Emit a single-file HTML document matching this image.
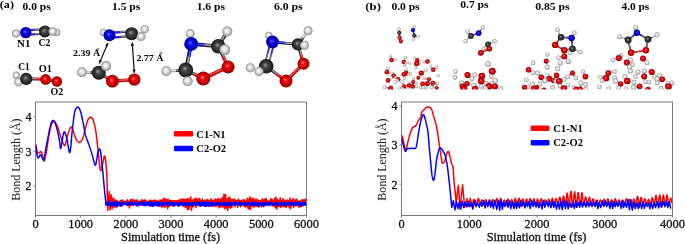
<!DOCTYPE html><html><head><meta charset="utf-8"><style>html,body{margin:0;padding:0;background:#fff;width:685px;height:244px;overflow:hidden}svg{display:block}text{font-family:"Liberation Serif",serif}.gt{filter:grayscale(1)}</style></head><body>
<svg width="685" height="244" viewBox="0 0 685 244">
<defs>
<radialGradient id="gC" cx="50%" cy="50%" r="50%" fx="42%" fy="40%"><stop offset="0" stop-color="#9a9a9a"/><stop offset="0.35" stop-color="#454545"/><stop offset="0.85" stop-color="#222"/><stop offset="1" stop-color="#111"/></radialGradient>
<radialGradient id="gH" cx="50%" cy="50%" r="50%" fx="42%" fy="40%"><stop offset="0" stop-color="#ffffff"/><stop offset="0.45" stop-color="#e2e2e2"/><stop offset="0.85" stop-color="#a8a8a8"/><stop offset="1" stop-color="#808080"/></radialGradient>
<radialGradient id="gN" cx="50%" cy="50%" r="50%" fx="42%" fy="40%"><stop offset="0" stop-color="#6a6aff"/><stop offset="0.35" stop-color="#0a0aee"/><stop offset="0.85" stop-color="#0000b0"/><stop offset="1" stop-color="#000070"/></radialGradient>
<radialGradient id="gO" cx="50%" cy="50%" r="50%" fx="42%" fy="40%"><stop offset="0" stop-color="#ff8080"/><stop offset="0.35" stop-color="#ee0a0a"/><stop offset="0.85" stop-color="#b00000"/><stop offset="1" stop-color="#700000"/></radialGradient>
</defs>
<rect width="685" height="244" fill="#fff"/>
<g><circle cx="16.0" cy="33.6" r="4.0" fill="url(#gH)"/><line x1="25.68" y1="30.14" x2="35.23" y2="29.64" stroke="#0000b0" stroke-width="1.98"/><line x1="25.67" y1="29.90" x2="35.22" y2="29.40" stroke="#5050ff" stroke-width="0.79"/><line x1="35.23" y1="29.64" x2="44.78" y2="29.14" stroke="#2a2a2a" stroke-width="1.98"/><line x1="35.22" y1="29.40" x2="44.77" y2="28.90" stroke="#b0b0b0" stroke-width="0.79"/><line x1="25.92" y1="34.66" x2="35.47" y2="34.16" stroke="#0000b0" stroke-width="1.98"/><line x1="25.91" y1="34.43" x2="35.46" y2="33.93" stroke="#5050ff" stroke-width="0.79"/><line x1="35.47" y1="34.16" x2="45.02" y2="33.66" stroke="#2a2a2a" stroke-width="1.98"/><line x1="35.46" y1="33.93" x2="45.01" y2="33.43" stroke="#b0b0b0" stroke-width="0.79"/><circle cx="25.8" cy="32.6" r="5.7" fill="url(#gN)"/><circle cx="56.5" cy="32.5" r="3.8" fill="url(#gH)"/><circle cx="44.9" cy="31.5" r="5.9" fill="url(#gC)"/><circle cx="52.6" cy="31.5" r="4.2" fill="url(#gH)"/><circle cx="16.3" cy="75.2" r="3.7" fill="url(#gH)"/><circle cx="18.6" cy="82.0" r="4.4" fill="url(#gH)"/><line x1="26.20" y1="78.80" x2="35.90" y2="79.05" stroke="#2a2a2a" stroke-width="3.00"/><line x1="26.21" y1="78.44" x2="35.91" y2="78.69" stroke="#b0b0b0" stroke-width="1.20"/><line x1="35.90" y1="79.05" x2="45.60" y2="79.30" stroke="#b00000" stroke-width="3.00"/><line x1="35.91" y1="78.69" x2="45.61" y2="78.94" stroke="#ff5050" stroke-width="1.20"/><circle cx="26.2" cy="78.9" r="6.1" fill="url(#gC)"/><line x1="45.60" y1="79.30" x2="51.25" y2="80.40" stroke="#b00000" stroke-width="3.40"/><line x1="45.68" y1="78.90" x2="51.33" y2="80.00" stroke="#ff5050" stroke-width="1.36"/><line x1="51.25" y1="80.40" x2="56.90" y2="81.50" stroke="#b00000" stroke-width="3.40"/><line x1="51.33" y1="80.00" x2="56.98" y2="81.10" stroke="#ff5050" stroke-width="1.36"/><circle cx="45.6" cy="79.4" r="5.3" fill="url(#gO)"/><circle cx="56.9" cy="81.5" r="5.2" fill="url(#gO)"/><circle cx="103.6" cy="32.5" r="3.8" fill="url(#gH)"/><line x1="109.33" y1="32.91" x2="120.43" y2="32.11" stroke="#0000b0" stroke-width="2.09"/><line x1="109.31" y1="32.66" x2="120.41" y2="31.86" stroke="#5050ff" stroke-width="0.84"/><line x1="120.43" y1="32.11" x2="131.53" y2="31.31" stroke="#2a2a2a" stroke-width="2.09"/><line x1="120.41" y1="31.86" x2="131.51" y2="31.06" stroke="#b0b0b0" stroke-width="0.84"/><line x1="109.67" y1="37.69" x2="120.77" y2="36.89" stroke="#0000b0" stroke-width="2.09"/><line x1="109.65" y1="37.44" x2="120.75" y2="36.64" stroke="#5050ff" stroke-width="0.84"/><line x1="120.77" y1="36.89" x2="131.87" y2="36.09" stroke="#2a2a2a" stroke-width="2.09"/><line x1="120.75" y1="36.64" x2="131.85" y2="35.84" stroke="#b0b0b0" stroke-width="0.84"/><circle cx="109.5" cy="35.3" r="6.0" fill="url(#gN)"/><circle cx="144.8" cy="29.1" r="4.2" fill="url(#gH)"/><circle cx="131.7" cy="33.7" r="6.5" fill="url(#gC)"/><circle cx="141.1" cy="36.6" r="4.5" fill="url(#gH)"/><line x1="81.90" y1="72.20" x2="90.35" y2="72.45" stroke="#a0a0a0" stroke-width="3.00"/><line x1="81.91" y1="71.84" x2="90.36" y2="72.09" stroke="#f0f0f0" stroke-width="1.20"/><line x1="90.35" y1="72.45" x2="98.80" y2="72.70" stroke="#2a2a2a" stroke-width="3.00"/><line x1="90.36" y1="72.09" x2="98.81" y2="72.34" stroke="#b0b0b0" stroke-width="1.20"/><circle cx="81.9" cy="72.2" r="4.9" fill="url(#gH)"/><line x1="98.80" y1="72.70" x2="105.60" y2="76.95" stroke="#2a2a2a" stroke-width="3.00"/><line x1="98.99" y1="72.39" x2="105.79" y2="76.64" stroke="#b0b0b0" stroke-width="1.20"/><line x1="105.60" y1="76.95" x2="112.40" y2="81.20" stroke="#b00000" stroke-width="3.00"/><line x1="105.79" y1="76.64" x2="112.59" y2="80.89" stroke="#ff5050" stroke-width="1.20"/><circle cx="98.8" cy="72.7" r="7.0" fill="url(#gC)"/><circle cx="106.1" cy="66.1" r="5.0" fill="url(#gH)"/><line x1="112.40" y1="81.20" x2="123.35" y2="80.40" stroke="#b00000" stroke-width="3.40"/><line x1="112.37" y1="80.79" x2="123.32" y2="79.99" stroke="#ff5050" stroke-width="1.36"/><line x1="123.35" y1="80.40" x2="134.30" y2="79.60" stroke="#b00000" stroke-width="3.40"/><line x1="123.32" y1="79.99" x2="134.27" y2="79.19" stroke="#ff5050" stroke-width="1.36"/><circle cx="112.4" cy="81.2" r="6.4" fill="url(#gO)"/><circle cx="134.3" cy="79.6" r="6.2" fill="url(#gO)"/><circle cx="190.2" cy="33.6" r="4.5" fill="url(#gH)"/><line x1="218.30" y1="46.30" x2="222.80" y2="38.90" stroke="#2a2a2a" stroke-width="3.60"/><line x1="217.93" y1="46.08" x2="222.43" y2="38.68" stroke="#b0b0b0" stroke-width="1.44"/><line x1="222.80" y1="38.90" x2="227.30" y2="31.50" stroke="#2a2a2a" stroke-width="3.60"/><line x1="222.43" y1="38.68" x2="226.93" y2="31.28" stroke="#b0b0b0" stroke-width="1.44"/><circle cx="227.3" cy="31.5" r="5.0" fill="url(#gH)"/><line x1="191.20" y1="43.90" x2="204.75" y2="45.10" stroke="#0000b0" stroke-width="3.60"/><line x1="191.24" y1="43.47" x2="204.79" y2="44.67" stroke="#5050ff" stroke-width="1.44"/><line x1="204.75" y1="45.10" x2="218.30" y2="46.30" stroke="#2a2a2a" stroke-width="3.60"/><line x1="204.79" y1="44.67" x2="218.34" y2="45.87" stroke="#b0b0b0" stroke-width="1.44"/><line x1="191.20" y1="43.90" x2="188.50" y2="56.90" stroke="#0000b0" stroke-width="3.80"/><line x1="191.65" y1="43.99" x2="188.95" y2="56.99" stroke="#5050ff" stroke-width="1.52"/><line x1="188.50" y1="56.90" x2="185.80" y2="69.90" stroke="#2a2a2a" stroke-width="3.80"/><line x1="188.95" y1="56.99" x2="186.25" y2="69.99" stroke="#b0b0b0" stroke-width="1.52"/><line x1="218.30" y1="46.30" x2="223.20" y2="56.65" stroke="#2a2a2a" stroke-width="3.30"/><line x1="218.66" y1="46.13" x2="223.56" y2="56.48" stroke="#b0b0b0" stroke-width="1.32"/><line x1="223.20" y1="56.65" x2="228.10" y2="67.00" stroke="#b00000" stroke-width="3.30"/><line x1="223.56" y1="56.48" x2="228.46" y2="66.83" stroke="#ff5050" stroke-width="1.32"/><circle cx="191.2" cy="43.9" r="7.0" fill="url(#gN)"/><circle cx="218.3" cy="46.3" r="7.2" fill="url(#gC)"/><circle cx="224.8" cy="49.6" r="5.4" fill="url(#gH)"/><line x1="166.40" y1="71.20" x2="176.10" y2="70.55" stroke="#a0a0a0" stroke-width="3.00"/><line x1="166.38" y1="70.84" x2="176.08" y2="70.19" stroke="#f0f0f0" stroke-width="1.20"/><line x1="176.10" y1="70.55" x2="185.80" y2="69.90" stroke="#2a2a2a" stroke-width="3.00"/><line x1="176.08" y1="70.19" x2="185.78" y2="69.54" stroke="#b0b0b0" stroke-width="1.20"/><circle cx="166.4" cy="71.2" r="5.0" fill="url(#gH)"/><line x1="185.80" y1="69.90" x2="194.55" y2="74.20" stroke="#2a2a2a" stroke-width="3.30"/><line x1="185.97" y1="69.54" x2="194.72" y2="73.84" stroke="#b0b0b0" stroke-width="1.32"/><line x1="194.55" y1="74.20" x2="203.30" y2="78.50" stroke="#b00000" stroke-width="3.30"/><line x1="194.72" y1="73.84" x2="203.47" y2="78.14" stroke="#ff5050" stroke-width="1.32"/><line x1="203.30" y1="78.50" x2="215.70" y2="72.75" stroke="#b00000" stroke-width="3.60"/><line x1="203.12" y1="78.11" x2="215.52" y2="72.36" stroke="#ff5050" stroke-width="1.44"/><line x1="215.70" y1="72.75" x2="228.10" y2="67.00" stroke="#b00000" stroke-width="3.60"/><line x1="215.52" y1="72.36" x2="227.92" y2="66.61" stroke="#ff5050" stroke-width="1.44"/><circle cx="228.1" cy="67.0" r="6.5" fill="url(#gO)"/><circle cx="185.8" cy="69.9" r="7.4" fill="url(#gC)"/><circle cx="187.6" cy="81.3" r="5.0" fill="url(#gH)"/><circle cx="203.3" cy="78.5" r="7.0" fill="url(#gO)"/><circle cx="268.8" cy="35.4" r="3.6" fill="url(#gH)"/><line x1="298.00" y1="44.40" x2="303.05" y2="37.55" stroke="#2a2a2a" stroke-width="2.80"/><line x1="297.73" y1="44.20" x2="302.78" y2="37.35" stroke="#b0b0b0" stroke-width="1.12"/><line x1="303.05" y1="37.55" x2="308.10" y2="30.70" stroke="#a0a0a0" stroke-width="2.80"/><line x1="302.78" y1="37.35" x2="307.83" y2="30.50" stroke="#f0f0f0" stroke-width="1.12"/><circle cx="308.1" cy="30.7" r="4.5" fill="url(#gH)"/><line x1="272.50" y1="42.00" x2="285.25" y2="43.20" stroke="#0000b0" stroke-width="2.80"/><line x1="272.53" y1="41.67" x2="285.28" y2="42.87" stroke="#5050ff" stroke-width="1.12"/><line x1="285.25" y1="43.20" x2="298.00" y2="44.40" stroke="#2a2a2a" stroke-width="2.80"/><line x1="285.28" y1="42.87" x2="298.03" y2="44.07" stroke="#b0b0b0" stroke-width="1.12"/><line x1="274.33" y1="42.47" x2="271.18" y2="54.62" stroke="#0000b0" stroke-width="1.65"/><line x1="274.52" y1="42.52" x2="271.37" y2="54.67" stroke="#5050ff" stroke-width="0.66"/><line x1="271.18" y1="54.62" x2="268.03" y2="66.77" stroke="#2a2a2a" stroke-width="1.65"/><line x1="271.37" y1="54.67" x2="268.22" y2="66.82" stroke="#b0b0b0" stroke-width="0.66"/><line x1="270.67" y1="41.53" x2="267.52" y2="53.68" stroke="#0000b0" stroke-width="1.65"/><line x1="270.86" y1="41.58" x2="267.71" y2="53.73" stroke="#5050ff" stroke-width="0.66"/><line x1="267.52" y1="53.68" x2="264.37" y2="65.83" stroke="#2a2a2a" stroke-width="1.65"/><line x1="267.71" y1="53.73" x2="264.56" y2="65.88" stroke="#b0b0b0" stroke-width="0.66"/><line x1="298.00" y1="44.40" x2="300.75" y2="54.10" stroke="#2a2a2a" stroke-width="3.00"/><line x1="298.35" y1="44.30" x2="301.10" y2="54.00" stroke="#b0b0b0" stroke-width="1.20"/><line x1="300.75" y1="54.10" x2="303.50" y2="63.80" stroke="#b00000" stroke-width="3.00"/><line x1="301.10" y1="54.00" x2="303.85" y2="63.70" stroke="#ff5050" stroke-width="1.20"/><circle cx="272.5" cy="42.0" r="6.4" fill="url(#gN)"/><circle cx="298.0" cy="44.4" r="6.2" fill="url(#gC)"/><circle cx="304.5" cy="45.3" r="4.5" fill="url(#gH)"/><circle cx="250.3" cy="67.8" r="4.6" fill="url(#gH)"/><line x1="266.20" y1="66.30" x2="276.10" y2="73.65" stroke="#2a2a2a" stroke-width="3.00"/><line x1="266.41" y1="66.01" x2="276.31" y2="73.36" stroke="#b0b0b0" stroke-width="1.20"/><line x1="276.10" y1="73.65" x2="286.00" y2="81.00" stroke="#b00000" stroke-width="3.00"/><line x1="276.31" y1="73.36" x2="286.21" y2="80.71" stroke="#ff5050" stroke-width="1.20"/><line x1="286.00" y1="81.00" x2="294.75" y2="72.40" stroke="#b00000" stroke-width="3.40"/><line x1="285.71" y1="80.71" x2="294.46" y2="72.11" stroke="#ff5050" stroke-width="1.36"/><line x1="294.75" y1="72.40" x2="303.50" y2="63.80" stroke="#b00000" stroke-width="3.40"/><line x1="294.46" y1="72.11" x2="303.21" y2="63.51" stroke="#ff5050" stroke-width="1.36"/><circle cx="303.5" cy="63.8" r="6.0" fill="url(#gO)"/><circle cx="266.2" cy="66.3" r="7.3" fill="url(#gC)"/><circle cx="259.0" cy="71.4" r="4.6" fill="url(#gH)"/><circle cx="286.0" cy="81.0" r="6.5" fill="url(#gO)"/><line x1="107.9" y1="43.0" x2="99.3" y2="63.4" stroke="#111" stroke-width="1.2"/><polygon points="107.90,43.00 105.09,45.29 108.22,46.61" fill="#111"/><polygon points="99.30,63.40 102.11,61.11 98.98,59.79" fill="#111"/><line x1="132.2" y1="42.6" x2="134.3" y2="72.9" stroke="#111" stroke-width="1.2"/><polygon points="132.20,42.60 130.73,45.91 134.12,45.67" fill="#111"/><polygon points="134.30,72.90 135.77,69.59 132.38,69.83" fill="#111"/></g>
<g><line x1="391.50" y1="60.00" x2="391.15" y2="57.85" stroke="#b00000" stroke-width="1.10"/><line x1="391.37" y1="60.02" x2="391.02" y2="57.87" stroke="#ff5050" stroke-width="0.44"/><line x1="391.15" y1="57.85" x2="390.80" y2="55.70" stroke="#a0a0a0" stroke-width="1.10"/><line x1="391.02" y1="57.87" x2="390.67" y2="55.72" stroke="#f0f0f0" stroke-width="0.44"/><line x1="391.50" y1="60.00" x2="393.55" y2="59.75" stroke="#b00000" stroke-width="1.10"/><line x1="391.48" y1="59.87" x2="393.53" y2="59.62" stroke="#ff5050" stroke-width="0.44"/><line x1="393.55" y1="59.75" x2="395.60" y2="59.50" stroke="#a0a0a0" stroke-width="1.10"/><line x1="393.53" y1="59.62" x2="395.58" y2="59.37" stroke="#f0f0f0" stroke-width="0.44"/><line x1="403.80" y1="62.00" x2="404.60" y2="59.75" stroke="#b00000" stroke-width="1.10"/><line x1="403.68" y1="61.96" x2="404.48" y2="59.71" stroke="#ff5050" stroke-width="0.44"/><line x1="404.60" y1="59.75" x2="405.40" y2="57.50" stroke="#a0a0a0" stroke-width="1.10"/><line x1="404.48" y1="59.71" x2="405.28" y2="57.46" stroke="#f0f0f0" stroke-width="0.44"/><line x1="403.80" y1="62.00" x2="404.95" y2="62.55" stroke="#b00000" stroke-width="1.10"/><line x1="403.86" y1="61.88" x2="405.01" y2="62.43" stroke="#ff5050" stroke-width="0.44"/><line x1="404.95" y1="62.55" x2="406.10" y2="63.10" stroke="#a0a0a0" stroke-width="1.10"/><line x1="405.01" y1="62.43" x2="406.16" y2="62.98" stroke="#f0f0f0" stroke-width="0.44"/><line x1="403.80" y1="62.00" x2="406.70" y2="62.65" stroke="#b00000" stroke-width="1.10"/><line x1="403.83" y1="61.87" x2="406.73" y2="62.52" stroke="#ff5050" stroke-width="0.44"/><line x1="406.70" y1="62.65" x2="409.60" y2="63.30" stroke="#a0a0a0" stroke-width="1.10"/><line x1="406.73" y1="62.52" x2="409.63" y2="63.17" stroke="#f0f0f0" stroke-width="0.44"/><line x1="403.80" y1="62.00" x2="404.20" y2="63.70" stroke="#b00000" stroke-width="1.10"/><line x1="403.93" y1="61.97" x2="404.33" y2="63.67" stroke="#ff5050" stroke-width="0.44"/><line x1="404.20" y1="63.70" x2="404.60" y2="65.40" stroke="#a0a0a0" stroke-width="1.10"/><line x1="404.33" y1="63.67" x2="404.73" y2="65.37" stroke="#f0f0f0" stroke-width="0.44"/><line x1="417.30" y1="60.20" x2="416.05" y2="59.10" stroke="#b00000" stroke-width="1.10"/><line x1="417.21" y1="60.30" x2="415.96" y2="59.20" stroke="#ff5050" stroke-width="0.44"/><line x1="416.05" y1="59.10" x2="414.80" y2="58.00" stroke="#a0a0a0" stroke-width="1.10"/><line x1="415.96" y1="59.20" x2="414.71" y2="58.10" stroke="#f0f0f0" stroke-width="0.44"/><line x1="416.70" y1="63.60" x2="416.20" y2="65.65" stroke="#b00000" stroke-width="1.10"/><line x1="416.83" y1="63.63" x2="416.33" y2="65.68" stroke="#ff5050" stroke-width="0.44"/><line x1="416.20" y1="65.65" x2="415.70" y2="67.70" stroke="#a0a0a0" stroke-width="1.10"/><line x1="416.33" y1="65.68" x2="415.83" y2="67.73" stroke="#f0f0f0" stroke-width="0.44"/><line x1="416.70" y1="63.60" x2="418.15" y2="63.35" stroke="#b00000" stroke-width="1.10"/><line x1="416.68" y1="63.47" x2="418.13" y2="63.22" stroke="#ff5050" stroke-width="0.44"/><line x1="418.15" y1="63.35" x2="419.60" y2="63.10" stroke="#a0a0a0" stroke-width="1.10"/><line x1="418.13" y1="63.22" x2="419.58" y2="62.97" stroke="#f0f0f0" stroke-width="0.44"/><line x1="427.50" y1="61.50" x2="425.70" y2="61.65" stroke="#b00000" stroke-width="1.10"/><line x1="427.51" y1="61.63" x2="425.71" y2="61.78" stroke="#ff5050" stroke-width="0.44"/><line x1="425.70" y1="61.65" x2="423.90" y2="61.80" stroke="#a0a0a0" stroke-width="1.10"/><line x1="425.71" y1="61.78" x2="423.91" y2="61.93" stroke="#f0f0f0" stroke-width="0.44"/><line x1="433.20" y1="69.70" x2="431.95" y2="67.85" stroke="#b00000" stroke-width="1.10"/><line x1="433.09" y1="69.77" x2="431.84" y2="67.92" stroke="#ff5050" stroke-width="0.44"/><line x1="431.95" y1="67.85" x2="430.70" y2="66.00" stroke="#a0a0a0" stroke-width="1.10"/><line x1="431.84" y1="67.92" x2="430.59" y2="66.07" stroke="#f0f0f0" stroke-width="0.44"/><line x1="433.20" y1="69.70" x2="434.85" y2="68.45" stroke="#b00000" stroke-width="1.10"/><line x1="433.12" y1="69.59" x2="434.77" y2="68.34" stroke="#ff5050" stroke-width="0.44"/><line x1="434.85" y1="68.45" x2="436.50" y2="67.20" stroke="#a0a0a0" stroke-width="1.10"/><line x1="434.77" y1="68.34" x2="436.42" y2="67.09" stroke="#f0f0f0" stroke-width="0.44"/><line x1="386.90" y1="72.20" x2="387.40" y2="70.20" stroke="#b00000" stroke-width="1.10"/><line x1="386.77" y1="72.17" x2="387.27" y2="70.17" stroke="#ff5050" stroke-width="0.44"/><line x1="387.40" y1="70.20" x2="387.90" y2="68.20" stroke="#a0a0a0" stroke-width="1.10"/><line x1="387.27" y1="70.17" x2="387.77" y2="68.17" stroke="#f0f0f0" stroke-width="0.44"/><line x1="393.80" y1="75.80" x2="392.40" y2="74.70" stroke="#b00000" stroke-width="1.10"/><line x1="393.72" y1="75.90" x2="392.32" y2="74.80" stroke="#ff5050" stroke-width="0.44"/><line x1="392.40" y1="74.70" x2="391.00" y2="73.60" stroke="#a0a0a0" stroke-width="1.10"/><line x1="392.32" y1="74.80" x2="390.92" y2="73.70" stroke="#f0f0f0" stroke-width="0.44"/><line x1="393.80" y1="75.80" x2="393.50" y2="74.90" stroke="#b00000" stroke-width="1.10"/><line x1="393.67" y1="75.84" x2="393.37" y2="74.94" stroke="#ff5050" stroke-width="0.44"/><line x1="393.50" y1="74.90" x2="393.20" y2="74.00" stroke="#a0a0a0" stroke-width="1.10"/><line x1="393.37" y1="74.94" x2="393.07" y2="74.04" stroke="#f0f0f0" stroke-width="0.44"/><line x1="393.80" y1="75.80" x2="392.55" y2="76.90" stroke="#b00000" stroke-width="1.10"/><line x1="393.89" y1="75.90" x2="392.64" y2="77.00" stroke="#ff5050" stroke-width="0.44"/><line x1="392.55" y1="76.90" x2="391.30" y2="78.00" stroke="#a0a0a0" stroke-width="1.10"/><line x1="392.64" y1="77.00" x2="391.39" y2="78.10" stroke="#f0f0f0" stroke-width="0.44"/><line x1="393.80" y1="75.80" x2="394.65" y2="76.65" stroke="#b00000" stroke-width="1.10"/><line x1="393.89" y1="75.71" x2="394.74" y2="76.56" stroke="#ff5050" stroke-width="0.44"/><line x1="394.65" y1="76.65" x2="395.50" y2="77.50" stroke="#a0a0a0" stroke-width="1.10"/><line x1="394.74" y1="76.56" x2="395.59" y2="77.41" stroke="#f0f0f0" stroke-width="0.44"/><line x1="398.20" y1="79.20" x2="397.70" y2="79.85" stroke="#b00000" stroke-width="1.10"/><line x1="398.30" y1="79.28" x2="397.80" y2="79.93" stroke="#ff5050" stroke-width="0.44"/><line x1="397.70" y1="79.85" x2="397.20" y2="80.50" stroke="#a0a0a0" stroke-width="1.10"/><line x1="397.80" y1="79.93" x2="397.30" y2="80.58" stroke="#f0f0f0" stroke-width="0.44"/><line x1="398.20" y1="79.20" x2="396.85" y2="80.60" stroke="#b00000" stroke-width="1.10"/><line x1="398.30" y1="79.29" x2="396.95" y2="80.69" stroke="#ff5050" stroke-width="0.44"/><line x1="396.85" y1="80.60" x2="395.50" y2="82.00" stroke="#a0a0a0" stroke-width="1.10"/><line x1="396.95" y1="80.69" x2="395.60" y2="82.09" stroke="#f0f0f0" stroke-width="0.44"/><line x1="406.00" y1="73.20" x2="406.10" y2="71.70" stroke="#b00000" stroke-width="1.10"/><line x1="405.87" y1="73.19" x2="405.97" y2="71.69" stroke="#ff5050" stroke-width="0.44"/><line x1="406.10" y1="71.70" x2="406.20" y2="70.20" stroke="#a0a0a0" stroke-width="1.10"/><line x1="405.97" y1="71.69" x2="406.07" y2="70.19" stroke="#f0f0f0" stroke-width="0.44"/><line x1="406.00" y1="73.20" x2="407.30" y2="73.85" stroke="#b00000" stroke-width="1.10"/><line x1="406.06" y1="73.08" x2="407.36" y2="73.73" stroke="#ff5050" stroke-width="0.44"/><line x1="407.30" y1="73.85" x2="408.60" y2="74.50" stroke="#a0a0a0" stroke-width="1.10"/><line x1="407.36" y1="73.73" x2="408.66" y2="74.38" stroke="#f0f0f0" stroke-width="0.44"/><line x1="406.00" y1="73.20" x2="408.15" y2="73.40" stroke="#b00000" stroke-width="1.10"/><line x1="406.01" y1="73.07" x2="408.16" y2="73.27" stroke="#ff5050" stroke-width="0.44"/><line x1="408.15" y1="73.40" x2="410.30" y2="73.60" stroke="#a0a0a0" stroke-width="1.10"/><line x1="408.16" y1="73.27" x2="410.31" y2="73.47" stroke="#f0f0f0" stroke-width="0.44"/><line x1="403.80" y1="74.30" x2="404.15" y2="76.20" stroke="#b00000" stroke-width="1.10"/><line x1="403.93" y1="74.28" x2="404.28" y2="76.18" stroke="#ff5050" stroke-width="0.44"/><line x1="404.15" y1="76.20" x2="404.50" y2="78.10" stroke="#a0a0a0" stroke-width="1.10"/><line x1="404.28" y1="76.18" x2="404.63" y2="78.08" stroke="#f0f0f0" stroke-width="0.44"/><line x1="429.00" y1="79.30" x2="426.60" y2="78.90" stroke="#b00000" stroke-width="1.10"/><line x1="428.98" y1="79.43" x2="426.58" y2="79.03" stroke="#ff5050" stroke-width="0.44"/><line x1="426.60" y1="78.90" x2="424.20" y2="78.50" stroke="#a0a0a0" stroke-width="1.10"/><line x1="426.58" y1="79.03" x2="424.18" y2="78.63" stroke="#f0f0f0" stroke-width="0.44"/><line x1="413.20" y1="82.00" x2="413.35" y2="80.25" stroke="#b00000" stroke-width="1.10"/><line x1="413.07" y1="81.99" x2="413.22" y2="80.24" stroke="#ff5050" stroke-width="0.44"/><line x1="413.35" y1="80.25" x2="413.50" y2="78.50" stroke="#a0a0a0" stroke-width="1.10"/><line x1="413.22" y1="80.24" x2="413.37" y2="78.49" stroke="#f0f0f0" stroke-width="0.44"/><line x1="404.20" y1="86.40" x2="403.15" y2="84.25" stroke="#b00000" stroke-width="1.10"/><line x1="404.08" y1="86.46" x2="403.03" y2="84.31" stroke="#ff5050" stroke-width="0.44"/><line x1="403.15" y1="84.25" x2="402.10" y2="82.10" stroke="#a0a0a0" stroke-width="1.10"/><line x1="403.03" y1="84.31" x2="401.98" y2="82.16" stroke="#f0f0f0" stroke-width="0.44"/><line x1="409.00" y1="85.50" x2="409.35" y2="84.55" stroke="#b00000" stroke-width="1.10"/><line x1="408.88" y1="85.45" x2="409.23" y2="84.50" stroke="#ff5050" stroke-width="0.44"/><line x1="409.35" y1="84.55" x2="409.70" y2="83.60" stroke="#a0a0a0" stroke-width="1.10"/><line x1="409.23" y1="84.50" x2="409.58" y2="83.55" stroke="#f0f0f0" stroke-width="0.44"/><line x1="413.20" y1="82.00" x2="414.60" y2="82.40" stroke="#b00000" stroke-width="1.10"/><line x1="413.24" y1="81.87" x2="414.64" y2="82.27" stroke="#ff5050" stroke-width="0.44"/><line x1="414.60" y1="82.40" x2="416.00" y2="82.80" stroke="#a0a0a0" stroke-width="1.10"/><line x1="414.64" y1="82.27" x2="416.04" y2="82.67" stroke="#f0f0f0" stroke-width="0.44"/><line x1="412.70" y1="86.40" x2="414.60" y2="86.45" stroke="#b00000" stroke-width="1.10"/><line x1="412.70" y1="86.27" x2="414.60" y2="86.32" stroke="#ff5050" stroke-width="0.44"/><line x1="414.60" y1="86.45" x2="416.50" y2="86.50" stroke="#a0a0a0" stroke-width="1.10"/><line x1="414.60" y1="86.32" x2="416.50" y2="86.37" stroke="#f0f0f0" stroke-width="0.44"/><line x1="422.60" y1="84.00" x2="421.55" y2="85.75" stroke="#b00000" stroke-width="1.10"/><line x1="422.71" y1="84.07" x2="421.66" y2="85.82" stroke="#ff5050" stroke-width="0.44"/><line x1="421.55" y1="85.75" x2="420.50" y2="87.50" stroke="#a0a0a0" stroke-width="1.10"/><line x1="421.66" y1="85.82" x2="420.61" y2="87.57" stroke="#f0f0f0" stroke-width="0.44"/><line x1="422.60" y1="84.00" x2="423.05" y2="85.75" stroke="#b00000" stroke-width="1.10"/><line x1="422.73" y1="83.97" x2="423.18" y2="85.72" stroke="#ff5050" stroke-width="0.44"/><line x1="423.05" y1="85.75" x2="423.50" y2="87.50" stroke="#a0a0a0" stroke-width="1.10"/><line x1="423.18" y1="85.72" x2="423.63" y2="87.47" stroke="#f0f0f0" stroke-width="0.44"/><line x1="436.70" y1="88.00" x2="435.85" y2="87.00" stroke="#b00000" stroke-width="1.10"/><line x1="436.60" y1="88.09" x2="435.75" y2="87.09" stroke="#ff5050" stroke-width="0.44"/><line x1="435.85" y1="87.00" x2="435.00" y2="86.00" stroke="#a0a0a0" stroke-width="1.10"/><line x1="435.75" y1="87.09" x2="434.90" y2="86.09" stroke="#f0f0f0" stroke-width="0.44"/><line x1="433.00" y1="83.20" x2="432.30" y2="85.30" stroke="#b00000" stroke-width="1.10"/><line x1="433.13" y1="83.24" x2="432.43" y2="85.34" stroke="#ff5050" stroke-width="0.44"/><line x1="432.30" y1="85.30" x2="431.60" y2="87.40" stroke="#a0a0a0" stroke-width="1.10"/><line x1="432.43" y1="85.34" x2="431.73" y2="87.44" stroke="#f0f0f0" stroke-width="0.44"/><line x1="390.50" y1="88.50" x2="390.95" y2="87.70" stroke="#b00000" stroke-width="1.10"/><line x1="390.38" y1="88.44" x2="390.83" y2="87.64" stroke="#ff5050" stroke-width="0.44"/><line x1="390.95" y1="87.70" x2="391.40" y2="86.90" stroke="#a0a0a0" stroke-width="1.10"/><line x1="390.83" y1="87.64" x2="391.28" y2="86.84" stroke="#f0f0f0" stroke-width="0.44"/><line x1="390.50" y1="88.50" x2="387.50" y2="87.70" stroke="#b00000" stroke-width="1.10"/><line x1="390.47" y1="88.63" x2="387.47" y2="87.83" stroke="#ff5050" stroke-width="0.44"/><line x1="387.50" y1="87.70" x2="384.50" y2="86.90" stroke="#a0a0a0" stroke-width="1.10"/><line x1="387.47" y1="87.83" x2="384.47" y2="87.03" stroke="#f0f0f0" stroke-width="0.44"/><line x1="421.20" y1="73.00" x2="423.60" y2="71.50" stroke="#b00000" stroke-width="1.10"/><line x1="421.13" y1="72.89" x2="423.53" y2="71.39" stroke="#ff5050" stroke-width="0.44"/><line x1="423.60" y1="71.50" x2="426.00" y2="70.00" stroke="#a0a0a0" stroke-width="1.10"/><line x1="423.53" y1="71.39" x2="425.93" y2="69.89" stroke="#f0f0f0" stroke-width="0.44"/><line x1="433.00" y1="83.20" x2="435.25" y2="83.35" stroke="#b00000" stroke-width="1.10"/><line x1="433.01" y1="83.07" x2="435.26" y2="83.22" stroke="#ff5050" stroke-width="0.44"/><line x1="435.25" y1="83.35" x2="437.50" y2="83.50" stroke="#a0a0a0" stroke-width="1.10"/><line x1="435.26" y1="83.22" x2="437.51" y2="83.37" stroke="#f0f0f0" stroke-width="0.44"/><line x1="404.20" y1="86.40" x2="401.60" y2="87.20" stroke="#b00000" stroke-width="1.10"/><line x1="404.24" y1="86.53" x2="401.64" y2="87.33" stroke="#ff5050" stroke-width="0.44"/><line x1="401.60" y1="87.20" x2="399.00" y2="88.00" stroke="#a0a0a0" stroke-width="1.10"/><line x1="401.64" y1="87.33" x2="399.04" y2="88.13" stroke="#f0f0f0" stroke-width="0.44"/><line x1="404.20" y1="86.40" x2="403.35" y2="87.50" stroke="#b00000" stroke-width="1.10"/><line x1="404.30" y1="86.48" x2="403.45" y2="87.58" stroke="#ff5050" stroke-width="0.44"/><line x1="403.35" y1="87.50" x2="402.50" y2="88.60" stroke="#a0a0a0" stroke-width="1.10"/><line x1="403.45" y1="87.58" x2="402.60" y2="88.68" stroke="#f0f0f0" stroke-width="0.44"/><line x1="409.00" y1="85.50" x2="408.50" y2="87.05" stroke="#b00000" stroke-width="1.10"/><line x1="409.13" y1="85.54" x2="408.63" y2="87.09" stroke="#ff5050" stroke-width="0.44"/><line x1="408.50" y1="87.05" x2="408.00" y2="88.60" stroke="#a0a0a0" stroke-width="1.10"/><line x1="408.63" y1="87.09" x2="408.13" y2="88.64" stroke="#f0f0f0" stroke-width="0.44"/><line x1="427.30" y1="83.60" x2="426.90" y2="86.00" stroke="#b00000" stroke-width="1.10"/><line x1="427.43" y1="83.62" x2="427.03" y2="86.02" stroke="#ff5050" stroke-width="0.44"/><line x1="426.90" y1="86.00" x2="426.50" y2="88.40" stroke="#a0a0a0" stroke-width="1.10"/><line x1="427.03" y1="86.02" x2="426.63" y2="88.42" stroke="#f0f0f0" stroke-width="0.44"/><line x1="492.30" y1="71.30" x2="491.80" y2="73.95" stroke="#b00000" stroke-width="1.55"/><line x1="492.48" y1="71.33" x2="491.98" y2="73.98" stroke="#ff5050" stroke-width="0.62"/><line x1="491.80" y1="73.95" x2="491.30" y2="76.60" stroke="#a0a0a0" stroke-width="1.55"/><line x1="491.98" y1="73.98" x2="491.48" y2="76.63" stroke="#f0f0f0" stroke-width="0.62"/><line x1="495.00" y1="86.50" x2="495.15" y2="83.55" stroke="#b00000" stroke-width="1.55"/><line x1="494.81" y1="86.49" x2="494.96" y2="83.54" stroke="#ff5050" stroke-width="0.62"/><line x1="495.15" y1="83.55" x2="495.30" y2="80.60" stroke="#a0a0a0" stroke-width="1.55"/><line x1="494.96" y1="83.54" x2="495.11" y2="80.59" stroke="#f0f0f0" stroke-width="0.62"/><line x1="467.50" y1="75.00" x2="469.75" y2="76.90" stroke="#b00000" stroke-width="1.55"/><line x1="467.62" y1="74.86" x2="469.87" y2="76.76" stroke="#ff5050" stroke-width="0.62"/><line x1="469.75" y1="76.90" x2="472.00" y2="78.80" stroke="#a0a0a0" stroke-width="1.55"/><line x1="469.87" y1="76.76" x2="472.12" y2="78.66" stroke="#f0f0f0" stroke-width="0.62"/><line x1="481.20" y1="81.00" x2="481.20" y2="83.75" stroke="#b00000" stroke-width="1.55"/><line x1="481.39" y1="81.00" x2="481.39" y2="83.75" stroke="#ff5050" stroke-width="0.62"/><line x1="481.20" y1="83.75" x2="481.20" y2="86.50" stroke="#a0a0a0" stroke-width="1.55"/><line x1="481.39" y1="83.75" x2="481.39" y2="86.50" stroke="#f0f0f0" stroke-width="0.62"/><line x1="489.00" y1="86.50" x2="487.65" y2="85.05" stroke="#b00000" stroke-width="1.55"/><line x1="488.86" y1="86.63" x2="487.51" y2="85.18" stroke="#ff5050" stroke-width="0.62"/><line x1="487.65" y1="85.05" x2="486.30" y2="83.60" stroke="#a0a0a0" stroke-width="1.55"/><line x1="487.51" y1="85.18" x2="486.16" y2="83.73" stroke="#f0f0f0" stroke-width="0.62"/><line x1="462.60" y1="86.50" x2="462.05" y2="84.85" stroke="#b00000" stroke-width="1.55"/><line x1="462.42" y1="86.56" x2="461.87" y2="84.91" stroke="#ff5050" stroke-width="0.62"/><line x1="462.05" y1="84.85" x2="461.50" y2="83.20" stroke="#a0a0a0" stroke-width="1.55"/><line x1="461.87" y1="84.91" x2="461.32" y2="83.26" stroke="#f0f0f0" stroke-width="0.62"/><line x1="475.20" y1="89.00" x2="474.60" y2="87.25" stroke="#b00000" stroke-width="1.55"/><line x1="475.02" y1="89.06" x2="474.42" y2="87.31" stroke="#ff5050" stroke-width="0.62"/><line x1="474.60" y1="87.25" x2="474.00" y2="85.50" stroke="#a0a0a0" stroke-width="1.55"/><line x1="474.42" y1="87.31" x2="473.82" y2="85.56" stroke="#f0f0f0" stroke-width="0.62"/><line x1="489.00" y1="86.50" x2="490.25" y2="85.00" stroke="#b00000" stroke-width="1.55"/><line x1="488.86" y1="86.38" x2="490.11" y2="84.88" stroke="#ff5050" stroke-width="0.62"/><line x1="490.25" y1="85.00" x2="491.50" y2="83.50" stroke="#a0a0a0" stroke-width="1.55"/><line x1="490.11" y1="84.88" x2="491.36" y2="83.38" stroke="#f0f0f0" stroke-width="0.62"/><line x1="495.00" y1="86.50" x2="497.75" y2="87.50" stroke="#b00000" stroke-width="1.55"/><line x1="495.06" y1="86.33" x2="497.81" y2="87.33" stroke="#ff5050" stroke-width="0.62"/><line x1="497.75" y1="87.50" x2="500.50" y2="88.50" stroke="#a0a0a0" stroke-width="1.55"/><line x1="497.81" y1="87.33" x2="500.56" y2="88.33" stroke="#f0f0f0" stroke-width="0.62"/><line x1="489.00" y1="86.50" x2="487.25" y2="87.50" stroke="#b00000" stroke-width="1.55"/><line x1="489.09" y1="86.66" x2="487.34" y2="87.66" stroke="#ff5050" stroke-width="0.62"/><line x1="487.25" y1="87.50" x2="485.50" y2="88.50" stroke="#a0a0a0" stroke-width="1.55"/><line x1="487.34" y1="87.66" x2="485.59" y2="88.66" stroke="#f0f0f0" stroke-width="0.62"/><line x1="546.20" y1="61.00" x2="546.70" y2="64.10" stroke="#b00000" stroke-width="1.40"/><line x1="546.37" y1="60.97" x2="546.87" y2="64.07" stroke="#ff5050" stroke-width="0.56"/><line x1="546.70" y1="64.10" x2="547.20" y2="67.20" stroke="#a0a0a0" stroke-width="1.40"/><line x1="546.87" y1="64.07" x2="547.37" y2="67.17" stroke="#f0f0f0" stroke-width="0.56"/><line x1="564.30" y1="56.40" x2="561.40" y2="57.05" stroke="#b00000" stroke-width="1.40"/><line x1="564.34" y1="56.56" x2="561.44" y2="57.21" stroke="#ff5050" stroke-width="0.56"/><line x1="561.40" y1="57.05" x2="558.50" y2="57.70" stroke="#a0a0a0" stroke-width="1.40"/><line x1="561.44" y1="57.21" x2="558.54" y2="57.86" stroke="#f0f0f0" stroke-width="0.56"/><line x1="564.30" y1="56.40" x2="566.30" y2="58.90" stroke="#b00000" stroke-width="1.40"/><line x1="564.43" y1="56.30" x2="566.43" y2="58.80" stroke="#ff5050" stroke-width="0.56"/><line x1="566.30" y1="58.90" x2="568.30" y2="61.40" stroke="#a0a0a0" stroke-width="1.40"/><line x1="566.43" y1="58.80" x2="568.43" y2="61.30" stroke="#f0f0f0" stroke-width="0.56"/><line x1="528.60" y1="69.80" x2="530.80" y2="71.25" stroke="#b00000" stroke-width="1.40"/><line x1="528.69" y1="69.66" x2="530.89" y2="71.11" stroke="#ff5050" stroke-width="0.56"/><line x1="530.80" y1="71.25" x2="533.00" y2="72.70" stroke="#a0a0a0" stroke-width="1.40"/><line x1="530.89" y1="71.11" x2="533.09" y2="72.56" stroke="#f0f0f0" stroke-width="0.56"/><line x1="541.30" y1="77.30" x2="539.40" y2="75.15" stroke="#b00000" stroke-width="1.40"/><line x1="541.17" y1="77.41" x2="539.27" y2="75.26" stroke="#ff5050" stroke-width="0.56"/><line x1="539.40" y1="75.15" x2="537.50" y2="73.00" stroke="#a0a0a0" stroke-width="1.40"/><line x1="539.27" y1="75.26" x2="537.37" y2="73.11" stroke="#f0f0f0" stroke-width="0.56"/><line x1="549.30" y1="78.70" x2="548.50" y2="77.25" stroke="#b00000" stroke-width="1.40"/><line x1="549.15" y1="78.78" x2="548.35" y2="77.33" stroke="#ff5050" stroke-width="0.56"/><line x1="548.50" y1="77.25" x2="547.70" y2="75.80" stroke="#a0a0a0" stroke-width="1.40"/><line x1="548.35" y1="77.33" x2="547.55" y2="75.88" stroke="#f0f0f0" stroke-width="0.56"/><line x1="549.30" y1="78.70" x2="547.15" y2="79.65" stroke="#b00000" stroke-width="1.40"/><line x1="549.37" y1="78.85" x2="547.22" y2="79.80" stroke="#ff5050" stroke-width="0.56"/><line x1="547.15" y1="79.65" x2="545.00" y2="80.60" stroke="#a0a0a0" stroke-width="1.40"/><line x1="547.22" y1="79.80" x2="545.07" y2="80.75" stroke="#f0f0f0" stroke-width="0.56"/><line x1="536.50" y1="87.50" x2="538.25" y2="85.75" stroke="#b00000" stroke-width="1.40"/><line x1="536.38" y1="87.38" x2="538.13" y2="85.63" stroke="#ff5050" stroke-width="0.56"/><line x1="538.25" y1="85.75" x2="540.00" y2="84.00" stroke="#a0a0a0" stroke-width="1.40"/><line x1="538.13" y1="85.63" x2="539.88" y2="83.88" stroke="#f0f0f0" stroke-width="0.56"/><line x1="553.50" y1="80.60" x2="554.60" y2="80.95" stroke="#b00000" stroke-width="1.40"/><line x1="553.55" y1="80.44" x2="554.65" y2="80.79" stroke="#ff5050" stroke-width="0.56"/><line x1="554.60" y1="80.95" x2="555.70" y2="81.30" stroke="#a0a0a0" stroke-width="1.40"/><line x1="554.65" y1="80.79" x2="555.75" y2="81.14" stroke="#f0f0f0" stroke-width="0.56"/><line x1="559.30" y1="81.30" x2="561.60" y2="80.45" stroke="#b00000" stroke-width="1.40"/><line x1="559.24" y1="81.14" x2="561.54" y2="80.29" stroke="#ff5050" stroke-width="0.56"/><line x1="561.60" y1="80.45" x2="563.90" y2="79.60" stroke="#a0a0a0" stroke-width="1.40"/><line x1="561.54" y1="80.29" x2="563.84" y2="79.44" stroke="#f0f0f0" stroke-width="0.56"/><line x1="572.50" y1="73.00" x2="570.15" y2="74.90" stroke="#b00000" stroke-width="1.40"/><line x1="572.61" y1="73.13" x2="570.26" y2="75.03" stroke="#ff5050" stroke-width="0.56"/><line x1="570.15" y1="74.90" x2="567.80" y2="76.80" stroke="#a0a0a0" stroke-width="1.40"/><line x1="570.26" y1="75.03" x2="567.91" y2="76.93" stroke="#f0f0f0" stroke-width="0.56"/><line x1="572.50" y1="73.00" x2="574.15" y2="75.50" stroke="#b00000" stroke-width="1.40"/><line x1="572.64" y1="72.91" x2="574.29" y2="75.41" stroke="#ff5050" stroke-width="0.56"/><line x1="574.15" y1="75.50" x2="575.80" y2="78.00" stroke="#a0a0a0" stroke-width="1.40"/><line x1="574.29" y1="75.41" x2="575.94" y2="77.91" stroke="#f0f0f0" stroke-width="0.56"/><line x1="585.40" y1="76.60" x2="584.20" y2="74.10" stroke="#b00000" stroke-width="1.40"/><line x1="585.25" y1="76.67" x2="584.05" y2="74.17" stroke="#ff5050" stroke-width="0.56"/><line x1="584.20" y1="74.10" x2="583.00" y2="71.60" stroke="#a0a0a0" stroke-width="1.40"/><line x1="584.05" y1="74.17" x2="582.85" y2="71.67" stroke="#f0f0f0" stroke-width="0.56"/><line x1="580.30" y1="89.00" x2="580.65" y2="86.00" stroke="#b00000" stroke-width="1.40"/><line x1="580.13" y1="88.98" x2="580.48" y2="85.98" stroke="#ff5050" stroke-width="0.56"/><line x1="580.65" y1="86.00" x2="581.00" y2="83.00" stroke="#a0a0a0" stroke-width="1.40"/><line x1="580.48" y1="85.98" x2="580.83" y2="82.98" stroke="#f0f0f0" stroke-width="0.56"/><line x1="524.50" y1="87.50" x2="526.15" y2="87.15" stroke="#b00000" stroke-width="1.40"/><line x1="524.47" y1="87.34" x2="526.12" y2="86.99" stroke="#ff5050" stroke-width="0.56"/><line x1="526.15" y1="87.15" x2="527.80" y2="86.80" stroke="#a0a0a0" stroke-width="1.40"/><line x1="526.12" y1="86.99" x2="527.77" y2="86.64" stroke="#f0f0f0" stroke-width="0.56"/><line x1="533.70" y1="88.70" x2="533.10" y2="86.50" stroke="#b00000" stroke-width="1.40"/><line x1="533.54" y1="88.74" x2="532.94" y2="86.54" stroke="#ff5050" stroke-width="0.56"/><line x1="533.10" y1="86.50" x2="532.50" y2="84.30" stroke="#a0a0a0" stroke-width="1.40"/><line x1="532.94" y1="86.54" x2="532.34" y2="84.34" stroke="#f0f0f0" stroke-width="0.56"/><line x1="576.30" y1="89.50" x2="575.15" y2="88.50" stroke="#b00000" stroke-width="1.40"/><line x1="576.19" y1="89.63" x2="575.04" y2="88.63" stroke="#ff5050" stroke-width="0.56"/><line x1="575.15" y1="88.50" x2="574.00" y2="87.50" stroke="#a0a0a0" stroke-width="1.40"/><line x1="575.04" y1="88.63" x2="573.89" y2="87.63" stroke="#f0f0f0" stroke-width="0.56"/><line x1="580.30" y1="89.00" x2="583.15" y2="89.00" stroke="#b00000" stroke-width="1.40"/><line x1="580.30" y1="88.83" x2="583.15" y2="88.83" stroke="#ff5050" stroke-width="0.56"/><line x1="583.15" y1="89.00" x2="586.00" y2="89.00" stroke="#a0a0a0" stroke-width="1.40"/><line x1="583.15" y1="88.83" x2="586.00" y2="88.83" stroke="#f0f0f0" stroke-width="0.56"/><line x1="563.90" y1="88.50" x2="561.95" y2="87.25" stroke="#b00000" stroke-width="1.40"/><line x1="563.81" y1="88.64" x2="561.86" y2="87.39" stroke="#ff5050" stroke-width="0.56"/><line x1="561.95" y1="87.25" x2="560.00" y2="86.00" stroke="#a0a0a0" stroke-width="1.40"/><line x1="561.86" y1="87.39" x2="559.91" y2="86.14" stroke="#f0f0f0" stroke-width="0.56"/><line x1="563.90" y1="88.50" x2="565.95" y2="86.75" stroke="#b00000" stroke-width="1.40"/><line x1="563.79" y1="88.37" x2="565.84" y2="86.62" stroke="#ff5050" stroke-width="0.56"/><line x1="565.95" y1="86.75" x2="568.00" y2="85.00" stroke="#a0a0a0" stroke-width="1.40"/><line x1="565.84" y1="86.62" x2="567.89" y2="84.87" stroke="#f0f0f0" stroke-width="0.56"/><line x1="643.00" y1="58.50" x2="645.00" y2="60.70" stroke="#b00000" stroke-width="1.50"/><line x1="643.13" y1="58.38" x2="645.13" y2="60.58" stroke="#ff5050" stroke-width="0.60"/><line x1="645.00" y1="60.70" x2="647.00" y2="62.90" stroke="#a0a0a0" stroke-width="1.50"/><line x1="645.13" y1="60.58" x2="647.13" y2="62.78" stroke="#f0f0f0" stroke-width="0.60"/><line x1="618.90" y1="58.00" x2="619.95" y2="56.85" stroke="#b00000" stroke-width="1.50"/><line x1="618.77" y1="57.88" x2="619.82" y2="56.73" stroke="#ff5050" stroke-width="0.60"/><line x1="619.95" y1="56.85" x2="621.00" y2="55.70" stroke="#a0a0a0" stroke-width="1.50"/><line x1="619.82" y1="56.73" x2="620.87" y2="55.58" stroke="#f0f0f0" stroke-width="0.60"/><line x1="618.90" y1="58.00" x2="615.90" y2="59.05" stroke="#b00000" stroke-width="1.50"/><line x1="618.96" y1="58.17" x2="615.96" y2="59.22" stroke="#ff5050" stroke-width="0.60"/><line x1="615.90" y1="59.05" x2="612.90" y2="60.10" stroke="#a0a0a0" stroke-width="1.50"/><line x1="615.96" y1="59.22" x2="612.96" y2="60.27" stroke="#f0f0f0" stroke-width="0.60"/><line x1="626.70" y1="62.50" x2="628.55" y2="61.30" stroke="#b00000" stroke-width="1.50"/><line x1="626.60" y1="62.35" x2="628.45" y2="61.15" stroke="#ff5050" stroke-width="0.60"/><line x1="628.55" y1="61.30" x2="630.40" y2="60.10" stroke="#a0a0a0" stroke-width="1.50"/><line x1="628.45" y1="61.15" x2="630.30" y2="59.95" stroke="#f0f0f0" stroke-width="0.60"/><line x1="626.70" y1="62.50" x2="629.75" y2="63.60" stroke="#b00000" stroke-width="1.50"/><line x1="626.76" y1="62.33" x2="629.81" y2="63.43" stroke="#ff5050" stroke-width="0.60"/><line x1="629.75" y1="63.60" x2="632.80" y2="64.70" stroke="#a0a0a0" stroke-width="1.50"/><line x1="629.81" y1="63.43" x2="632.86" y2="64.53" stroke="#f0f0f0" stroke-width="0.60"/><line x1="626.70" y1="62.50" x2="628.10" y2="64.75" stroke="#b00000" stroke-width="1.50"/><line x1="626.85" y1="62.40" x2="628.25" y2="64.65" stroke="#ff5050" stroke-width="0.60"/><line x1="628.10" y1="64.75" x2="629.50" y2="67.00" stroke="#a0a0a0" stroke-width="1.50"/><line x1="628.25" y1="64.65" x2="629.65" y2="66.90" stroke="#f0f0f0" stroke-width="0.60"/><line x1="608.30" y1="73.10" x2="611.40" y2="72.30" stroke="#b00000" stroke-width="1.50"/><line x1="608.26" y1="72.93" x2="611.36" y2="72.13" stroke="#ff5050" stroke-width="0.60"/><line x1="611.40" y1="72.30" x2="614.50" y2="71.50" stroke="#a0a0a0" stroke-width="1.50"/><line x1="611.36" y1="72.13" x2="614.46" y2="71.33" stroke="#f0f0f0" stroke-width="0.60"/><line x1="606.00" y1="78.30" x2="603.25" y2="77.65" stroke="#b00000" stroke-width="1.50"/><line x1="605.96" y1="78.48" x2="603.21" y2="77.83" stroke="#ff5050" stroke-width="0.60"/><line x1="603.25" y1="77.65" x2="600.50" y2="77.00" stroke="#a0a0a0" stroke-width="1.50"/><line x1="603.21" y1="77.83" x2="600.46" y2="77.18" stroke="#f0f0f0" stroke-width="0.60"/><line x1="606.00" y1="78.30" x2="604.00" y2="79.50" stroke="#b00000" stroke-width="1.50"/><line x1="606.09" y1="78.45" x2="604.09" y2="79.65" stroke="#ff5050" stroke-width="0.60"/><line x1="604.00" y1="79.50" x2="602.00" y2="80.70" stroke="#a0a0a0" stroke-width="1.50"/><line x1="604.09" y1="79.65" x2="602.09" y2="80.85" stroke="#f0f0f0" stroke-width="0.60"/><line x1="620.60" y1="84.00" x2="618.15" y2="82.50" stroke="#b00000" stroke-width="1.50"/><line x1="620.51" y1="84.15" x2="618.06" y2="82.65" stroke="#ff5050" stroke-width="0.60"/><line x1="618.15" y1="82.50" x2="615.70" y2="81.00" stroke="#a0a0a0" stroke-width="1.50"/><line x1="618.06" y1="82.65" x2="615.61" y2="81.15" stroke="#f0f0f0" stroke-width="0.60"/><line x1="620.60" y1="84.00" x2="619.65" y2="86.00" stroke="#b00000" stroke-width="1.50"/><line x1="620.76" y1="84.08" x2="619.81" y2="86.08" stroke="#ff5050" stroke-width="0.60"/><line x1="619.65" y1="86.00" x2="618.70" y2="88.00" stroke="#a0a0a0" stroke-width="1.50"/><line x1="619.81" y1="86.08" x2="618.86" y2="88.08" stroke="#f0f0f0" stroke-width="0.60"/><line x1="627.30" y1="81.00" x2="626.05" y2="78.75" stroke="#b00000" stroke-width="1.50"/><line x1="627.14" y1="81.09" x2="625.89" y2="78.84" stroke="#ff5050" stroke-width="0.60"/><line x1="626.05" y1="78.75" x2="624.80" y2="76.50" stroke="#a0a0a0" stroke-width="1.50"/><line x1="625.89" y1="78.84" x2="624.64" y2="76.59" stroke="#f0f0f0" stroke-width="0.60"/><line x1="639.60" y1="86.30" x2="636.60" y2="86.75" stroke="#b00000" stroke-width="1.50"/><line x1="639.63" y1="86.48" x2="636.63" y2="86.93" stroke="#ff5050" stroke-width="0.60"/><line x1="636.60" y1="86.75" x2="633.60" y2="87.20" stroke="#a0a0a0" stroke-width="1.50"/><line x1="636.63" y1="86.93" x2="633.63" y2="87.38" stroke="#f0f0f0" stroke-width="0.60"/><line x1="644.20" y1="76.50" x2="644.30" y2="73.75" stroke="#b00000" stroke-width="1.50"/><line x1="644.02" y1="76.49" x2="644.12" y2="73.74" stroke="#ff5050" stroke-width="0.60"/><line x1="644.30" y1="73.75" x2="644.40" y2="71.00" stroke="#a0a0a0" stroke-width="1.50"/><line x1="644.12" y1="73.74" x2="644.22" y2="70.99" stroke="#f0f0f0" stroke-width="0.60"/><line x1="644.20" y1="76.50" x2="644.90" y2="79.10" stroke="#b00000" stroke-width="1.50"/><line x1="644.37" y1="76.45" x2="645.07" y2="79.05" stroke="#ff5050" stroke-width="0.60"/><line x1="644.90" y1="79.10" x2="645.60" y2="81.70" stroke="#a0a0a0" stroke-width="1.50"/><line x1="645.07" y1="79.05" x2="645.77" y2="81.65" stroke="#f0f0f0" stroke-width="0.60"/><line x1="651.70" y1="72.00" x2="653.10" y2="74.35" stroke="#b00000" stroke-width="1.50"/><line x1="651.85" y1="71.91" x2="653.25" y2="74.26" stroke="#ff5050" stroke-width="0.60"/><line x1="653.10" y1="74.35" x2="654.50" y2="76.70" stroke="#a0a0a0" stroke-width="1.50"/><line x1="653.25" y1="74.26" x2="654.65" y2="76.61" stroke="#f0f0f0" stroke-width="0.60"/><line x1="662.30" y1="79.30" x2="660.90" y2="77.40" stroke="#b00000" stroke-width="1.50"/><line x1="662.16" y1="79.41" x2="660.76" y2="77.51" stroke="#ff5050" stroke-width="0.60"/><line x1="660.90" y1="77.40" x2="659.50" y2="75.50" stroke="#a0a0a0" stroke-width="1.50"/><line x1="660.76" y1="77.51" x2="659.36" y2="75.61" stroke="#f0f0f0" stroke-width="0.60"/><line x1="662.30" y1="79.30" x2="659.75" y2="79.10" stroke="#b00000" stroke-width="1.50"/><line x1="662.29" y1="79.48" x2="659.74" y2="79.28" stroke="#ff5050" stroke-width="0.60"/><line x1="659.75" y1="79.10" x2="657.20" y2="78.90" stroke="#a0a0a0" stroke-width="1.50"/><line x1="659.74" y1="79.28" x2="657.19" y2="79.08" stroke="#f0f0f0" stroke-width="0.60"/><line x1="662.30" y1="79.30" x2="659.75" y2="81.15" stroke="#b00000" stroke-width="1.50"/><line x1="662.41" y1="79.45" x2="659.86" y2="81.30" stroke="#ff5050" stroke-width="0.60"/><line x1="659.75" y1="81.15" x2="657.20" y2="83.00" stroke="#a0a0a0" stroke-width="1.50"/><line x1="659.86" y1="81.30" x2="657.31" y2="83.15" stroke="#f0f0f0" stroke-width="0.60"/><line x1="668.50" y1="86.50" x2="668.15" y2="84.95" stroke="#b00000" stroke-width="1.50"/><line x1="668.32" y1="86.54" x2="667.97" y2="84.99" stroke="#ff5050" stroke-width="0.60"/><line x1="668.15" y1="84.95" x2="667.80" y2="83.40" stroke="#a0a0a0" stroke-width="1.50"/><line x1="667.97" y1="84.99" x2="667.62" y2="83.44" stroke="#f0f0f0" stroke-width="0.60"/><line x1="668.50" y1="86.50" x2="670.00" y2="84.75" stroke="#b00000" stroke-width="1.50"/><line x1="668.36" y1="86.38" x2="669.86" y2="84.63" stroke="#ff5050" stroke-width="0.60"/><line x1="670.00" y1="84.75" x2="671.50" y2="83.00" stroke="#a0a0a0" stroke-width="1.50"/><line x1="669.86" y1="84.63" x2="671.36" y2="82.88" stroke="#f0f0f0" stroke-width="0.60"/><circle cx="547.4" cy="54.6" r="2.2" fill="url(#gH)"/><circle cx="390.8" cy="55.7" r="1.5" fill="url(#gH)"/><circle cx="621.0" cy="55.7" r="2.4" fill="url(#gH)"/><circle cx="564.3" cy="56.4" r="2.9" fill="url(#gO)"/><circle cx="405.4" cy="57.5" r="1.7" fill="url(#gH)"/><circle cx="558.5" cy="57.7" r="2.3" fill="url(#gH)"/><circle cx="414.8" cy="58.0" r="1.5" fill="url(#gH)"/><circle cx="618.9" cy="58.0" r="3.1" fill="url(#gO)"/><circle cx="643.0" cy="58.5" r="3.0" fill="url(#gO)"/><circle cx="395.6" cy="59.5" r="1.6" fill="url(#gH)"/><circle cx="391.5" cy="60.0" r="2.3" fill="url(#gO)"/><circle cx="612.9" cy="60.1" r="2.4" fill="url(#gH)"/><circle cx="630.4" cy="60.1" r="2.6" fill="url(#gH)"/><circle cx="417.3" cy="60.2" r="2.1" fill="url(#gO)"/><circle cx="546.2" cy="61.0" r="2.5" fill="url(#gO)"/><circle cx="568.3" cy="61.4" r="2.6" fill="url(#gH)"/><circle cx="427.5" cy="61.5" r="2.3" fill="url(#gO)"/><circle cx="423.9" cy="61.8" r="1.6" fill="url(#gH)"/><circle cx="403.8" cy="62.0" r="2.3" fill="url(#gO)"/><circle cx="626.7" cy="62.5" r="3.0" fill="url(#gO)"/><circle cx="560.1" cy="62.9" r="2.5" fill="url(#gH)"/><circle cx="533.0" cy="62.9" r="2.3" fill="url(#gH)"/><circle cx="647.0" cy="62.9" r="2.4" fill="url(#gH)"/><circle cx="406.1" cy="63.1" r="1.4" fill="url(#gH)"/><circle cx="419.6" cy="63.1" r="1.8" fill="url(#gH)"/><circle cx="409.6" cy="63.3" r="1.4" fill="url(#gH)"/><circle cx="416.7" cy="63.6" r="2.6" fill="url(#gO)"/><circle cx="488.0" cy="64.0" r="2.7" fill="url(#gH)"/><circle cx="632.8" cy="64.7" r="2.2" fill="url(#gH)"/><circle cx="404.6" cy="65.4" r="1.8" fill="url(#gH)"/><circle cx="430.7" cy="66.0" r="1.5" fill="url(#gH)"/><circle cx="629.5" cy="67.0" r="2.5" fill="url(#gH)"/><circle cx="436.5" cy="67.2" r="1.8" fill="url(#gH)"/><circle cx="547.2" cy="67.2" r="2.5" fill="url(#gH)"/><circle cx="415.7" cy="67.7" r="1.6" fill="url(#gH)"/><circle cx="387.9" cy="68.2" r="1.7" fill="url(#gH)"/><circle cx="557.8" cy="68.6" r="2.5" fill="url(#gH)"/><circle cx="433.2" cy="69.7" r="2.3" fill="url(#gO)"/><circle cx="528.6" cy="69.8" r="2.8" fill="url(#gO)"/><circle cx="426.0" cy="70.0" r="1.8" fill="url(#gH)"/><circle cx="406.2" cy="70.2" r="1.8" fill="url(#gH)"/><circle cx="630.4" cy="71.0" r="2.6" fill="url(#gH)"/><circle cx="644.4" cy="71.0" r="2.6" fill="url(#gH)"/><circle cx="492.3" cy="71.3" r="3.5" fill="url(#gO)"/><circle cx="455.4" cy="71.5" r="2.3" fill="url(#gH)"/><circle cx="614.5" cy="71.5" r="2.3" fill="url(#gH)"/><circle cx="583.0" cy="71.6" r="2.1" fill="url(#gH)"/><circle cx="638.0" cy="72.0" r="2.5" fill="url(#gH)"/><circle cx="651.7" cy="72.0" r="3.1" fill="url(#gO)"/><circle cx="386.9" cy="72.2" r="2.4" fill="url(#gO)"/><circle cx="533.0" cy="72.7" r="2.4" fill="url(#gH)"/><circle cx="421.2" cy="73.0" r="2.6" fill="url(#gO)"/><circle cx="537.5" cy="73.0" r="2.4" fill="url(#gH)"/><circle cx="572.5" cy="73.0" r="2.5" fill="url(#gO)"/><circle cx="608.3" cy="73.1" r="2.9" fill="url(#gO)"/><circle cx="406.0" cy="73.2" r="2.5" fill="url(#gO)"/><circle cx="391.0" cy="73.6" r="1.7" fill="url(#gH)"/><circle cx="410.3" cy="73.6" r="1.8" fill="url(#gH)"/><circle cx="393.2" cy="74.0" r="1.4" fill="url(#gH)"/><circle cx="403.8" cy="74.3" r="2.4" fill="url(#gO)"/><circle cx="408.6" cy="74.5" r="1.6" fill="url(#gH)"/><circle cx="467.5" cy="75.0" r="3.1" fill="url(#gO)"/><circle cx="474.8" cy="75.0" r="2.4" fill="url(#gH)"/><circle cx="438.1" cy="75.4" r="1.7" fill="url(#gH)"/><circle cx="556.5" cy="75.4" r="2.8" fill="url(#gO)"/><circle cx="659.5" cy="75.5" r="2.6" fill="url(#gH)"/><circle cx="393.8" cy="75.8" r="2.4" fill="url(#gO)"/><circle cx="547.7" cy="75.8" r="2.4" fill="url(#gH)"/><circle cx="481.8" cy="76.0" r="3.3" fill="url(#gO)"/><circle cx="624.8" cy="76.5" r="2.4" fill="url(#gH)"/><circle cx="644.2" cy="76.5" r="3.0" fill="url(#gO)"/><circle cx="491.3" cy="76.6" r="2.3" fill="url(#gH)"/><circle cx="585.4" cy="76.6" r="2.9" fill="url(#gO)"/><circle cx="635.5" cy="76.6" r="2.3" fill="url(#gH)"/><circle cx="654.5" cy="76.7" r="2.3" fill="url(#gH)"/><circle cx="567.8" cy="76.8" r="2.4" fill="url(#gH)"/><circle cx="600.5" cy="77.0" r="2.3" fill="url(#gH)"/><circle cx="541.3" cy="77.3" r="2.9" fill="url(#gO)"/><circle cx="395.5" cy="77.5" r="1.4" fill="url(#gH)"/><circle cx="455.0" cy="77.5" r="2.4" fill="url(#gH)"/><circle cx="418.3" cy="77.8" r="2.0" fill="url(#gO)"/><circle cx="391.3" cy="78.0" r="1.6" fill="url(#gH)"/><circle cx="575.8" cy="78.0" r="2.3" fill="url(#gH)"/><circle cx="614.7" cy="78.0" r="2.4" fill="url(#gH)"/><circle cx="404.5" cy="78.1" r="1.6" fill="url(#gH)"/><circle cx="606.0" cy="78.3" r="3.3" fill="url(#gO)"/><circle cx="424.2" cy="78.5" r="1.8" fill="url(#gH)"/><circle cx="413.5" cy="78.5" r="1.5" fill="url(#gH)"/><circle cx="549.3" cy="78.7" r="2.9" fill="url(#gO)"/><circle cx="472.0" cy="78.8" r="2.4" fill="url(#gH)"/><circle cx="657.2" cy="78.9" r="2.6" fill="url(#gH)"/><circle cx="398.2" cy="79.2" r="2.2" fill="url(#gO)"/><circle cx="429.0" cy="79.3" r="2.1" fill="url(#gO)"/><circle cx="662.3" cy="79.3" r="2.8" fill="url(#gO)"/><circle cx="563.9" cy="79.6" r="2.4" fill="url(#gH)"/><circle cx="526.5" cy="80.0" r="2.3" fill="url(#gH)"/><circle cx="388.0" cy="80.4" r="2.3" fill="url(#gO)"/><circle cx="397.2" cy="80.5" r="1.8" fill="url(#gH)"/><circle cx="495.3" cy="80.6" r="2.7" fill="url(#gH)"/><circle cx="545.0" cy="80.6" r="2.6" fill="url(#gH)"/><circle cx="553.5" cy="80.6" r="2.7" fill="url(#gO)"/><circle cx="602.0" cy="80.7" r="2.3" fill="url(#gH)"/><circle cx="481.2" cy="81.0" r="3.4" fill="url(#gO)"/><circle cx="615.7" cy="81.0" r="2.5" fill="url(#gH)"/><circle cx="627.3" cy="81.0" r="3.3" fill="url(#gO)"/><circle cx="555.7" cy="81.3" r="2.3" fill="url(#gH)"/><circle cx="559.3" cy="81.3" r="3.2" fill="url(#gO)"/><circle cx="645.6" cy="81.7" r="2.3" fill="url(#gH)"/><circle cx="395.5" cy="82.0" r="1.8" fill="url(#gH)"/><circle cx="413.2" cy="82.0" r="2.1" fill="url(#gO)"/><circle cx="649.0" cy="82.0" r="2.3" fill="url(#gH)"/><circle cx="402.1" cy="82.1" r="1.9" fill="url(#gH)"/><circle cx="634.0" cy="82.5" r="2.4" fill="url(#gH)"/><circle cx="416.0" cy="82.8" r="1.6" fill="url(#gH)"/><circle cx="581.0" cy="83.0" r="2.4" fill="url(#gH)"/><circle cx="657.2" cy="83.0" r="2.3" fill="url(#gH)"/><circle cx="671.5" cy="83.0" r="2.6" fill="url(#gH)"/><circle cx="433.0" cy="83.2" r="2.5" fill="url(#gO)"/><circle cx="461.5" cy="83.2" r="2.7" fill="url(#gH)"/><circle cx="667.8" cy="83.4" r="2.5" fill="url(#gH)"/><circle cx="437.5" cy="83.5" r="1.5" fill="url(#gH)"/><circle cx="491.5" cy="83.5" r="2.3" fill="url(#gH)"/><circle cx="409.7" cy="83.6" r="1.6" fill="url(#gH)"/><circle cx="427.3" cy="83.6" r="2.6" fill="url(#gO)"/><circle cx="486.3" cy="83.6" r="2.6" fill="url(#gH)"/><circle cx="467.0" cy="83.7" r="2.8" fill="url(#gO)"/><circle cx="422.6" cy="84.0" r="2.4" fill="url(#gO)"/><circle cx="540.0" cy="84.0" r="2.4" fill="url(#gH)"/><circle cx="620.6" cy="84.0" r="2.8" fill="url(#gO)"/><circle cx="532.5" cy="84.3" r="2.5" fill="url(#gH)"/><circle cx="585.7" cy="84.5" r="2.4" fill="url(#gH)"/><circle cx="568.0" cy="85.0" r="2.3" fill="url(#gH)"/><circle cx="409.0" cy="85.5" r="2.3" fill="url(#gO)"/><circle cx="474.0" cy="85.5" r="2.8" fill="url(#gH)"/><circle cx="435.0" cy="86.0" r="1.9" fill="url(#gH)"/><circle cx="560.0" cy="86.0" r="2.4" fill="url(#gH)"/><circle cx="639.6" cy="86.3" r="2.9" fill="url(#gO)"/><circle cx="404.2" cy="86.4" r="2.2" fill="url(#gO)"/><circle cx="412.7" cy="86.4" r="2.3" fill="url(#gO)"/><circle cx="416.5" cy="86.5" r="1.7" fill="url(#gH)"/><circle cx="481.2" cy="86.5" r="2.3" fill="url(#gH)"/><circle cx="462.6" cy="86.5" r="3.0" fill="url(#gO)"/><circle cx="489.0" cy="86.5" r="3.5" fill="url(#gO)"/><circle cx="495.0" cy="86.5" r="3.0" fill="url(#gO)"/><circle cx="668.5" cy="86.5" r="3.3" fill="url(#gO)"/><circle cx="527.8" cy="86.8" r="2.4" fill="url(#gH)"/><circle cx="391.4" cy="86.9" r="1.8" fill="url(#gH)"/><circle cx="384.5" cy="86.9" r="1.9" fill="url(#gH)"/><circle cx="599.5" cy="87.0" r="2.3" fill="url(#gH)"/><circle cx="633.6" cy="87.2" r="2.6" fill="url(#gH)"/><circle cx="431.6" cy="87.4" r="1.7" fill="url(#gH)"/><circle cx="420.5" cy="87.5" r="1.7" fill="url(#gH)"/><circle cx="423.5" cy="87.5" r="1.9" fill="url(#gH)"/><circle cx="524.5" cy="87.5" r="2.7" fill="url(#gO)"/><circle cx="536.5" cy="87.5" r="2.5" fill="url(#gO)"/><circle cx="552.5" cy="87.5" r="2.4" fill="url(#gH)"/><circle cx="574.0" cy="87.5" r="2.2" fill="url(#gH)"/><circle cx="436.7" cy="88.0" r="2.0" fill="url(#gO)"/><circle cx="399.0" cy="88.0" r="1.8" fill="url(#gH)"/><circle cx="618.7" cy="88.0" r="2.4" fill="url(#gH)"/><circle cx="426.5" cy="88.4" r="1.4" fill="url(#gH)"/><circle cx="390.5" cy="88.5" r="2.6" fill="url(#gO)"/><circle cx="500.5" cy="88.5" r="2.6" fill="url(#gH)"/><circle cx="485.5" cy="88.5" r="2.5" fill="url(#gH)"/><circle cx="563.9" cy="88.5" r="3.2" fill="url(#gO)"/><circle cx="661.0" cy="88.5" r="2.4" fill="url(#gH)"/><circle cx="626.0" cy="88.5" r="2.3" fill="url(#gH)"/><circle cx="402.5" cy="88.6" r="1.7" fill="url(#gH)"/><circle cx="408.0" cy="88.6" r="1.5" fill="url(#gH)"/><circle cx="533.7" cy="88.7" r="3.0" fill="url(#gO)"/><circle cx="464.0" cy="89.0" r="3.4" fill="url(#gO)"/><circle cx="475.2" cy="89.0" r="3.2" fill="url(#gO)"/><circle cx="580.3" cy="89.0" r="2.5" fill="url(#gO)"/><circle cx="586.0" cy="89.0" r="2.3" fill="url(#gH)"/><circle cx="608.5" cy="89.0" r="2.6" fill="url(#gH)"/><circle cx="576.3" cy="89.5" r="2.9" fill="url(#gO)"/><circle cx="648.0" cy="89.5" r="2.8" fill="url(#gO)"/><circle cx="544.0" cy="90.0" r="2.5" fill="url(#gO)"/></g>
<g><line x1="398.80" y1="29.00" x2="399.05" y2="30.90" stroke="#a0a0a0" stroke-width="1.40"/><line x1="398.97" y1="28.98" x2="399.22" y2="30.88" stroke="#f0f0f0" stroke-width="0.56"/><line x1="399.05" y1="30.90" x2="399.30" y2="32.80" stroke="#2a2a2a" stroke-width="1.40"/><line x1="399.22" y1="30.88" x2="399.47" y2="32.78" stroke="#b0b0b0" stroke-width="0.56"/><line x1="399.30" y1="32.80" x2="399.45" y2="35.25" stroke="#2a2a2a" stroke-width="1.40"/><line x1="399.47" y1="32.79" x2="399.62" y2="35.24" stroke="#b0b0b0" stroke-width="0.56"/><line x1="399.45" y1="35.25" x2="399.60" y2="37.70" stroke="#b00000" stroke-width="1.40"/><line x1="399.62" y1="35.24" x2="399.77" y2="37.69" stroke="#ff5050" stroke-width="0.56"/><line x1="399.60" y1="37.70" x2="400.25" y2="39.50" stroke="#b00000" stroke-width="1.40"/><line x1="399.76" y1="37.64" x2="400.41" y2="39.44" stroke="#ff5050" stroke-width="0.56"/><line x1="400.25" y1="39.50" x2="400.90" y2="41.30" stroke="#b00000" stroke-width="1.40"/><line x1="400.41" y1="39.44" x2="401.06" y2="41.24" stroke="#ff5050" stroke-width="0.56"/><circle cx="398.8" cy="29.0" r="1.8" fill="url(#gH)"/><circle cx="399.3" cy="32.8" r="2.1" fill="url(#gC)"/><circle cx="399.6" cy="37.7" r="2.1" fill="url(#gO)"/><circle cx="400.9" cy="41.3" r="2.1" fill="url(#gO)"/><line x1="414.30" y1="26.60" x2="413.65" y2="28.40" stroke="#a0a0a0" stroke-width="1.40"/><line x1="414.46" y1="26.66" x2="413.81" y2="28.46" stroke="#f0f0f0" stroke-width="0.56"/><line x1="413.65" y1="28.40" x2="413.00" y2="30.20" stroke="#0000b0" stroke-width="1.40"/><line x1="413.81" y1="28.46" x2="413.16" y2="30.26" stroke="#5050ff" stroke-width="0.56"/><line x1="413.00" y1="30.20" x2="413.65" y2="32.90" stroke="#0000b0" stroke-width="1.40"/><line x1="413.16" y1="30.16" x2="413.81" y2="32.86" stroke="#5050ff" stroke-width="0.56"/><line x1="413.65" y1="32.90" x2="414.30" y2="35.60" stroke="#2a2a2a" stroke-width="1.40"/><line x1="413.81" y1="32.86" x2="414.46" y2="35.56" stroke="#b0b0b0" stroke-width="0.56"/><line x1="414.30" y1="35.60" x2="416.15" y2="36.00" stroke="#2a2a2a" stroke-width="1.40"/><line x1="414.34" y1="35.44" x2="416.19" y2="35.84" stroke="#b0b0b0" stroke-width="0.56"/><line x1="416.15" y1="36.00" x2="418.00" y2="36.40" stroke="#a0a0a0" stroke-width="1.40"/><line x1="416.19" y1="35.84" x2="418.04" y2="36.24" stroke="#f0f0f0" stroke-width="0.56"/><line x1="414.30" y1="35.60" x2="413.90" y2="37.45" stroke="#2a2a2a" stroke-width="1.40"/><line x1="414.46" y1="35.64" x2="414.06" y2="37.49" stroke="#b0b0b0" stroke-width="0.56"/><line x1="413.90" y1="37.45" x2="413.50" y2="39.30" stroke="#a0a0a0" stroke-width="1.40"/><line x1="414.06" y1="37.49" x2="413.66" y2="39.34" stroke="#f0f0f0" stroke-width="0.56"/><circle cx="414.3" cy="26.6" r="1.7" fill="url(#gH)"/><circle cx="413.0" cy="30.2" r="2.1" fill="url(#gN)"/><circle cx="414.3" cy="35.6" r="2.1" fill="url(#gC)"/><circle cx="418.0" cy="36.4" r="1.7" fill="url(#gH)"/><circle cx="413.5" cy="39.3" r="1.7" fill="url(#gH)"/><line x1="471.00" y1="35.90" x2="474.85" y2="34.50" stroke="#2a2a2a" stroke-width="1.60"/><line x1="470.93" y1="35.72" x2="474.78" y2="34.32" stroke="#b0b0b0" stroke-width="0.64"/><line x1="474.85" y1="34.50" x2="478.70" y2="33.10" stroke="#0000b0" stroke-width="1.60"/><line x1="474.78" y1="34.32" x2="478.63" y2="32.92" stroke="#5050ff" stroke-width="0.64"/><line x1="478.70" y1="33.10" x2="480.75" y2="30.25" stroke="#0000b0" stroke-width="1.40"/><line x1="478.56" y1="33.00" x2="480.61" y2="30.15" stroke="#5050ff" stroke-width="0.56"/><line x1="480.75" y1="30.25" x2="482.80" y2="27.40" stroke="#a0a0a0" stroke-width="1.40"/><line x1="480.61" y1="30.15" x2="482.66" y2="27.30" stroke="#f0f0f0" stroke-width="0.56"/><line x1="471.00" y1="35.90" x2="469.35" y2="33.85" stroke="#2a2a2a" stroke-width="1.40"/><line x1="470.87" y1="36.01" x2="469.22" y2="33.96" stroke="#b0b0b0" stroke-width="0.56"/><line x1="469.35" y1="33.85" x2="467.70" y2="31.80" stroke="#a0a0a0" stroke-width="1.40"/><line x1="469.22" y1="33.96" x2="467.57" y2="31.91" stroke="#f0f0f0" stroke-width="0.56"/><line x1="471.00" y1="35.90" x2="468.30" y2="38.45" stroke="#2a2a2a" stroke-width="1.40"/><line x1="471.12" y1="36.02" x2="468.42" y2="38.57" stroke="#b0b0b0" stroke-width="0.56"/><line x1="468.30" y1="38.45" x2="465.60" y2="41.00" stroke="#a0a0a0" stroke-width="1.40"/><line x1="468.42" y1="38.57" x2="465.72" y2="41.12" stroke="#f0f0f0" stroke-width="0.56"/><circle cx="467.7" cy="31.8" r="2.3" fill="url(#gH)"/><circle cx="471.0" cy="35.9" r="2.8" fill="url(#gC)"/><circle cx="465.6" cy="41.0" r="2.2" fill="url(#gH)"/><circle cx="478.7" cy="33.1" r="2.9" fill="url(#gN)"/><circle cx="482.8" cy="27.4" r="2.2" fill="url(#gH)"/><line x1="488.00" y1="44.30" x2="491.30" y2="42.80" stroke="#2a2a2a" stroke-width="1.40"/><line x1="487.93" y1="44.15" x2="491.23" y2="42.65" stroke="#b0b0b0" stroke-width="0.56"/><line x1="491.30" y1="42.80" x2="494.60" y2="41.30" stroke="#a0a0a0" stroke-width="1.40"/><line x1="491.23" y1="42.65" x2="494.53" y2="41.15" stroke="#f0f0f0" stroke-width="0.56"/><line x1="488.00" y1="44.30" x2="488.65" y2="46.50" stroke="#2a2a2a" stroke-width="1.40"/><line x1="488.16" y1="44.25" x2="488.81" y2="46.45" stroke="#b0b0b0" stroke-width="0.56"/><line x1="488.65" y1="46.50" x2="489.30" y2="48.70" stroke="#b00000" stroke-width="1.40"/><line x1="488.81" y1="46.45" x2="489.46" y2="48.65" stroke="#ff5050" stroke-width="0.56"/><line x1="489.30" y1="48.70" x2="485.05" y2="50.75" stroke="#b00000" stroke-width="1.60"/><line x1="489.38" y1="48.87" x2="485.13" y2="50.92" stroke="#ff5050" stroke-width="0.64"/><line x1="485.05" y1="50.75" x2="480.80" y2="52.80" stroke="#b00000" stroke-width="1.60"/><line x1="485.13" y1="50.92" x2="480.88" y2="52.97" stroke="#ff5050" stroke-width="0.64"/><line x1="488.00" y1="44.30" x2="485.80" y2="46.50" stroke="#2a2a2a" stroke-width="1.40"/><line x1="488.12" y1="44.42" x2="485.92" y2="46.62" stroke="#b0b0b0" stroke-width="0.56"/><line x1="485.80" y1="46.50" x2="483.60" y2="48.70" stroke="#a0a0a0" stroke-width="1.40"/><line x1="485.92" y1="46.62" x2="483.72" y2="48.82" stroke="#f0f0f0" stroke-width="0.56"/><circle cx="488.0" cy="44.3" r="2.8" fill="url(#gC)"/><circle cx="494.6" cy="41.3" r="2.2" fill="url(#gH)"/><circle cx="483.6" cy="48.7" r="2.1" fill="url(#gH)"/><circle cx="489.3" cy="48.7" r="2.8" fill="url(#gO)"/><circle cx="480.8" cy="52.8" r="2.9" fill="url(#gO)"/><line x1="557.40" y1="29.80" x2="559.20" y2="33.50" stroke="#a0a0a0" stroke-width="1.40"/><line x1="557.55" y1="29.73" x2="559.35" y2="33.43" stroke="#f0f0f0" stroke-width="0.56"/><line x1="559.20" y1="33.50" x2="561.00" y2="37.20" stroke="#2a2a2a" stroke-width="1.40"/><line x1="559.35" y1="33.43" x2="561.15" y2="37.13" stroke="#b0b0b0" stroke-width="0.56"/><line x1="561.00" y1="37.20" x2="566.30" y2="37.60" stroke="#2a2a2a" stroke-width="1.60"/><line x1="561.01" y1="37.01" x2="566.31" y2="37.41" stroke="#b0b0b0" stroke-width="0.64"/><line x1="566.30" y1="37.60" x2="571.60" y2="38.00" stroke="#0000b0" stroke-width="1.60"/><line x1="566.31" y1="37.41" x2="571.61" y2="37.81" stroke="#5050ff" stroke-width="0.64"/><line x1="571.60" y1="38.00" x2="573.00" y2="35.40" stroke="#0000b0" stroke-width="1.40"/><line x1="571.45" y1="37.92" x2="572.85" y2="35.32" stroke="#5050ff" stroke-width="0.56"/><line x1="573.00" y1="35.40" x2="574.40" y2="32.80" stroke="#a0a0a0" stroke-width="1.40"/><line x1="572.85" y1="35.32" x2="574.25" y2="32.72" stroke="#f0f0f0" stroke-width="0.56"/><line x1="571.60" y1="38.00" x2="572.05" y2="43.35" stroke="#0000b0" stroke-width="1.60"/><line x1="571.79" y1="37.98" x2="572.24" y2="43.33" stroke="#5050ff" stroke-width="0.64"/><line x1="572.05" y1="43.35" x2="572.50" y2="48.70" stroke="#2a2a2a" stroke-width="1.60"/><line x1="572.24" y1="43.33" x2="572.69" y2="48.68" stroke="#b0b0b0" stroke-width="0.64"/><line x1="572.50" y1="48.70" x2="576.40" y2="50.35" stroke="#2a2a2a" stroke-width="1.40"/><line x1="572.57" y1="48.55" x2="576.47" y2="50.20" stroke="#b0b0b0" stroke-width="0.56"/><line x1="576.40" y1="50.35" x2="580.30" y2="52.00" stroke="#a0a0a0" stroke-width="1.40"/><line x1="576.47" y1="50.20" x2="580.37" y2="51.85" stroke="#f0f0f0" stroke-width="0.56"/><line x1="572.50" y1="48.70" x2="571.25" y2="50.75" stroke="#2a2a2a" stroke-width="1.40"/><line x1="572.64" y1="48.79" x2="571.39" y2="50.84" stroke="#b0b0b0" stroke-width="0.56"/><line x1="571.25" y1="50.75" x2="570.00" y2="52.80" stroke="#a0a0a0" stroke-width="1.40"/><line x1="571.39" y1="50.84" x2="570.14" y2="52.89" stroke="#f0f0f0" stroke-width="0.56"/><line x1="561.00" y1="37.20" x2="558.10" y2="41.05" stroke="#2a2a2a" stroke-width="1.60"/><line x1="561.15" y1="37.32" x2="558.25" y2="41.17" stroke="#b0b0b0" stroke-width="0.64"/><line x1="558.10" y1="41.05" x2="555.20" y2="44.90" stroke="#b00000" stroke-width="1.60"/><line x1="558.25" y1="41.17" x2="555.35" y2="45.02" stroke="#ff5050" stroke-width="0.64"/><line x1="555.20" y1="44.90" x2="559.75" y2="47.60" stroke="#b00000" stroke-width="1.60"/><line x1="555.30" y1="44.73" x2="559.85" y2="47.43" stroke="#ff5050" stroke-width="0.64"/><line x1="559.75" y1="47.60" x2="564.30" y2="50.30" stroke="#b00000" stroke-width="1.60"/><line x1="559.85" y1="47.43" x2="564.40" y2="50.13" stroke="#ff5050" stroke-width="0.64"/><line x1="564.30" y1="50.30" x2="568.40" y2="49.50" stroke="#b00000" stroke-width="1.60"/><line x1="564.26" y1="50.11" x2="568.36" y2="49.31" stroke="#ff5050" stroke-width="0.64"/><line x1="568.40" y1="49.50" x2="572.50" y2="48.70" stroke="#2a2a2a" stroke-width="1.60"/><line x1="568.36" y1="49.31" x2="572.46" y2="48.51" stroke="#b0b0b0" stroke-width="0.64"/><circle cx="557.4" cy="29.8" r="2.3" fill="url(#gH)"/><circle cx="574.4" cy="32.8" r="2.3" fill="url(#gH)"/><circle cx="561.0" cy="37.2" r="3.2" fill="url(#gC)"/><circle cx="571.6" cy="38.0" r="3.2" fill="url(#gN)"/><circle cx="555.2" cy="44.9" r="3.2" fill="url(#gO)"/><circle cx="570.0" cy="52.8" r="2.3" fill="url(#gH)"/><circle cx="572.5" cy="48.7" r="3.2" fill="url(#gC)"/><circle cx="580.3" cy="52.0" r="2.3" fill="url(#gH)"/><circle cx="564.3" cy="50.3" r="3.2" fill="url(#gO)"/><line x1="635.70" y1="27.40" x2="636.30" y2="30.10" stroke="#a0a0a0" stroke-width="1.40"/><line x1="635.86" y1="27.36" x2="636.46" y2="30.06" stroke="#f0f0f0" stroke-width="0.56"/><line x1="636.30" y1="30.10" x2="636.90" y2="32.80" stroke="#0000b0" stroke-width="1.40"/><line x1="636.46" y1="30.06" x2="637.06" y2="32.76" stroke="#5050ff" stroke-width="0.56"/><line x1="636.90" y1="32.80" x2="632.55" y2="36.40" stroke="#0000b0" stroke-width="1.60"/><line x1="637.02" y1="32.95" x2="632.67" y2="36.55" stroke="#5050ff" stroke-width="0.64"/><line x1="632.55" y1="36.40" x2="628.20" y2="40.00" stroke="#2a2a2a" stroke-width="1.60"/><line x1="632.67" y1="36.55" x2="628.32" y2="40.15" stroke="#b0b0b0" stroke-width="0.64"/><line x1="636.90" y1="32.80" x2="642.45" y2="36.05" stroke="#0000b0" stroke-width="1.60"/><line x1="637.00" y1="32.63" x2="642.55" y2="35.88" stroke="#5050ff" stroke-width="0.64"/><line x1="642.45" y1="36.05" x2="648.00" y2="39.30" stroke="#2a2a2a" stroke-width="1.60"/><line x1="642.55" y1="35.88" x2="648.10" y2="39.13" stroke="#b0b0b0" stroke-width="0.64"/><line x1="628.20" y1="40.00" x2="623.95" y2="38.35" stroke="#2a2a2a" stroke-width="1.40"/><line x1="628.14" y1="40.16" x2="623.89" y2="38.51" stroke="#b0b0b0" stroke-width="0.56"/><line x1="623.95" y1="38.35" x2="619.70" y2="36.70" stroke="#a0a0a0" stroke-width="1.40"/><line x1="623.89" y1="38.51" x2="619.64" y2="36.86" stroke="#f0f0f0" stroke-width="0.56"/><line x1="648.00" y1="39.30" x2="652.50" y2="37.05" stroke="#2a2a2a" stroke-width="1.40"/><line x1="647.92" y1="39.15" x2="652.42" y2="36.90" stroke="#b0b0b0" stroke-width="0.56"/><line x1="652.50" y1="37.05" x2="657.00" y2="34.80" stroke="#a0a0a0" stroke-width="1.40"/><line x1="652.42" y1="36.90" x2="656.92" y2="34.65" stroke="#f0f0f0" stroke-width="0.56"/><line x1="628.20" y1="40.00" x2="629.65" y2="46.40" stroke="#2a2a2a" stroke-width="1.60"/><line x1="628.39" y1="39.96" x2="629.84" y2="46.36" stroke="#b0b0b0" stroke-width="0.64"/><line x1="629.65" y1="46.40" x2="631.10" y2="52.80" stroke="#b00000" stroke-width="1.60"/><line x1="629.84" y1="46.36" x2="631.29" y2="52.76" stroke="#ff5050" stroke-width="0.64"/><line x1="648.00" y1="39.30" x2="646.95" y2="44.80" stroke="#2a2a2a" stroke-width="1.60"/><line x1="648.19" y1="39.34" x2="647.14" y2="44.84" stroke="#b0b0b0" stroke-width="0.64"/><line x1="646.95" y1="44.80" x2="645.90" y2="50.30" stroke="#b00000" stroke-width="1.60"/><line x1="647.14" y1="44.84" x2="646.09" y2="50.34" stroke="#ff5050" stroke-width="0.64"/><line x1="631.10" y1="52.80" x2="638.50" y2="51.55" stroke="#b00000" stroke-width="1.40"/><line x1="631.07" y1="52.63" x2="638.47" y2="51.38" stroke="#ff5050" stroke-width="0.56"/><line x1="638.50" y1="51.55" x2="645.90" y2="50.30" stroke="#b00000" stroke-width="1.40"/><line x1="638.47" y1="51.38" x2="645.87" y2="50.13" stroke="#ff5050" stroke-width="0.56"/><circle cx="635.7" cy="27.4" r="2.5" fill="url(#gH)"/><circle cx="636.9" cy="32.8" r="3.2" fill="url(#gN)"/><circle cx="619.7" cy="36.7" r="2.5" fill="url(#gH)"/><circle cx="657.0" cy="34.8" r="2.5" fill="url(#gH)"/><circle cx="628.2" cy="40.0" r="3.4" fill="url(#gC)"/><circle cx="648.0" cy="39.3" r="3.4" fill="url(#gC)"/><circle cx="631.1" cy="52.8" r="3.3" fill="url(#gO)"/><circle cx="645.9" cy="50.3" r="3.3" fill="url(#gO)"/></g>
<rect x="370" y="89.5" width="315" height="10" fill="#fff"/>
<rect x="35.5" y="102.0" width="271.0" height="113.5" fill="none" stroke="#7a7a7a" stroke-width="1"/>
<rect x="401.5" y="102.0" width="271.0" height="113.5" fill="none" stroke="#7a7a7a" stroke-width="1"/>
<clipPath id="cl"><rect x="35.5" y="102.0" width="271.0" height="113.5"/></clipPath>
<clipPath id="cr"><rect x="401.5" y="102.0" width="271.0" height="113.5"/></clipPath>
<g clip-path="url(#cl)"><path d="M35.70,144.20 L35.73,144.34 L35.76,144.49 L35.79,144.67 L35.82,144.87 L35.86,145.08 L35.90,145.31 L35.94,145.55 L35.99,145.81 L36.03,146.08 L36.08,146.36 L36.13,146.64 L36.18,146.94 L36.23,147.24 L36.28,147.54 L36.34,147.85 L36.39,148.16 L36.45,148.47 L36.51,148.78 L36.56,149.09 L36.62,149.39 L36.68,149.69 L36.74,149.98 L36.80,150.26 L36.86,150.53 L36.91,150.79 L36.97,151.04 L37.03,151.28 L37.08,151.50 L37.14,151.70 L37.19,151.89 L37.25,152.05 L37.30,152.20 L37.53,152.69 L37.77,152.96 L38.01,153.07 L38.25,153.06 L38.49,152.98 L38.74,152.87 L39.00,152.80 L39.21,152.72 L39.43,152.57 L39.66,152.36 L39.90,152.14 L40.13,151.92 L40.36,151.73 L40.58,151.59 L40.80,151.54 L41.00,151.60 L41.12,151.70 L41.24,151.82 L41.35,151.98 L41.46,152.16 L41.57,152.37 L41.67,152.60 L41.77,152.85 L41.88,153.12 L41.98,153.41 L42.08,153.70 L42.18,154.02 L42.28,154.34 L42.39,154.67 L42.50,155.00 L42.57,155.21 L42.63,155.44 L42.70,155.69 L42.77,155.97 L42.83,156.25 L42.90,156.55 L42.97,156.86 L43.04,157.18 L43.11,157.50 L43.18,157.82 L43.25,158.14 L43.32,158.46 L43.39,158.77 L43.46,159.08 L43.52,159.37 L43.59,159.64 L43.66,159.90 L43.73,160.14 L43.79,160.36 L43.86,160.55 L43.92,160.71 L43.98,160.84 L44.04,160.94 L44.10,161.00 L44.19,161.03 L44.27,160.99 L44.35,160.90 L44.43,160.75 L44.50,160.56 L44.58,160.32 L44.65,160.05 L44.72,159.75 L44.80,159.43 L44.87,159.09 L44.94,158.73 L45.01,158.38 L45.08,158.02 L45.15,157.66 L45.23,157.32 L45.30,157.00 L45.35,156.80 L45.40,156.60 L45.44,156.41 L45.48,156.23 L45.53,156.05 L45.57,155.88 L45.61,155.70 L45.65,155.52 L45.69,155.34 L45.73,155.15 L45.78,154.95 L45.82,154.75 L45.86,154.54 L45.91,154.31 L45.95,154.07 L46.00,153.81 L46.05,153.54 L46.11,153.25 L46.17,152.94 L46.22,152.60 L46.29,152.24 L46.35,151.86 L46.43,151.44 L46.50,151.00 L46.53,150.83 L46.56,150.64 L46.59,150.46 L46.62,150.26 L46.65,150.07 L46.68,149.86 L46.72,149.65 L46.75,149.44 L46.78,149.22 L46.82,149.00 L46.85,148.77 L46.89,148.54 L46.92,148.30 L46.96,148.06 L47.00,147.82 L47.03,147.57 L47.07,147.32 L47.11,147.07 L47.15,146.81 L47.19,146.55 L47.22,146.29 L47.26,146.03 L47.30,145.76 L47.34,145.49 L47.38,145.22 L47.42,144.95 L47.46,144.67 L47.50,144.40 L47.54,144.12 L47.59,143.84 L47.63,143.56 L47.67,143.28 L47.71,143.00 L47.75,142.72 L47.79,142.44 L47.84,142.16 L47.88,141.88 L47.92,141.60 L47.96,141.32 L48.01,141.04 L48.05,140.76 L48.09,140.48 L48.13,140.20 L48.18,139.93 L48.22,139.66 L48.26,139.38 L48.30,139.12 L48.34,138.85 L48.39,138.58 L48.43,138.32 L48.47,138.06 L48.51,137.80 L48.55,137.55 L48.60,137.30 L48.64,137.05 L48.68,136.81 L48.72,136.56 L48.76,136.33 L48.80,136.10 L48.84,135.87 L48.88,135.64 L48.92,135.42 L48.96,135.21 L49.00,135.00 L49.06,134.69 L49.12,134.39 L49.17,134.08 L49.23,133.78 L49.29,133.48 L49.35,133.19 L49.41,132.89 L49.47,132.60 L49.52,132.31 L49.58,132.03 L49.64,131.74 L49.70,131.46 L49.76,131.18 L49.82,130.91 L49.88,130.63 L49.93,130.36 L49.99,130.10 L50.05,129.83 L50.11,129.57 L50.17,129.32 L50.23,129.06 L50.29,128.81 L50.34,128.57 L50.40,128.32 L50.46,128.08 L50.52,127.85 L50.58,127.62 L50.64,127.39 L50.69,127.17 L50.75,126.95 L50.81,126.73 L50.87,126.52 L50.93,126.31 L50.98,126.11 L51.04,125.91 L51.10,125.72 L51.16,125.53 L51.21,125.35 L51.27,125.17 L51.33,124.99 L51.39,124.82 L51.44,124.66 L51.50,124.50 L51.66,124.07 L51.83,123.69 L51.99,123.34 L52.15,123.03 L52.32,122.76 L52.48,122.52 L52.64,122.31 L52.81,122.13 L52.97,121.98 L53.13,121.85 L53.28,121.75 L53.44,121.66 L53.60,121.59 L53.75,121.54 L53.90,121.50 L54.10,121.48 L54.30,121.53 L54.50,121.62 L54.69,121.75 L54.88,121.93 L55.07,122.14 L55.26,122.38 L55.44,122.64 L55.63,122.92 L55.81,123.21 L56.00,123.50 L56.11,123.67 L56.21,123.84 L56.31,124.01 L56.41,124.19 L56.50,124.37 L56.60,124.55 L56.69,124.74 L56.79,124.94 L56.88,125.15 L56.98,125.37 L57.08,125.60 L57.18,125.84 L57.28,126.09 L57.39,126.37 L57.50,126.65 L57.62,126.96 L57.74,127.29 L57.87,127.63 L58.00,128.00 L58.06,128.18 L58.13,128.37 L58.20,128.56 L58.27,128.77 L58.34,128.98 L58.41,129.19 L58.48,129.41 L58.56,129.64 L58.64,129.88 L58.71,130.11 L58.79,130.36 L58.87,130.61 L58.95,130.86 L59.03,131.11 L59.11,131.37 L59.19,131.63 L59.28,131.89 L59.36,132.16 L59.44,132.42 L59.53,132.69 L59.61,132.96 L59.69,133.23 L59.78,133.50 L59.86,133.76 L59.95,134.03 L60.03,134.30 L60.11,134.56 L60.20,134.83 L60.28,135.09 L60.36,135.35 L60.44,135.60 L60.52,135.85 L60.60,136.10 L60.68,136.34 L60.76,136.58 L60.83,136.82 L60.91,137.05 L60.98,137.27 L61.06,137.49 L61.13,137.70 L61.20,137.90 L61.31,138.20 L61.41,138.50 L61.52,138.80 L61.62,139.10 L61.73,139.39 L61.83,139.68 L61.93,139.96 L62.04,140.24 L62.14,140.52 L62.24,140.79 L62.34,141.06 L62.44,141.32 L62.53,141.57 L62.63,141.82 L62.72,142.07 L62.82,142.31 L62.91,142.54 L63.00,142.76 L63.08,142.98 L63.17,143.18 L63.25,143.38 L63.33,143.58 L63.41,143.76 L63.49,143.93 L63.56,144.10 L63.63,144.25 L63.70,144.40 L63.96,144.97 L64.16,145.39 L64.31,145.67 L64.46,145.79 L64.61,145.73 L64.80,145.50 L64.87,145.39 L64.93,145.25 L65.00,145.09 L65.07,144.90 L65.15,144.70 L65.22,144.48 L65.30,144.24 L65.37,143.98 L65.45,143.72 L65.52,143.44 L65.60,143.15 L65.68,142.86 L65.76,142.56 L65.84,142.26 L65.92,141.96 L65.99,141.66 L66.07,141.36 L66.15,141.06 L66.22,140.78 L66.30,140.50 L66.36,140.27 L66.42,140.04 L66.48,139.81 L66.54,139.58 L66.60,139.34 L66.65,139.10 L66.71,138.87 L66.77,138.63 L66.82,138.38 L66.88,138.14 L66.94,137.90 L66.99,137.65 L67.05,137.40 L67.11,137.15 L67.17,136.90 L67.23,136.65 L67.30,136.40 L67.36,136.15 L67.43,135.89 L67.50,135.63 L67.57,135.38 L67.64,135.12 L67.72,134.86 L67.80,134.60 L67.87,134.37 L67.95,134.14 L68.02,133.89 L68.11,133.64 L68.19,133.39 L68.28,133.13 L68.36,132.86 L68.46,132.60 L68.55,132.33 L68.64,132.06 L68.73,131.79 L68.83,131.52 L68.92,131.25 L69.02,130.98 L69.11,130.72 L69.21,130.46 L69.30,130.21 L69.39,129.96 L69.49,129.72 L69.58,129.48 L69.66,129.26 L69.75,129.04 L69.83,128.84 L69.91,128.64 L69.99,128.46 L70.06,128.29 L70.13,128.14 L70.20,128.00 L70.51,127.42 L70.76,127.11 L70.96,127.02 L71.17,127.07 L71.40,127.20 L71.53,127.29 L71.66,127.41 L71.80,127.57 L71.93,127.75 L72.07,127.97 L72.21,128.22 L72.35,128.49 L72.50,128.80 L72.65,129.13 L72.80,129.50 L72.87,129.68 L72.94,129.87 L73.01,130.07 L73.08,130.28 L73.15,130.49 L73.22,130.72 L73.29,130.95 L73.37,131.19 L73.44,131.43 L73.51,131.68 L73.59,131.94 L73.66,132.19 L73.74,132.45 L73.82,132.72 L73.90,132.98 L73.98,133.24 L74.06,133.51 L74.14,133.77 L74.23,134.03 L74.32,134.29 L74.41,134.55 L74.50,134.80 L74.59,135.03 L74.67,135.27 L74.76,135.52 L74.85,135.77 L74.94,136.03 L75.04,136.29 L75.13,136.55 L75.23,136.82 L75.32,137.08 L75.42,137.35 L75.52,137.61 L75.62,137.88 L75.72,138.13 L75.82,138.39 L75.93,138.64 L76.03,138.88 L76.14,139.12 L76.24,139.35 L76.35,139.57 L76.46,139.78 L76.57,139.98 L76.68,140.16 L76.79,140.34 L76.90,140.50 L77.11,140.78 L77.33,141.04 L77.56,141.28 L77.79,141.50 L78.02,141.70 L78.26,141.87 L78.49,142.02 L78.73,142.14 L78.97,142.22 L79.21,142.27 L79.44,142.29 L79.67,142.26 L79.90,142.20 L80.05,142.13 L80.21,142.03 L80.37,141.91 L80.52,141.77 L80.68,141.61 L80.84,141.44 L81.00,141.24 L81.15,141.04 L81.31,140.81 L81.46,140.58 L81.62,140.34 L81.77,140.09 L81.91,139.84 L82.05,139.58 L82.19,139.32 L82.33,139.06 L82.46,138.81 L82.58,138.55 L82.70,138.30 L82.80,138.08 L82.89,137.86 L82.98,137.64 L83.06,137.41 L83.14,137.18 L83.22,136.95 L83.29,136.71 L83.37,136.47 L83.44,136.23 L83.50,135.98 L83.57,135.73 L83.63,135.48 L83.70,135.22 L83.76,134.96 L83.82,134.70 L83.89,134.44 L83.95,134.17 L84.02,133.90 L84.09,133.63 L84.16,133.35 L84.23,133.08 L84.30,132.80 L84.36,132.58 L84.42,132.35 L84.48,132.12 L84.54,131.89 L84.60,131.65 L84.66,131.41 L84.72,131.16 L84.78,130.91 L84.84,130.66 L84.90,130.41 L84.97,130.16 L85.03,129.91 L85.09,129.65 L85.15,129.40 L85.21,129.15 L85.27,128.89 L85.33,128.64 L85.40,128.39 L85.46,128.14 L85.52,127.89 L85.58,127.64 L85.64,127.39 L85.70,127.15 L85.76,126.91 L85.82,126.68 L85.88,126.45 L85.94,126.22 L86.00,126.00 L86.07,125.72 L86.15,125.44 L86.22,125.16 L86.29,124.88 L86.36,124.61 L86.44,124.33 L86.51,124.06 L86.58,123.79 L86.65,123.52 L86.72,123.25 L86.79,122.99 L86.86,122.74 L86.93,122.49 L87.00,122.24 L87.07,122.00 L87.14,121.76 L87.22,121.53 L87.29,121.31 L87.37,121.10 L87.44,120.89 L87.52,120.69 L87.60,120.50 L87.74,120.19 L87.88,119.91 L88.03,119.64 L88.18,119.39 L88.33,119.16 L88.49,118.95 L88.64,118.75 L88.79,118.56 L88.94,118.38 L89.09,118.22 L89.23,118.07 L89.37,117.93 L89.50,117.80 L89.76,117.56 L90.00,117.37 L90.23,117.25 L90.45,117.18 L90.67,117.17 L90.90,117.20 L91.10,117.28 L91.31,117.40 L91.51,117.56 L91.71,117.76 L91.91,117.99 L92.11,118.23 L92.30,118.50 L92.41,118.65 L92.52,118.78 L92.61,118.89 L92.70,119.00 L92.80,119.13 L92.89,119.28 L92.99,119.48 L93.10,119.74 L93.22,120.07 L93.35,120.48 L93.50,121.00 L93.54,121.16 L93.59,121.31 L93.63,121.47 L93.68,121.64 L93.73,121.81 L93.78,121.98 L93.83,122.15 L93.88,122.33 L93.93,122.52 L93.98,122.70 L94.04,122.90 L94.09,123.09 L94.14,123.29 L94.20,123.49 L94.26,123.70 L94.31,123.92 L94.37,124.13 L94.43,124.36 L94.49,124.59 L94.55,124.82 L94.60,125.06 L94.66,125.30 L94.72,125.55 L94.78,125.81 L94.84,126.07 L94.90,126.33 L94.96,126.60 L95.03,126.88 L95.09,127.17 L95.15,127.46 L95.21,127.75 L95.27,128.06 L95.33,128.37 L95.39,128.68 L95.45,129.01 L95.51,129.34 L95.57,129.68 L95.63,130.02 L95.68,130.37 L95.74,130.73 L95.80,131.10 L95.83,131.29 L95.86,131.48 L95.89,131.68 L95.92,131.88 L95.95,132.08 L95.98,132.29 L96.01,132.50 L96.04,132.71 L96.07,132.93 L96.10,133.15 L96.13,133.37 L96.16,133.60 L96.19,133.82 L96.22,134.05 L96.25,134.29 L96.28,134.52 L96.31,134.76 L96.34,135.00 L96.37,135.24 L96.40,135.49 L96.43,135.73 L96.46,135.98 L96.49,136.23 L96.53,136.49 L96.56,136.74 L96.59,137.00 L96.62,137.26 L96.65,137.51 L96.68,137.78 L96.71,138.04 L96.74,138.30 L96.77,138.57 L96.81,138.83 L96.84,139.10 L96.87,139.37 L96.90,139.64 L96.93,139.91 L96.96,140.18 L96.99,140.45 L97.02,140.72 L97.05,140.99 L97.08,141.27 L97.11,141.54 L97.15,141.81 L97.18,142.09 L97.21,142.36 L97.24,142.63 L97.27,142.91 L97.30,143.18 L97.33,143.45 L97.36,143.73 L97.39,144.00 L97.42,144.27 L97.45,144.54 L97.48,144.82 L97.51,145.09 L97.54,145.36 L97.57,145.63 L97.60,145.89 L97.63,146.16 L97.65,146.43 L97.68,146.69 L97.71,146.96 L97.74,147.22 L97.77,147.48 L97.80,147.74 L97.83,148.00 L97.85,148.25 L97.88,148.51 L97.91,148.76 L97.94,149.01 L97.96,149.26 L97.99,149.51 L98.02,149.75 L98.04,149.99 L98.07,150.23 L98.10,150.47 L98.12,150.71 L98.15,150.94 L98.17,151.17 L98.20,151.40 L98.23,151.68 L98.26,151.97 L98.29,152.25 L98.32,152.54 L98.35,152.83 L98.39,153.12 L98.42,153.41 L98.45,153.70 L98.47,153.99 L98.50,154.28 L98.53,154.57 L98.56,154.86 L98.59,155.15 L98.62,155.45 L98.65,155.74 L98.68,156.03 L98.70,156.32 L98.73,156.61 L98.76,156.90 L98.79,157.19 L98.82,157.48 L98.84,157.77 L98.87,158.06 L98.90,158.34 L98.92,158.63 L98.95,158.91 L98.98,159.20 L99.00,159.48 L99.03,159.76 L99.05,160.03 L99.08,160.31 L99.11,160.58 L99.13,160.85 L99.16,161.12 L99.18,161.39 L99.21,161.66 L99.23,161.92 L99.26,162.18 L99.28,162.44 L99.31,162.69 L99.33,162.94 L99.36,163.19 L99.38,163.43 L99.41,163.68 L99.43,163.91 L99.45,164.15 L99.48,164.38 L99.50,164.61 L99.53,164.83 L99.55,165.05 L99.57,165.27 L99.60,165.48 L99.62,165.69 L99.64,165.89 L99.67,166.09 L99.69,166.28 L99.71,166.47 L99.74,166.65 L99.76,166.83 L99.78,167.01 L99.81,167.18 L99.83,167.34 L99.85,167.50 L99.88,167.65 L99.90,167.80 L100.04,168.65 L100.18,169.33 L100.31,169.85 L100.43,170.23 L100.56,170.47 L100.68,170.60 L100.80,170.63 L100.93,170.56 L101.06,170.41 L101.20,170.20 L101.25,170.11 L101.30,169.99 L101.35,169.85 L101.41,169.69 L101.46,169.52 L101.51,169.32 L101.57,169.11 L101.63,168.89 L101.68,168.65 L101.74,168.40 L101.79,168.13 L101.85,167.86 L101.91,167.58 L101.97,167.30 L102.02,167.00 L102.08,166.71 L102.14,166.40 L102.19,166.10 L102.25,165.80 L102.31,165.49 L102.36,165.19 L102.42,164.89 L102.48,164.60 L102.53,164.31 L102.59,164.03 L102.64,163.76 L102.69,163.49 L102.75,163.24 L102.80,163.00 L102.86,162.73 L102.92,162.46 L102.97,162.18 L103.03,161.90 L103.09,161.61 L103.14,161.32 L103.20,161.03 L103.26,160.73 L103.32,160.44 L103.37,160.15 L103.43,159.86 L103.48,159.57 L103.54,159.29 L103.59,159.02 L103.65,158.75 L103.70,158.49 L103.75,158.24 L103.81,158.00 L103.86,157.78 L103.91,157.56 L103.96,157.36 L104.01,157.17 L104.06,157.00 L104.11,156.85 L104.15,156.72 L104.20,156.60 L104.42,156.16 L104.62,155.98 L104.80,156.11 L104.99,156.60 L105.20,157.50 L105.23,157.64 L105.25,157.79 L105.28,157.95 L105.31,158.12 L105.34,158.30 L105.37,158.49 L105.40,158.68 L105.43,158.89 L105.46,159.10 L105.49,159.31 L105.52,159.54 L105.55,159.77 L105.59,160.01 L105.62,160.25 L105.65,160.50 L105.68,160.75 L105.71,161.01 L105.75,161.27 L105.78,161.54 L105.81,161.81 L105.84,162.08 L105.87,162.36 L105.90,162.64 L105.93,162.92 L105.97,163.21 L106.00,163.49 L106.03,163.78 L106.06,164.07 L106.09,164.36 L106.12,164.65 L106.14,164.94 L106.17,165.24 L106.20,165.53 L106.23,165.82 L106.25,166.11 L106.28,166.39 L106.31,166.68 L106.33,166.96 L106.35,167.24 L106.38,167.52 L106.40,167.80 L106.42,168.03 L106.44,168.27 L106.45,168.50 L106.47,168.73 L106.49,168.95 L106.51,169.18 L106.52,169.41 L106.54,169.64 L106.55,169.86 L106.57,170.09 L106.58,170.31 L106.60,170.54 L106.61,170.77 L106.62,170.99 L106.64,171.22 L106.65,171.45 L106.66,171.68 L106.68,171.91 L106.69,172.14 L106.70,172.37 L106.71,172.60 L106.73,172.84 L106.74,173.07 L106.75,173.31 L106.76,173.55 L106.77,173.80 L106.78,174.04 L106.79,174.29 L106.81,174.54 L106.82,174.79 L106.83,175.05 L106.84,175.31 L106.85,175.57 L106.86,175.84 L106.87,176.11 L106.88,176.38 L106.89,176.66 L106.90,176.94 L106.91,177.22 L106.92,177.51 L106.93,177.80 L106.94,178.10 L106.95,178.41 L106.96,178.71 L106.97,179.03 L106.98,179.35 L106.99,179.67 L107.00,180.00 L107.01,180.21 L107.01,180.42 L107.02,180.63 L107.03,180.85 L107.03,181.07 L107.04,181.29 L107.04,181.52 L107.05,181.75 L107.06,181.99 L107.06,182.23 L107.07,182.47 L107.07,182.71 L107.08,182.95 L107.08,183.20 L107.09,183.45 L107.10,183.71 L107.10,183.96 L107.11,184.22 L107.11,184.48 L107.12,184.74 L107.12,185.01 L107.13,185.27 L107.13,185.54 L107.14,185.81 L107.14,186.08 L107.15,186.35 L107.15,186.62 L107.16,186.89 L107.16,187.17 L107.17,187.44 L107.17,187.72 L107.18,188.00 L107.18,188.28 L107.19,188.55 L107.19,188.83 L107.20,189.11 L107.20,189.39 L107.21,189.67 L107.21,189.95 L107.22,190.23 L107.22,190.51 L107.23,190.79 L107.23,191.06 L107.24,191.34 L107.24,191.62 L107.25,191.89 L107.25,192.17 L107.26,192.44 L107.26,192.72 L107.26,192.99 L107.27,193.26 L107.27,193.53 L107.28,193.80 L107.28,194.06 L107.29,194.33 L107.29,194.59 L107.30,194.85 L107.30,195.11 L107.31,195.37 L107.31,195.62 L107.32,195.87 L107.32,196.12 L107.33,196.37 L107.33,196.61 L107.34,196.86 L107.34,197.10 L107.35,197.33 L107.35,197.56 L107.36,197.79 L107.36,198.02 L107.36,198.24 L107.37,198.46 L107.37,198.68 L107.38,198.89 L107.38,199.10 L107.39,199.30 L107.39,199.50 L107.40,199.70 L107.41,200.06 L107.42,200.41 L107.43,200.76 L107.44,201.11 L107.45,201.45 L107.46,201.78 L107.47,202.12 L107.48,202.44 L107.49,202.76 L107.50,203.08 L107.51,203.39 L107.53,203.70 L107.54,204.00 L107.55,204.30 L107.56,204.59 L107.57,204.88 L107.58,205.16 L107.59,205.44 L107.60,205.71 L107.61,205.97 L107.63,206.23 L107.64,206.49 L107.65,206.73 L107.66,206.98 L107.67,207.21 L107.68,207.44 L107.69,207.67 L107.70,207.89 L107.71,208.10 L107.71,208.31 L107.72,208.51 L107.73,208.71 L107.74,208.89 L107.75,209.08 L107.76,209.25 L107.76,209.42 L107.77,209.58 L107.78,209.74 L107.78,209.89 L107.79,210.03 L107.80,210.17 L107.80,210.30 L109.10,191.50 L110.10,210.00 L111.10,194.50 L112.20,208.80 L113.10,197.80 L114.00,207.50 L115.00,199.50 L115.90,207.00 L116.80,200.50 L117.70,206.50 L118.50,205.16 L119.25,201.15 L119.91,204.80 L120.66,200.57 L121.41,204.36 L122.02,199.75 L122.80,204.35 L123.46,201.09 L124.02,204.44 L124.73,201.75 L125.55,204.30 L126.15,201.12 L126.76,205.32 L127.36,199.82 L128.04,205.70 L128.71,201.29 L129.54,207.81 L130.20,199.70 L130.95,205.36 L131.61,199.20 L132.31,205.11 L132.99,199.62 L133.67,205.49 L134.26,200.15 L135.01,204.15 L135.67,200.20 L136.36,204.41 L137.05,199.86 L137.88,204.64 L138.54,201.45 L139.36,204.01 L140.13,200.91 L140.69,204.25 L141.53,199.80 L142.10,204.87 L142.89,200.34 L143.60,205.08 L144.23,200.09 L144.84,204.85 L145.47,199.91 L146.23,205.30 L146.87,201.29 L147.62,204.56 L148.30,201.20 L149.14,205.24 L149.95,199.99 L150.63,205.43 L151.41,200.51 L152.07,205.55 L152.64,200.53 L153.42,206.05 L154.13,200.08 L154.72,204.74 L155.54,200.29 L156.28,204.47 L157.03,200.61 L157.71,205.08 L158.30,201.16 L159.06,206.30 L159.88,200.11 L160.58,205.67 L161.32,199.93 L161.98,207.49 L162.64,199.78 L163.32,206.03 L164.02,198.01 L164.71,207.60 L165.34,199.01 L166.13,206.15 L166.90,199.18 L167.65,208.71 L168.40,199.60 L169.05,206.60 L169.70,200.32 L170.41,205.31 L171.19,200.56 L171.92,205.75 L172.73,200.39 L173.47,206.33 L174.25,200.67 L174.89,205.04 L175.55,200.93 L176.16,204.47 L176.99,200.40 L177.79,205.98 L178.45,200.16 L179.05,205.94 L179.67,199.77 L180.31,204.53 L180.92,199.07 L181.53,205.08 L182.33,199.23 L183.08,206.21 L183.79,199.29 L184.49,206.75 L185.23,199.55 L185.94,207.44 L186.75,198.83 L187.51,209.48 L188.19,198.42 L188.96,209.47 L189.54,199.19 L190.11,205.83 L190.70,196.81 L191.53,210.11 L192.36,200.00 L193.18,206.97 L193.95,199.22 L194.60,205.57 L195.33,198.26 L196.10,207.44 L196.75,198.50 L197.49,204.59 L198.19,199.27 L198.96,205.54 L199.76,198.43 L200.38,206.38 L201.04,200.46 L201.77,205.02 L202.60,198.98 L203.27,205.06 L204.01,200.67 L204.74,206.26 L205.38,200.29 L206.04,206.25 L206.65,199.59 L207.30,205.99 L208.12,199.77 L208.86,206.33 L209.60,200.64 L210.19,205.92 L211.03,198.67 L211.71,205.83 L212.34,200.54 L213.08,206.37 L213.90,200.06 L214.57,205.89 L215.33,198.91 L216.04,206.73 L216.79,199.42 L217.45,205.44 L218.26,198.45 L219.09,207.83 L219.88,198.96 L220.51,206.82 L221.09,199.58 L221.69,206.59 L222.36,197.27 L223.18,207.07 L223.98,194.13 L224.69,208.74 L225.50,194.60 L226.28,208.07 L227.10,198.96 L227.71,210.43 L228.45,197.79 L229.15,206.96 L229.73,196.98 L230.45,208.26 L231.16,199.25 L231.83,207.37 L232.61,199.55 L233.45,205.29 L234.23,199.05 L235.01,206.72 L235.75,200.04 L236.33,204.77 L237.17,200.81 L237.76,207.31 L238.37,199.07 L239.21,205.22 L239.95,200.41 L240.71,206.87 L241.48,200.49 L242.16,204.88 L242.89,199.95 L243.59,205.74 L244.31,199.59 L245.15,207.28 L245.95,200.22 L246.53,206.14 L247.27,198.25 L247.87,208.30 L248.48,199.13 L249.23,209.27 L249.91,196.83 L250.48,209.23 L251.23,198.57 L251.85,205.24 L252.54,197.90 L253.25,207.10 L254.02,199.06 L254.82,206.77 L255.43,199.72 L256.03,205.21 L256.64,199.32 L257.48,206.55 L258.16,199.92 L258.99,207.23 L259.73,200.77 L260.34,205.58 L260.94,200.62 L261.64,206.91 L262.23,198.64 L262.98,206.00 L263.81,200.00 L264.41,205.43 L265.04,198.68 L265.63,204.99 L266.45,198.83 L267.13,204.93 L267.73,200.57 L268.53,204.94 L269.34,201.23 L269.94,205.34 L270.62,198.74 L271.33,204.78 L271.98,199.02 L272.54,205.97 L273.15,200.62 L273.95,205.85 L274.55,198.49 L275.27,207.85 L275.96,197.01 L276.78,208.99 L277.37,199.50 L278.18,206.50 L278.87,200.24 L279.44,206.35 L280.19,197.74 L280.86,207.54 L281.61,200.72 L282.21,206.37 L282.98,198.42 L283.63,206.67 L284.43,200.10 L285.08,206.63 L285.68,200.66 L286.41,207.50 L287.10,199.75 L287.76,205.24 L288.39,200.41 L289.21,207.79 L290.00,197.90 L290.59,208.79 L291.35,200.24 L292.06,205.32 L292.89,198.39 L293.47,207.43 L294.17,200.26 L294.87,206.02 L295.47,199.48 L296.05,205.91 L296.81,199.01 L297.64,205.11 L298.32,201.11 L298.89,207.45 L299.72,201.17 L300.55,206.82 L301.29,200.01 L302.02,206.10 L302.75,199.76 L303.53,205.67 L304.15,199.84 L304.92,204.68 L305.53,199.29" stroke="#ff0000" fill="none" stroke-linejoin="round" stroke-linecap="round" stroke-width="1.5"/><path d="M35.70,145.50 L35.72,145.63 L35.74,145.78 L35.77,145.94 L35.79,146.12 L35.82,146.31 L35.85,146.51 L35.88,146.73 L35.91,146.96 L35.94,147.19 L35.98,147.44 L36.02,147.70 L36.05,147.96 L36.09,148.23 L36.13,148.51 L36.17,148.80 L36.21,149.08 L36.25,149.38 L36.29,149.68 L36.34,149.98 L36.38,150.28 L36.42,150.58 L36.47,150.89 L36.51,151.19 L36.56,151.49 L36.60,151.79 L36.65,152.09 L36.69,152.39 L36.74,152.68 L36.78,152.96 L36.83,153.24 L36.87,153.52 L36.91,153.79 L36.95,154.05 L37.00,154.30 L37.04,154.54 L37.08,154.77 L37.12,154.99 L37.16,155.20 L37.19,155.39 L37.23,155.58 L37.27,155.75 L37.30,155.90 L37.46,156.58 L37.61,157.09 L37.75,157.45 L37.88,157.69 L38.02,157.83 L38.16,157.88 L38.32,157.86 L38.50,157.80 L38.61,157.72 L38.74,157.57 L38.86,157.35 L38.99,157.10 L39.13,156.81 L39.27,156.50 L39.41,156.18 L39.56,155.86 L39.70,155.55 L39.84,155.28 L39.99,155.04 L40.13,154.86 L40.27,154.74 L40.40,154.70 L40.53,154.73 L40.66,154.83 L40.80,154.98 L40.93,155.17 L41.06,155.40 L41.19,155.66 L41.32,155.94 L41.45,156.24 L41.58,156.53 L41.70,156.83 L41.83,157.11 L41.95,157.37 L42.08,157.60 L42.20,157.80 L42.38,158.13 L42.56,158.54 L42.73,158.97 L42.90,159.40 L43.07,159.76 L43.24,160.00 L43.41,160.09 L43.60,159.97 L43.80,159.60 L43.84,159.49 L43.88,159.37 L43.92,159.24 L43.97,159.10 L44.01,158.95 L44.05,158.78 L44.09,158.61 L44.14,158.43 L44.18,158.24 L44.23,158.05 L44.27,157.84 L44.31,157.63 L44.36,157.41 L44.40,157.18 L44.45,156.94 L44.49,156.70 L44.54,156.46 L44.58,156.20 L44.63,155.95 L44.68,155.68 L44.72,155.42 L44.77,155.14 L44.82,154.87 L44.86,154.59 L44.91,154.31 L44.96,154.02 L45.01,153.73 L45.06,153.44 L45.10,153.15 L45.15,152.86 L45.20,152.56 L45.25,152.26 L45.30,151.97 L45.35,151.67 L45.40,151.38 L45.45,151.08 L45.50,150.79 L45.55,150.49 L45.60,150.20 L45.65,149.91 L45.70,149.62 L45.75,149.34 L45.80,149.05 L45.85,148.78 L45.90,148.50 L45.94,148.27 L45.99,148.04 L46.03,147.81 L46.07,147.57 L46.12,147.33 L46.16,147.09 L46.20,146.85 L46.25,146.61 L46.29,146.37 L46.34,146.12 L46.38,145.87 L46.43,145.62 L46.47,145.37 L46.52,145.12 L46.56,144.87 L46.61,144.61 L46.65,144.36 L46.70,144.10 L46.75,143.85 L46.79,143.59 L46.84,143.33 L46.88,143.07 L46.93,142.81 L46.98,142.55 L47.02,142.30 L47.07,142.04 L47.12,141.78 L47.17,141.51 L47.21,141.25 L47.26,140.99 L47.31,140.73 L47.35,140.47 L47.40,140.22 L47.45,139.96 L47.50,139.70 L47.54,139.44 L47.59,139.18 L47.64,138.93 L47.69,138.67 L47.73,138.42 L47.78,138.16 L47.83,137.91 L47.88,137.66 L47.93,137.41 L47.97,137.16 L48.02,136.91 L48.07,136.67 L48.12,136.43 L48.16,136.18 L48.21,135.94 L48.26,135.70 L48.31,135.47 L48.35,135.23 L48.40,135.00 L48.45,134.73 L48.51,134.46 L48.56,134.19 L48.62,133.92 L48.67,133.65 L48.73,133.37 L48.78,133.10 L48.84,132.82 L48.89,132.55 L48.95,132.27 L49.01,131.99 L49.06,131.72 L49.12,131.44 L49.17,131.16 L49.23,130.89 L49.29,130.61 L49.34,130.34 L49.40,130.07 L49.45,129.79 L49.51,129.52 L49.57,129.26 L49.62,128.99 L49.68,128.73 L49.73,128.46 L49.79,128.20 L49.85,127.95 L49.90,127.69 L49.96,127.44 L50.01,127.19 L50.07,126.95 L50.13,126.71 L50.18,126.47 L50.24,126.24 L50.29,126.01 L50.35,125.79 L50.40,125.57 L50.46,125.35 L50.51,125.14 L50.57,124.94 L50.62,124.74 L50.68,124.54 L50.73,124.35 L50.79,124.17 L50.84,123.99 L50.89,123.82 L50.95,123.66 L51.00,123.50 L51.16,123.03 L51.33,122.61 L51.48,122.21 L51.64,121.86 L51.80,121.54 L51.95,121.26 L52.10,121.02 L52.26,120.82 L52.41,120.65 L52.57,120.53 L52.73,120.44 L52.89,120.39 L53.06,120.39 L53.23,120.42 L53.40,120.50 L53.50,120.56 L53.61,120.64 L53.71,120.74 L53.82,120.85 L53.92,120.97 L54.03,121.11 L54.14,121.26 L54.25,121.42 L54.36,121.60 L54.47,121.79 L54.59,122.00 L54.70,122.21 L54.81,122.44 L54.93,122.68 L55.04,122.94 L55.15,123.20 L55.27,123.48 L55.38,123.76 L55.50,124.06 L55.61,124.36 L55.73,124.68 L55.84,125.01 L55.96,125.34 L56.07,125.69 L56.19,126.04 L56.30,126.40 L56.36,126.58 L56.41,126.77 L56.47,126.97 L56.53,127.17 L56.59,127.37 L56.64,127.59 L56.70,127.80 L56.76,128.03 L56.82,128.25 L56.88,128.48 L56.95,128.72 L57.01,128.96 L57.07,129.20 L57.13,129.45 L57.19,129.70 L57.25,129.96 L57.31,130.21 L57.38,130.47 L57.44,130.73 L57.50,131.00 L57.56,131.26 L57.62,131.53 L57.69,131.80 L57.75,132.07 L57.81,132.35 L57.87,132.62 L57.93,132.89 L57.99,133.17 L58.05,133.44 L58.11,133.72 L58.17,133.99 L58.23,134.26 L58.29,134.54 L58.35,134.81 L58.40,135.08 L58.46,135.35 L58.52,135.62 L58.57,135.88 L58.63,136.15 L58.68,136.41 L58.73,136.67 L58.79,136.93 L58.84,137.18 L58.89,137.43 L58.94,137.68 L58.99,137.92 L59.04,138.16 L59.08,138.39 L59.13,138.62 L59.17,138.85 L59.22,139.07 L59.26,139.29 L59.30,139.50 L59.36,139.81 L59.41,140.12 L59.47,140.44 L59.52,140.77 L59.57,141.09 L59.61,141.42 L59.66,141.74 L59.70,142.07 L59.74,142.40 L59.78,142.73 L59.82,143.05 L59.86,143.38 L59.89,143.70 L59.92,144.01 L59.96,144.33 L59.99,144.63 L60.02,144.93 L60.05,145.22 L60.08,145.51 L60.11,145.79 L60.14,146.06 L60.17,146.32 L60.19,146.56 L60.22,146.80 L60.25,147.02 L60.28,147.24 L60.31,147.44 L60.34,147.62 L60.37,147.79 L60.40,147.94 L60.43,148.08 L60.46,148.20 L60.49,148.31 L60.53,148.39 L60.56,148.46 L60.60,148.50 L60.65,148.53 L60.70,148.51 L60.76,148.46 L60.81,148.36 L60.87,148.24 L60.92,148.08 L60.98,147.89 L61.03,147.67 L61.09,147.43 L61.14,147.17 L61.20,146.89 L61.25,146.59 L61.31,146.28 L61.36,145.95 L61.42,145.61 L61.47,145.27 L61.53,144.92 L61.58,144.57 L61.63,144.23 L61.69,143.88 L61.74,143.54 L61.79,143.20 L61.85,142.88 L61.90,142.57 L61.95,142.28 L62.00,142.00 L62.04,141.76 L62.09,141.51 L62.13,141.25 L62.17,140.99 L62.21,140.72 L62.25,140.44 L62.29,140.17 L62.33,139.89 L62.37,139.61 L62.41,139.32 L62.45,139.04 L62.49,138.76 L62.53,138.47 L62.57,138.19 L62.61,137.91 L62.65,137.63 L62.69,137.36 L62.72,137.09 L62.76,136.82 L62.80,136.56 L62.85,136.31 L62.89,136.07 L62.93,135.83 L62.97,135.60 L63.02,135.38 L63.06,135.17 L63.11,134.97 L63.15,134.78 L63.20,134.60 L63.33,134.15 L63.46,133.71 L63.59,133.30 L63.73,132.91 L63.87,132.57 L64.01,132.29 L64.16,132.07 L64.31,131.94 L64.47,131.89 L64.63,131.94 L64.80,132.10 L64.86,132.19 L64.93,132.30 L65.00,132.43 L65.07,132.58 L65.14,132.74 L65.21,132.92 L65.28,133.11 L65.36,133.32 L65.43,133.54 L65.51,133.77 L65.59,134.02 L65.67,134.27 L65.74,134.53 L65.82,134.80 L65.90,135.08 L65.98,135.37 L66.06,135.66 L66.13,135.95 L66.21,136.25 L66.29,136.55 L66.37,136.85 L66.44,137.15 L66.52,137.46 L66.59,137.76 L66.66,138.06 L66.73,138.36 L66.80,138.65 L66.87,138.94 L66.94,139.22 L67.00,139.50 L67.05,139.73 L67.10,139.97 L67.16,140.21 L67.21,140.46 L67.26,140.71 L67.31,140.97 L67.36,141.23 L67.40,141.49 L67.45,141.75 L67.50,142.02 L67.55,142.29 L67.59,142.57 L67.64,142.84 L67.68,143.11 L67.73,143.39 L67.77,143.66 L67.82,143.94 L67.86,144.21 L67.91,144.48 L67.95,144.76 L67.99,145.02 L68.03,145.29 L68.08,145.55 L68.12,145.81 L68.16,146.07 L68.20,146.32 L68.24,146.56 L68.28,146.81 L68.32,147.04 L68.36,147.27 L68.40,147.49 L68.44,147.71 L68.48,147.92 L68.52,148.12 L68.56,148.32 L68.60,148.50 L68.69,148.91 L68.77,149.32 L68.85,149.72 L68.93,150.12 L69.00,150.51 L69.08,150.87 L69.15,151.22 L69.22,151.53 L69.30,151.82 L69.37,152.06 L69.44,152.27 L69.51,152.43 L69.58,152.53 L69.65,152.58 L69.73,152.58 L69.80,152.50 L69.84,152.43 L69.88,152.34 L69.92,152.24 L69.96,152.11 L70.00,151.97 L70.04,151.81 L70.08,151.64 L70.13,151.45 L70.17,151.24 L70.21,151.03 L70.25,150.80 L70.29,150.55 L70.33,150.30 L70.37,150.04 L70.41,149.76 L70.45,149.48 L70.49,149.19 L70.53,148.89 L70.57,148.59 L70.61,148.27 L70.65,147.96 L70.69,147.64 L70.73,147.31 L70.77,146.98 L70.81,146.66 L70.85,146.32 L70.89,145.99 L70.93,145.66 L70.96,145.33 L71.00,145.00 L71.02,144.79 L71.04,144.59 L71.07,144.38 L71.09,144.17 L71.11,143.96 L71.12,143.75 L71.14,143.54 L71.16,143.33 L71.18,143.11 L71.20,142.89 L71.21,142.68 L71.23,142.46 L71.25,142.23 L71.26,142.01 L71.28,141.79 L71.29,141.56 L71.31,141.33 L71.32,141.10 L71.34,140.87 L71.35,140.63 L71.37,140.39 L71.39,140.15 L71.40,139.91 L71.42,139.66 L71.44,139.41 L71.45,139.16 L71.47,138.91 L71.49,138.65 L71.51,138.39 L71.52,138.13 L71.54,137.87 L71.56,137.60 L71.58,137.32 L71.60,137.05 L71.63,136.77 L71.65,136.49 L71.67,136.20 L71.70,135.91 L71.72,135.62 L71.75,135.32 L71.78,135.02 L71.80,134.72 L71.83,134.41 L71.86,134.09 L71.90,133.78 L71.93,133.46 L71.96,133.13 L72.00,132.80 L72.02,132.60 L72.05,132.39 L72.07,132.17 L72.09,131.96 L72.12,131.73 L72.14,131.51 L72.17,131.28 L72.19,131.04 L72.22,130.81 L72.25,130.57 L72.27,130.32 L72.30,130.07 L72.33,129.82 L72.36,129.57 L72.39,129.31 L72.42,129.05 L72.45,128.79 L72.48,128.53 L72.51,128.26 L72.54,127.99 L72.57,127.72 L72.60,127.45 L72.63,127.17 L72.67,126.90 L72.70,126.62 L72.73,126.34 L72.76,126.06 L72.80,125.78 L72.83,125.50 L72.86,125.21 L72.90,124.93 L72.93,124.65 L72.96,124.36 L73.00,124.07 L73.03,123.79 L73.07,123.50 L73.10,123.22 L73.14,122.93 L73.17,122.65 L73.20,122.36 L73.24,122.08 L73.27,121.80 L73.31,121.52 L73.34,121.23 L73.38,120.95 L73.41,120.68 L73.45,120.40 L73.49,120.12 L73.52,119.85 L73.56,119.58 L73.59,119.31 L73.62,119.04 L73.66,118.77 L73.69,118.51 L73.73,118.25 L73.76,117.99 L73.80,117.74 L73.83,117.49 L73.87,117.24 L73.90,116.99 L73.93,116.75 L73.97,116.51 L74.00,116.27 L74.03,116.04 L74.07,115.81 L74.10,115.59 L74.13,115.37 L74.17,115.15 L74.20,114.94 L74.23,114.73 L74.26,114.53 L74.29,114.34 L74.32,114.14 L74.35,113.96 L74.38,113.77 L74.41,113.60 L74.44,113.43 L74.47,113.26 L74.50,113.10 L74.61,112.54 L74.71,112.03 L74.81,111.57 L74.92,111.15 L75.02,110.78 L75.12,110.45 L75.21,110.16 L75.31,109.90 L75.41,109.67 L75.50,109.46 L75.60,109.28 L75.69,109.12 L75.78,108.97 L75.87,108.84 L75.97,108.72 L76.06,108.60 L76.15,108.49 L76.23,108.38 L76.32,108.26 L76.41,108.13 L76.50,108.00 L76.76,107.63 L77.00,107.35 L77.24,107.17 L77.48,107.07 L77.72,107.04 L77.95,107.09 L78.20,107.20 L78.34,107.29 L78.47,107.41 L78.61,107.56 L78.76,107.72 L78.90,107.91 L79.04,108.13 L79.18,108.35 L79.32,108.60 L79.46,108.86 L79.60,109.13 L79.74,109.41 L79.87,109.70 L80.00,110.00 L80.08,110.19 L80.16,110.39 L80.24,110.59 L80.31,110.79 L80.38,110.99 L80.46,111.19 L80.53,111.40 L80.60,111.62 L80.67,111.84 L80.74,112.08 L80.81,112.31 L80.88,112.56 L80.95,112.82 L81.02,113.09 L81.10,113.37 L81.17,113.67 L81.25,113.98 L81.33,114.30 L81.41,114.64 L81.50,115.00 L81.55,115.19 L81.59,115.39 L81.64,115.59 L81.68,115.79 L81.73,116.00 L81.78,116.22 L81.83,116.43 L81.88,116.66 L81.93,116.88 L81.98,117.12 L82.03,117.35 L82.08,117.59 L82.13,117.83 L82.18,118.07 L82.23,118.32 L82.28,118.57 L82.34,118.82 L82.39,119.08 L82.44,119.33 L82.50,119.59 L82.55,119.85 L82.60,120.11 L82.65,120.38 L82.71,120.64 L82.76,120.90 L82.81,121.17 L82.87,121.44 L82.92,121.70 L82.97,121.97 L83.03,122.24 L83.08,122.50 L83.13,122.77 L83.19,123.03 L83.24,123.30 L83.29,123.56 L83.34,123.82 L83.40,124.08 L83.45,124.34 L83.50,124.60 L83.55,124.84 L83.59,125.08 L83.64,125.32 L83.69,125.57 L83.73,125.81 L83.78,126.06 L83.82,126.31 L83.87,126.56 L83.91,126.82 L83.96,127.07 L84.00,127.32 L84.05,127.58 L84.09,127.83 L84.13,128.09 L84.18,128.35 L84.22,128.60 L84.27,128.86 L84.31,129.12 L84.35,129.37 L84.40,129.63 L84.44,129.89 L84.49,130.14 L84.53,130.40 L84.58,130.65 L84.63,130.91 L84.67,131.16 L84.72,131.42 L84.77,131.67 L84.81,131.92 L84.86,132.17 L84.91,132.41 L84.96,132.66 L85.01,132.90 L85.06,133.14 L85.11,133.38 L85.17,133.62 L85.22,133.86 L85.27,134.09 L85.33,134.32 L85.39,134.55 L85.44,134.78 L85.50,135.00 L85.57,135.27 L85.65,135.54 L85.72,135.80 L85.80,136.06 L85.87,136.31 L85.95,136.56 L86.03,136.80 L86.11,137.05 L86.19,137.29 L86.27,137.52 L86.36,137.76 L86.44,137.99 L86.53,138.22 L86.61,138.45 L86.70,138.68 L86.78,138.91 L86.87,139.14 L86.96,139.36 L87.04,139.59 L87.13,139.82 L87.22,140.05 L87.31,140.28 L87.40,140.51 L87.49,140.74 L87.58,140.97 L87.67,141.21 L87.76,141.44 L87.85,141.69 L87.94,141.93 L88.04,142.18 L88.13,142.43 L88.22,142.68 L88.31,142.94 L88.40,143.20 L88.48,143.42 L88.55,143.64 L88.63,143.86 L88.71,144.08 L88.78,144.31 L88.86,144.53 L88.94,144.76 L89.02,144.98 L89.10,145.21 L89.18,145.43 L89.26,145.66 L89.34,145.89 L89.42,146.12 L89.50,146.35 L89.58,146.58 L89.66,146.82 L89.74,147.05 L89.82,147.28 L89.90,147.52 L89.98,147.76 L90.07,147.99 L90.15,148.23 L90.23,148.47 L90.31,148.71 L90.39,148.96 L90.48,149.20 L90.56,149.44 L90.64,149.69 L90.72,149.94 L90.80,150.18 L90.89,150.43 L90.97,150.68 L91.05,150.94 L91.13,151.19 L91.21,151.44 L91.29,151.70 L91.38,151.96 L91.46,152.22 L91.54,152.48 L91.62,152.74 L91.70,153.00 L91.77,153.22 L91.84,153.46 L91.91,153.70 L91.97,153.94 L92.05,154.19 L92.12,154.45 L92.19,154.72 L92.26,154.99 L92.33,155.26 L92.40,155.54 L92.48,155.82 L92.55,156.10 L92.62,156.39 L92.70,156.68 L92.77,156.97 L92.84,157.27 L92.92,157.56 L92.99,157.85 L93.06,158.15 L93.14,158.44 L93.21,158.74 L93.28,159.03 L93.35,159.32 L93.43,159.61 L93.50,159.89 L93.57,160.18 L93.64,160.45 L93.71,160.73 L93.78,161.00 L93.85,161.27 L93.92,161.53 L93.99,161.78 L94.06,162.03 L94.12,162.27 L94.19,162.51 L94.25,162.73 L94.32,162.95 L94.38,163.17 L94.44,163.37 L94.50,163.56 L94.56,163.74 L94.62,163.92 L94.68,164.08 L94.74,164.23 L94.79,164.37 L94.85,164.49 L94.90,164.61 L94.95,164.71 L95.00,164.80 L95.14,165.00 L95.27,165.11 L95.39,165.13 L95.50,165.07 L95.60,164.94 L95.69,164.75 L95.78,164.50 L95.86,164.20 L95.94,163.86 L96.02,163.49 L96.09,163.10 L96.17,162.68 L96.24,162.26 L96.32,161.83 L96.41,161.41 L96.50,161.00 L96.54,160.82 L96.58,160.62 L96.62,160.41 L96.67,160.20 L96.71,159.97 L96.75,159.73 L96.79,159.49 L96.83,159.24 L96.88,158.98 L96.92,158.71 L96.96,158.44 L97.00,158.17 L97.04,157.89 L97.08,157.60 L97.12,157.32 L97.17,157.03 L97.21,156.74 L97.25,156.46 L97.29,156.17 L97.33,155.88 L97.38,155.60 L97.42,155.31 L97.46,155.03 L97.50,154.76 L97.54,154.48 L97.58,154.22 L97.62,153.96 L97.67,153.70 L97.71,153.46 L97.75,153.22 L97.79,152.99 L97.83,152.77 L97.88,152.56 L97.92,152.36 L97.96,152.17 L98.00,152.00 L98.12,151.55 L98.23,151.14 L98.35,150.75 L98.47,150.41 L98.60,150.10 L98.72,149.82 L98.83,149.58 L98.95,149.37 L99.07,149.20 L99.18,149.07 L99.29,148.98 L99.40,148.92 L99.50,148.90 L99.60,148.92 L99.69,148.99 L99.79,149.10 L99.87,149.25 L99.96,149.44 L100.05,149.66 L100.13,149.91 L100.21,150.20 L100.29,150.51 L100.37,150.85 L100.45,151.21 L100.52,151.60 L100.60,152.00 L100.63,152.18 L100.66,152.36 L100.69,152.54 L100.72,152.73 L100.75,152.92 L100.78,153.11 L100.81,153.30 L100.84,153.50 L100.86,153.70 L100.89,153.91 L100.91,154.12 L100.94,154.34 L100.97,154.57 L100.99,154.80 L101.02,155.03 L101.05,155.27 L101.07,155.52 L101.10,155.78 L101.13,156.05 L101.16,156.32 L101.18,156.60 L101.22,156.90 L101.25,157.20 L101.28,157.51 L101.31,157.83 L101.35,158.16 L101.38,158.50 L101.42,158.86 L101.46,159.22 L101.50,159.60 L101.52,159.79 L101.54,159.99 L101.56,160.18 L101.59,160.39 L101.61,160.59 L101.63,160.80 L101.65,161.02 L101.68,161.24 L101.70,161.46 L101.72,161.68 L101.75,161.91 L101.77,162.14 L101.80,162.37 L101.82,162.61 L101.85,162.85 L101.87,163.09 L101.90,163.34 L101.93,163.58 L101.95,163.83 L101.98,164.09 L102.01,164.34 L102.03,164.60 L102.06,164.85 L102.09,165.11 L102.12,165.37 L102.14,165.64 L102.17,165.90 L102.20,166.17 L102.23,166.43 L102.25,166.70 L102.28,166.97 L102.31,167.24 L102.34,167.51 L102.37,167.79 L102.40,168.06 L102.42,168.33 L102.45,168.60 L102.48,168.88 L102.51,169.15 L102.54,169.42 L102.56,169.70 L102.59,169.97 L102.62,170.25 L102.65,170.52 L102.68,170.79 L102.70,171.06 L102.73,171.33 L102.76,171.61 L102.79,171.87 L102.81,172.14 L102.84,172.41 L102.87,172.68 L102.89,172.94 L102.92,173.21 L102.95,173.47 L102.97,173.73 L103.00,173.99 L103.02,174.24 L103.05,174.50 L103.08,174.75 L103.10,175.00 L103.12,175.25 L103.15,175.51 L103.17,175.76 L103.20,176.02 L103.22,176.28 L103.25,176.54 L103.27,176.80 L103.30,177.05 L103.32,177.31 L103.35,177.58 L103.37,177.84 L103.40,178.10 L103.42,178.36 L103.45,178.62 L103.47,178.88 L103.50,179.15 L103.52,179.41 L103.54,179.67 L103.57,179.93 L103.59,180.20 L103.62,180.46 L103.64,180.72 L103.66,180.98 L103.69,181.24 L103.71,181.51 L103.74,181.77 L103.76,182.03 L103.78,182.29 L103.81,182.55 L103.83,182.81 L103.85,183.06 L103.88,183.32 L103.90,183.58 L103.92,183.83 L103.95,184.09 L103.97,184.34 L103.99,184.60 L104.02,184.85 L104.04,185.10 L104.06,185.35 L104.09,185.60 L104.11,185.84 L104.13,186.09 L104.15,186.33 L104.18,186.58 L104.20,186.82 L104.22,187.06 L104.24,187.29 L104.26,187.53 L104.29,187.77 L104.31,188.00 L104.33,188.23 L104.35,188.46 L104.37,188.68 L104.39,188.91 L104.42,189.13 L104.44,189.35 L104.46,189.57 L104.48,189.79 L104.50,190.00 L104.53,190.30 L104.56,190.61 L104.59,190.91 L104.62,191.22 L104.65,191.52 L104.68,191.83 L104.71,192.13 L104.74,192.44 L104.78,192.74 L104.81,193.04 L104.84,193.34 L104.87,193.63 L104.90,193.93 L104.93,194.22 L104.96,194.51 L104.99,194.80 L105.02,195.08 L105.05,195.37 L105.08,195.64 L105.11,195.92 L105.14,196.19 L105.17,196.45 L105.19,196.71 L105.22,196.97 L105.25,197.22 L105.27,197.47 L105.30,197.71 L105.33,197.94 L105.35,198.17 L105.37,198.40 L105.40,198.61 L105.42,198.82 L105.44,199.03 L105.46,199.22 L105.48,199.41 L105.50,199.59 L105.52,199.76 L105.54,199.93 L105.56,200.08 L105.57,200.23 L105.59,200.37 L105.60,200.50 L105.90,205.38 L106.95,202.25 L107.88,205.32 L108.83,200.92 L109.66,205.57 L110.63,202.71 L111.70,206.52 L112.47,202.68 L113.22,205.27 L113.95,201.91 L114.97,206.02 L115.87,201.57 L116.69,207.00 L117.71,201.57 L118.51,205.15 L119.51,202.56 L120.37,206.25 L121.09,203.00 L121.98,205.88 L122.73,202.48 L123.54,204.70 L124.61,202.03 L125.42,204.57 L126.43,202.95 L127.31,205.01 L128.07,202.18 L128.94,204.80 L130.01,202.08 L131.05,204.86 L132.08,202.17 L133.16,204.80 L134.15,202.64 L134.90,204.81 L135.71,202.36 L136.59,205.80 L137.52,201.94 L138.29,205.91 L139.10,203.03 L140.16,205.13 L141.20,202.35 L141.96,204.97 L142.76,202.09 L143.78,205.40 L144.56,201.86 L145.37,205.76 L146.31,202.75 L147.10,204.80 L147.98,202.61 L148.83,205.73 L149.68,201.57 L150.64,206.17 L151.41,202.55 L152.46,206.25 L153.19,201.95 L154.17,205.53 L154.92,202.38 L155.96,205.81 L156.97,201.86 L157.93,205.98 L158.80,202.34 L159.73,205.36 L160.66,202.19 L161.61,206.04 L162.59,202.79 L163.52,205.36 L164.27,202.01 L165.21,205.10 L166.18,202.60 L167.23,204.73 L168.06,202.18 L168.84,205.82 L169.72,201.99 L170.68,204.87 L171.69,202.24 L172.55,205.27 L173.31,202.71 L174.34,205.74 L175.16,202.91 L175.98,204.88 L176.92,202.45 L177.95,205.81 L178.69,203.28 L179.43,205.54 L180.26,201.95 L181.03,204.97 L182.05,202.67 L182.78,205.39 L183.73,202.51 L184.80,205.33 L185.69,202.68 L186.58,205.35 L187.40,202.82 L188.30,205.52 L189.16,202.40 L189.92,205.89 L190.68,202.66 L191.73,205.15 L192.77,202.40 L193.65,205.31 L194.63,202.20 L195.61,205.15 L196.68,201.89 L197.69,205.34 L198.72,202.37 L199.60,205.68 L200.49,203.10 L201.23,205.86 L202.08,201.54 L202.85,205.82 L203.87,202.00 L204.77,206.26 L205.57,201.92 L206.55,205.94 L207.57,201.95 L208.43,206.32 L209.23,201.97 L210.14,205.44 L211.05,202.41 L211.78,206.02 L212.64,202.09 L213.54,205.34 L214.45,202.83 L215.51,204.99 L216.27,202.76 L217.32,205.15 L218.10,202.61 L218.87,205.36 L219.66,202.96 L220.50,205.15 L221.25,202.08 L222.16,204.81 L223.07,202.55 L223.94,205.12 L224.73,202.45 L225.64,205.73 L226.67,202.98 L227.68,205.65 L228.52,201.90 L229.60,205.54 L230.40,202.15 L231.16,205.62 L232.16,202.94 L233.13,204.54 L234.09,202.28 L234.85,205.40 L235.76,202.16 L236.50,204.56 L237.42,202.56 L238.19,204.74 L239.21,202.17 L239.97,204.96 L240.86,202.14 L241.74,205.24 L242.68,203.22 L243.70,204.86 L244.69,202.50 L245.47,205.03 L246.51,202.28 L247.54,205.37 L248.48,202.78 L249.49,205.18 L250.47,202.36 L251.34,205.93 L252.31,202.34 L253.18,205.33 L254.02,202.30 L254.87,205.55 L255.67,201.98 L256.51,205.62 L257.42,202.76 L258.38,205.91 L259.45,202.99 L260.43,205.21 L261.17,202.55 L261.93,205.48 L262.85,202.37 L263.77,206.42 L264.78,202.91 L265.78,205.07 L266.55,202.24 L267.45,205.31 L268.51,202.58 L269.45,205.03 L270.40,202.33 L271.38,204.78 L272.19,202.91 L273.18,205.33 L274.17,203.32 L275.23,204.96 L276.10,202.80 L276.91,205.51 L277.89,202.82 L278.91,205.19 L279.85,202.44 L280.59,205.11 L281.47,202.32 L282.28,205.32 L283.28,202.75 L284.35,205.41 L285.11,202.21 L286.05,204.98 L287.02,202.51 L287.97,205.41 L288.78,202.18 L289.81,204.49 L290.63,202.69 L291.39,205.10 L292.14,202.34 L293.09,205.12 L293.88,202.81 L294.90,204.62 L295.92,202.34 L296.71,205.28 L297.72,202.47 L298.80,205.45 L299.79,201.35 L300.64,205.27 L301.39,202.80 L302.28,205.78 L303.28,202.75 L304.24,204.76 L305.22,202.10 L305.99,205.25" stroke="#0000ff" fill="none" stroke-linejoin="round" stroke-linecap="round" stroke-width="1.5"/></g>
<g clip-path="url(#cr)"><path d="M402.30,136.10 L402.33,136.23 L402.36,136.38 L402.39,136.54 L402.43,136.71 L402.47,136.90 L402.51,137.10 L402.55,137.31 L402.60,137.54 L402.64,137.77 L402.69,138.01 L402.74,138.26 L402.80,138.52 L402.85,138.78 L402.90,139.05 L402.96,139.33 L403.02,139.61 L403.08,139.89 L403.14,140.17 L403.20,140.46 L403.26,140.75 L403.32,141.04 L403.38,141.33 L403.44,141.62 L403.50,141.91 L403.56,142.19 L403.61,142.47 L403.67,142.74 L403.73,143.02 L403.79,143.28 L403.84,143.54 L403.90,143.79 L403.95,144.03 L404.00,144.26 L404.05,144.49 L404.10,144.70 L404.17,145.00 L404.24,145.31 L404.31,145.62 L404.37,145.94 L404.44,146.25 L404.51,146.56 L404.57,146.87 L404.64,147.18 L404.71,147.48 L404.77,147.78 L404.84,148.07 L404.90,148.35 L404.96,148.62 L405.03,148.88 L405.09,149.13 L405.15,149.36 L405.21,149.58 L405.27,149.79 L405.33,149.97 L405.38,150.14 L405.44,150.29 L405.49,150.41 L405.55,150.52 L405.60,150.60 L405.71,150.69 L405.81,150.69 L405.90,150.59 L405.99,150.42 L406.08,150.17 L406.16,149.88 L406.24,149.54 L406.33,149.17 L406.41,148.78 L406.50,148.39 L406.60,148.00 L406.65,147.81 L406.69,147.62 L406.74,147.41 L406.79,147.20 L406.83,146.98 L406.88,146.76 L406.93,146.52 L406.97,146.28 L407.02,146.04 L407.07,145.79 L407.12,145.53 L407.17,145.27 L407.22,145.00 L407.27,144.73 L407.32,144.46 L407.38,144.19 L407.43,143.91 L407.49,143.63 L407.55,143.34 L407.61,143.06 L407.67,142.77 L407.73,142.49 L407.80,142.20 L407.85,141.98 L407.91,141.75 L407.96,141.51 L408.02,141.27 L408.08,141.03 L408.14,140.78 L408.20,140.53 L408.26,140.28 L408.32,140.02 L408.39,139.76 L408.45,139.50 L408.51,139.24 L408.58,138.97 L408.65,138.71 L408.71,138.44 L408.78,138.18 L408.85,137.92 L408.91,137.66 L408.98,137.40 L409.05,137.14 L409.12,136.89 L409.18,136.64 L409.25,136.39 L409.32,136.15 L409.38,135.91 L409.45,135.67 L409.51,135.45 L409.57,135.22 L409.64,135.01 L409.70,134.80 L409.79,134.50 L409.88,134.20 L409.98,133.91 L410.07,133.63 L410.16,133.35 L410.25,133.08 L410.35,132.82 L410.44,132.56 L410.53,132.31 L410.62,132.07 L410.71,131.83 L410.80,131.60 L410.89,131.37 L410.98,131.14 L411.07,130.93 L411.15,130.71 L411.24,130.50 L411.33,130.30 L411.41,130.10 L411.50,129.90 L411.63,129.61 L411.75,129.32 L411.86,129.06 L411.98,128.80 L412.09,128.55 L412.20,128.32 L412.31,128.10 L412.43,127.89 L412.55,127.69 L412.67,127.50 L412.81,127.32 L412.95,127.16 L413.10,127.00 L413.31,126.84 L413.54,126.74 L413.79,126.68 L414.04,126.64 L414.30,126.61 L414.56,126.58 L414.83,126.51 L415.09,126.41 L415.35,126.24 L415.60,126.00 L415.72,125.86 L415.83,125.69 L415.95,125.52 L416.06,125.33 L416.18,125.12 L416.29,124.91 L416.40,124.69 L416.52,124.45 L416.63,124.21 L416.74,123.97 L416.86,123.72 L416.97,123.47 L417.08,123.21 L417.20,122.96 L417.31,122.71 L417.42,122.46 L417.54,122.21 L417.65,121.97 L417.77,121.74 L417.88,121.51 L418.00,121.30 L418.13,121.07 L418.26,120.85 L418.40,120.63 L418.54,120.42 L418.68,120.21 L418.82,120.01 L418.96,119.80 L419.10,119.60 L419.24,119.40 L419.38,119.19 L419.51,118.99 L419.65,118.78 L419.78,118.57 L419.91,118.36 L420.04,118.14 L420.16,117.91 L420.28,117.68 L420.39,117.45 L420.50,117.20 L420.59,116.98 L420.67,116.75 L420.75,116.50 L420.82,116.25 L420.89,116.00 L420.96,115.73 L421.03,115.47 L421.09,115.20 L421.15,114.93 L421.21,114.65 L421.27,114.38 L421.33,114.11 L421.39,113.84 L421.45,113.58 L421.51,113.33 L421.57,113.08 L421.63,112.84 L421.70,112.60 L421.77,112.38 L421.84,112.18 L421.92,111.98 L422.00,111.80 L422.16,111.50 L422.33,111.25 L422.50,111.02 L422.68,110.83 L422.87,110.66 L423.06,110.50 L423.25,110.35 L423.44,110.21 L423.63,110.07 L423.83,109.93 L424.01,109.77 L424.20,109.60 L424.38,109.41 L424.57,109.21 L424.75,109.01 L424.93,108.80 L425.12,108.59 L425.30,108.38 L425.48,108.18 L425.67,107.99 L425.85,107.82 L426.03,107.66 L426.22,107.52 L426.40,107.40 L426.67,107.26 L426.95,107.16 L427.22,107.09 L427.50,107.05 L427.77,107.03 L428.05,107.04 L428.32,107.06 L428.60,107.10 L428.85,107.14 L429.10,107.20 L429.36,107.26 L429.62,107.35 L429.87,107.45 L430.12,107.57 L430.36,107.72 L430.59,107.89 L430.80,108.10 L430.94,108.26 L431.08,108.45 L431.21,108.64 L431.34,108.86 L431.46,109.08 L431.58,109.32 L431.69,109.56 L431.81,109.81 L431.91,110.07 L432.02,110.33 L432.11,110.59 L432.21,110.84 L432.30,111.10 L432.38,111.34 L432.45,111.57 L432.51,111.82 L432.56,112.06 L432.61,112.30 L432.66,112.55 L432.71,112.81 L432.75,113.06 L432.80,113.32 L432.85,113.59 L432.90,113.86 L432.96,114.13 L433.03,114.41 L433.10,114.70 L433.16,114.93 L433.23,115.16 L433.30,115.39 L433.37,115.63 L433.44,115.87 L433.52,116.11 L433.60,116.36 L433.68,116.61 L433.76,116.86 L433.84,117.11 L433.92,117.36 L434.00,117.62 L434.09,117.88 L434.17,118.14 L434.25,118.40 L434.34,118.67 L434.42,118.93 L434.50,119.20 L434.57,119.43 L434.64,119.65 L434.71,119.88 L434.78,120.10 L434.85,120.32 L434.92,120.55 L434.99,120.77 L435.06,121.00 L435.14,121.22 L435.21,121.45 L435.28,121.69 L435.35,121.92 L435.42,122.16 L435.50,122.41 L435.57,122.66 L435.64,122.91 L435.71,123.18 L435.78,123.45 L435.86,123.72 L435.93,124.01 L436.00,124.30 L436.05,124.51 L436.10,124.72 L436.15,124.93 L436.20,125.14 L436.25,125.36 L436.30,125.57 L436.35,125.79 L436.40,126.01 L436.45,126.23 L436.50,126.46 L436.55,126.69 L436.60,126.92 L436.65,127.15 L436.70,127.39 L436.75,127.62 L436.80,127.87 L436.85,128.11 L436.90,128.36 L436.95,128.62 L437.00,128.87 L437.05,129.14 L437.10,129.40 L437.15,129.67 L437.20,129.95 L437.25,130.23 L437.30,130.51 L437.35,130.80 L437.40,131.09 L437.45,131.39 L437.50,131.70 L437.53,131.91 L437.57,132.13 L437.60,132.35 L437.64,132.58 L437.67,132.81 L437.71,133.04 L437.74,133.28 L437.77,133.52 L437.81,133.77 L437.84,134.02 L437.88,134.27 L437.91,134.52 L437.95,134.78 L437.98,135.03 L438.02,135.29 L438.05,135.56 L438.08,135.82 L438.12,136.09 L438.15,136.35 L438.19,136.62 L438.22,136.89 L438.26,137.16 L438.29,137.43 L438.32,137.69 L438.36,137.96 L438.39,138.23 L438.43,138.50 L438.46,138.77 L438.50,139.04 L438.53,139.30 L438.56,139.57 L438.60,139.83 L438.63,140.09 L438.67,140.35 L438.70,140.61 L438.73,140.87 L438.77,141.12 L438.80,141.37 L438.83,141.62 L438.87,141.86 L438.90,142.10 L438.93,142.34 L438.97,142.57 L439.00,142.80 L439.04,143.08 L439.08,143.35 L439.12,143.62 L439.16,143.88 L439.20,144.14 L439.24,144.40 L439.28,144.66 L439.32,144.91 L439.35,145.16 L439.39,145.41 L439.43,145.66 L439.47,145.90 L439.51,146.15 L439.55,146.39 L439.59,146.63 L439.62,146.87 L439.66,147.11 L439.70,147.34 L439.74,147.58 L439.78,147.82 L439.81,148.05 L439.85,148.29 L439.89,148.53 L439.93,148.76 L439.97,149.00 L440.01,149.24 L440.05,149.48 L440.08,149.72 L440.12,149.96 L440.16,150.20 L440.20,150.45 L440.24,150.69 L440.28,150.94 L440.32,151.19 L440.36,151.44 L440.40,151.70 L440.44,151.95 L440.48,152.20 L440.52,152.46 L440.56,152.72 L440.60,152.99 L440.64,153.26 L440.68,153.53 L440.72,153.81 L440.76,154.09 L440.80,154.37 L440.84,154.65 L440.88,154.94 L440.93,155.22 L440.97,155.51 L441.01,155.80 L441.05,156.08 L441.09,156.37 L441.13,156.65 L441.17,156.93 L441.22,157.21 L441.26,157.49 L441.30,157.76 L441.34,158.03 L441.38,158.29 L441.42,158.55 L441.46,158.81 L441.50,159.06 L441.54,159.30 L441.58,159.54 L441.62,159.77 L441.65,159.99 L441.69,160.20 L441.73,160.41 L441.76,160.61 L441.80,160.79 L441.83,160.97 L441.87,161.14 L441.90,161.30 L442.04,161.95 L442.16,162.45 L442.27,162.82 L442.37,163.08 L442.47,163.24 L442.59,163.32 L442.73,163.33 L442.90,163.30 L443.02,163.25 L443.16,163.16 L443.31,163.05 L443.46,162.89 L443.62,162.71 L443.79,162.51 L443.96,162.28 L444.13,162.02 L444.30,161.75 L444.46,161.46 L444.62,161.15 L444.76,160.83 L444.90,160.50 L444.97,160.31 L445.04,160.11 L445.10,159.89 L445.16,159.66 L445.22,159.43 L445.28,159.18 L445.33,158.92 L445.39,158.66 L445.44,158.40 L445.50,158.12 L445.55,157.85 L445.60,157.57 L445.65,157.30 L445.70,157.02 L445.76,156.75 L445.81,156.48 L445.87,156.22 L445.92,155.96 L445.98,155.71 L446.04,155.46 L446.10,155.23 L446.16,155.01 L446.23,154.80 L446.30,154.60 L446.42,154.29 L446.54,153.98 L446.67,153.67 L446.81,153.37 L446.94,153.07 L447.09,152.78 L447.23,152.51 L447.37,152.26 L447.51,152.03 L447.66,151.83 L447.79,151.67 L447.93,151.54 L448.06,151.45 L448.18,151.40 L448.30,151.40 L448.40,151.44 L448.50,151.53 L448.59,151.65 L448.68,151.80 L448.77,151.98 L448.85,152.19 L448.93,152.43 L449.01,152.69 L449.09,152.98 L449.17,153.28 L449.25,153.61 L449.34,153.94 L449.42,154.29 L449.51,154.65 L449.60,155.02 L449.70,155.40 L449.75,155.59 L449.80,155.79 L449.85,156.00 L449.90,156.22 L449.95,156.44 L450.01,156.68 L450.06,156.92 L450.12,157.17 L450.17,157.43 L450.23,157.69 L450.28,157.95 L450.34,158.22 L450.39,158.49 L450.45,158.77 L450.51,159.04 L450.57,159.32 L450.62,159.59 L450.68,159.87 L450.74,160.15 L450.79,160.42 L450.85,160.69 L450.91,160.96 L450.96,161.22 L451.02,161.48 L451.08,161.74 L451.13,161.99 L451.19,162.23 L451.24,162.46 L451.29,162.69 L451.35,162.91 L451.40,163.11 L451.45,163.31 L451.50,163.50 L451.60,163.84 L451.71,164.12 L451.81,164.36 L451.91,164.55 L452.01,164.71 L452.11,164.86 L452.20,164.99 L452.30,165.12 L452.39,165.27 L452.49,165.43 L452.58,165.63 L452.67,165.86 L452.75,166.15 L452.84,166.49 L452.92,166.91 L453.00,167.40 L453.02,167.57 L453.05,167.74 L453.07,167.91 L453.09,168.10 L453.11,168.28 L453.13,168.48 L453.15,168.68 L453.17,168.88 L453.19,169.09 L453.21,169.30 L453.23,169.52 L453.25,169.74 L453.27,169.97 L453.29,170.20 L453.31,170.44 L453.32,170.68 L453.34,170.92 L453.36,171.16 L453.37,171.41 L453.39,171.66 L453.41,171.92 L453.43,172.18 L453.44,172.44 L453.46,172.70 L453.48,172.97 L453.49,173.23 L453.51,173.50 L453.52,173.78 L453.54,174.05 L453.56,174.32 L453.57,174.60 L453.59,174.88 L453.61,175.15 L453.63,175.43 L453.64,175.71 L453.66,175.99 L453.68,176.28 L453.69,176.56 L453.71,176.84 L453.73,177.12 L453.75,177.40 L453.77,177.68 L453.79,177.96 L453.81,178.24 L453.83,178.52 L453.85,178.80 L453.87,179.07 L453.89,179.35 L453.91,179.62 L453.93,179.90 L453.95,180.17 L453.98,180.43 L454.00,180.70 L454.02,180.94 L454.04,181.18 L454.07,181.43 L454.09,181.67 L454.11,181.92 L454.14,182.18 L454.16,182.43 L454.18,182.69 L454.21,182.95 L454.23,183.21 L454.26,183.47 L454.29,183.73 L454.31,184.00 L454.34,184.27 L454.37,184.53 L454.39,184.80 L454.42,185.07 L454.45,185.34 L454.47,185.61 L454.50,185.88 L454.53,186.15 L454.56,186.43 L454.59,186.70 L454.61,186.97 L454.64,187.24 L454.67,187.52 L454.70,187.79 L454.73,188.06 L454.75,188.33 L454.78,188.60 L454.81,188.87 L454.84,189.13 L454.87,189.40 L454.89,189.66 L454.92,189.93 L454.95,190.19 L454.98,190.45 L455.00,190.71 L455.03,190.97 L455.06,191.22 L455.09,191.47 L455.11,191.72 L455.14,191.97 L455.16,192.22 L455.19,192.46 L455.21,192.70 L455.24,192.94 L455.26,193.17 L455.29,193.40 L455.31,193.63 L455.33,193.85 L455.36,194.07 L455.38,194.29 L455.40,194.50 L455.42,194.71 L455.44,194.91 L455.46,195.11 L455.48,195.31 L455.50,195.50 L455.54,195.87 L455.57,196.23 L455.61,196.58 L455.64,196.92 L455.67,197.26 L455.70,197.59 L455.73,197.91 L455.76,198.22 L455.79,198.52 L455.82,198.82 L455.85,199.11 L455.87,199.39 L455.90,199.66 L455.92,199.92 L455.94,200.18 L455.97,200.42 L455.99,200.66 L456.01,200.89 L456.03,201.11 L456.05,201.33 L456.07,201.53 L456.08,201.73 L456.10,201.92 L456.12,202.10 L456.13,202.27 L456.15,202.43 L456.16,202.59 L456.18,202.73 L456.19,202.87 L456.20,203.00 L458.40,185.20 L460.00,208.50 L462.60,184.80 L464.60,207.50 L467.00,198.80 L468.50,206.50 L470.30,198.20 L472.00,206.50 L473.60,199.50 L474.00,201.17 L474.30,200.35 L474.60,199.95 L474.90,200.07 L475.20,200.68 L475.50,201.63 L475.80,202.60 L476.10,203.38 L476.40,203.81 L476.70,203.78 L477.00,203.30 L477.30,202.49 L477.60,201.12 L477.90,199.52 L478.20,198.54 L478.50,198.45 L478.80,199.25 L479.10,200.75 L479.40,202.34 L479.70,203.33 L480.00,203.99 L480.30,204.13 L480.60,203.74 L480.90,202.91 L481.20,201.85 L481.50,200.88 L481.80,200.19 L482.10,199.97 L482.40,200.26 L482.70,200.99 L483.00,201.98 L483.30,203.43 L483.60,204.54 L483.90,204.99 L484.20,204.69 L484.50,203.71 L484.80,202.29 L485.10,201.02 L485.40,200.05 L485.70,199.58 L486.00,199.72 L486.30,200.45 L486.60,201.56 L486.90,203.11 L487.20,204.55 L487.50,205.34 L487.80,205.29 L488.10,204.40 L488.40,202.90 L488.70,201.46 L489.00,200.47 L489.30,199.87 L489.60,199.81 L489.90,200.31 L490.20,201.23 L490.50,202.56 L490.80,204.20 L491.10,205.29 L491.40,205.53 L491.70,204.88 L492.00,203.50 L492.30,201.82 L492.60,200.68 L492.90,199.87 L493.20,199.61 L493.50,199.95 L493.80,200.81 L494.10,201.97 L494.40,203.39 L494.70,204.46 L495.00,204.90 L495.30,204.61 L495.60,203.65 L495.90,202.28 L496.20,200.59 L496.50,199.20 L496.80,198.53 L497.10,198.73 L497.40,199.77 L497.70,201.37 L498.00,202.99 L498.30,204.27 L498.60,204.98 L498.90,204.93 L499.20,204.14 L499.50,202.80 L499.80,201.16 L500.10,199.61 L500.40,198.67 L500.70,198.58 L501.00,199.35 L501.30,200.80 L501.60,202.49 L501.90,203.92 L502.20,204.87 L502.50,205.08 L502.80,204.52 L503.10,203.31 L503.40,201.86 L503.70,200.95 L504.00,200.30 L504.30,200.09 L504.60,200.36 L504.90,201.05 L505.20,201.98 L505.50,203.66 L505.80,204.95 L506.10,205.48 L506.40,205.13 L506.70,203.98 L507.00,202.33 L507.30,200.79 L507.60,199.59 L507.90,199.01 L508.20,199.19 L508.50,200.08 L508.80,201.46 L509.10,202.84 L509.40,203.93 L509.70,204.53 L510.00,204.49 L510.30,203.82 L510.60,202.68 L510.90,201.40 L511.20,200.30 L511.50,199.63 L511.80,199.56 L512.10,200.11 L512.40,201.15 L512.70,202.64 L513.00,204.52 L513.30,205.75 L513.60,206.03 L513.90,205.29 L514.20,203.71 L514.50,201.74 L514.80,200.04 L515.10,198.83 L515.40,198.44 L515.70,198.94 L516.00,200.23 L516.30,201.96 L516.60,204.06 L516.90,205.65 L517.20,206.31 L517.50,205.87 L517.80,204.45 L518.10,202.41 L518.40,200.48 L518.70,198.98 L519.00,198.25 L519.30,198.47 L519.60,199.59 L519.90,201.32 L520.20,203.28 L520.50,204.95 L520.80,205.87 L521.10,205.81 L521.40,204.78 L521.70,203.04 L522.00,201.27 L522.30,199.93 L522.60,199.12 L522.90,199.04 L523.20,199.71 L523.50,200.96 L523.80,202.50 L524.10,203.96 L524.40,204.93 L524.70,205.15 L525.00,204.57 L525.30,203.34 L525.60,201.78 L525.90,200.37 L526.20,199.37 L526.50,199.04 L526.80,199.46 L527.10,200.53 L527.40,201.97 L527.70,203.10 L528.00,203.94 L528.30,204.29 L528.60,204.06 L528.90,203.30 L529.20,202.22 L529.50,200.57 L529.80,199.17 L530.10,198.48 L530.40,198.69 L530.70,199.74 L531.00,201.36 L531.30,202.77 L531.60,203.77 L531.90,204.32 L532.20,204.29 L532.50,203.67 L532.80,202.63 L533.10,201.22 L533.40,199.79 L533.70,198.92 L534.00,198.83 L534.30,199.55 L534.60,200.89 L534.90,202.56 L535.20,204.20 L535.50,205.28 L535.80,205.52 L536.10,204.87 L536.40,203.50 L536.70,201.78 L537.00,200.35 L537.30,199.34 L537.60,199.00 L537.90,199.43 L538.20,200.51 L538.50,201.97 L538.80,202.99 L539.10,203.75 L539.40,204.07 L539.70,203.86 L540.00,203.18 L540.30,202.20 L540.60,200.67 L540.90,199.36 L541.20,198.72 L541.50,198.91 L541.80,199.89 L542.10,201.40 L542.40,202.97 L542.70,204.25 L543.00,204.95 L543.30,204.90 L543.60,204.11 L543.90,202.79 L544.20,201.47 L544.50,200.52 L544.80,199.93 L545.10,199.88 L545.40,200.35 L545.70,201.24 L546.00,202.28 L546.30,203.16 L546.60,203.74 L546.90,203.87 L547.20,203.52 L547.50,202.77 L547.80,201.76 L548.10,200.41 L548.40,199.46 L548.70,199.14 L549.00,199.54 L549.30,200.54 L549.60,201.90 L549.90,202.84 L550.20,203.54 L550.50,203.82 L550.80,203.62 L551.10,202.98 L551.40,202.07 L551.70,200.41 L552.00,198.95 L552.30,198.24 L552.60,198.44 L552.90,199.50 L553.20,201.15 L553.50,202.74 L553.80,203.96 L554.10,204.62 L554.40,204.56 L554.70,203.77 L555.00,202.46 L555.30,200.90 L555.60,199.49 L555.90,198.62 L556.20,198.51 L556.50,199.18 L556.80,200.44 L557.10,201.98 L557.40,203.39 L557.70,204.30 L558.00,204.48 L558.30,203.87 L558.60,202.61 L558.90,200.94 L559.20,198.96 L559.50,197.54 L559.80,197.03 L560.10,197.56 L560.40,198.98 L560.70,200.91 L561.00,203.48 L561.30,205.41 L561.60,206.18 L561.90,205.57 L562.20,203.74 L562.50,201.12 L562.80,198.86 L563.10,197.13 L563.40,196.26 L563.70,196.44 L564.00,197.62 L564.30,199.47 L564.60,201.78 L564.90,203.83 L565.20,204.93 L565.50,204.79 L565.80,203.42 L566.10,201.16 L566.40,198.21 L566.70,195.27 L567.00,193.45 L567.30,193.22 L567.60,194.61 L567.90,197.26 L568.20,200.38 L568.50,203.05 L568.80,204.79 L569.10,205.15 L569.40,204.03 L569.70,201.70 L570.00,198.61 L570.30,194.86 L570.60,192.21 L570.90,191.31 L571.20,192.39 L571.50,195.18 L571.80,198.94 L572.10,202.77 L572.40,205.65 L572.70,206.85 L573.00,206.06 L573.30,203.47 L573.60,199.76 L573.90,196.08 L574.20,193.21 L574.50,191.82 L574.80,192.26 L575.10,194.44 L575.40,197.81 L575.70,201.81 L576.00,205.30 L576.30,207.25 L576.60,207.16 L576.90,205.06 L577.20,201.51 L577.50,197.69 L577.80,194.63 L578.10,192.79 L578.40,192.65 L578.70,194.27 L579.00,197.25 L579.30,200.44 L579.60,202.61 L579.90,204.06 L580.20,204.44 L580.50,203.67 L580.80,201.96 L581.10,199.55 L581.40,196.06 L581.70,193.61 L582.00,192.84 L582.30,193.96 L582.60,196.71 L582.90,200.40 L583.20,202.63 L583.50,204.29 L583.80,205.01 L584.10,204.63 L584.40,203.26 L584.70,201.26 L585.00,199.27 L585.30,197.73 L585.60,197.01 L585.90,197.29 L586.20,198.54 L586.50,200.43 L586.80,202.33 L587.10,203.85 L587.40,204.71 L587.70,204.69 L588.00,203.82 L588.30,202.33 L588.60,200.40 L588.90,198.50 L589.20,197.37 L589.50,197.28 L589.80,198.28 L590.10,200.11 L590.40,202.28 L590.70,204.18 L591.00,205.44 L591.30,205.75 L591.60,205.03 L591.90,203.47 L592.20,201.55 L592.50,200.14 L592.80,199.16 L593.10,198.84 L593.40,199.28 L593.70,200.36 L594.00,201.83 L594.30,203.14 L594.60,204.12 L594.90,204.54 L595.20,204.28 L595.50,203.42 L595.80,202.17 L596.10,201.11 L596.40,200.31 L596.70,199.92 L597.00,200.05 L597.30,200.66 L597.60,201.59 L597.90,203.08 L598.20,204.55 L598.50,205.36 L598.80,205.31 L599.10,204.41 L599.40,202.89 L599.70,201.46 L600.00,200.51 L600.30,199.94 L600.60,199.88 L600.90,200.36 L601.20,201.25 L601.50,202.44 L601.80,203.77 L602.10,204.65 L602.40,204.85 L602.70,204.32 L603.00,203.21 L603.30,201.80 L603.60,200.54 L603.90,199.65 L604.20,199.36 L604.50,199.74 L604.80,200.69 L605.10,201.97 L605.40,203.38 L605.70,204.44 L606.00,204.88 L606.30,204.59 L606.60,203.64 L606.90,202.28 L607.20,200.72 L607.50,199.46 L607.80,198.85 L608.10,199.04 L608.40,199.97 L608.70,201.43 L609.00,202.90 L609.30,204.06 L609.60,204.71 L609.90,204.66 L610.20,203.94 L610.50,202.73 L610.80,201.46 L611.10,200.47 L611.40,199.87 L611.70,199.81 L612.00,200.31 L612.30,201.23 L612.60,202.48 L612.90,203.87 L613.20,204.78 L613.50,204.99 L613.80,204.44 L614.10,203.27 L614.40,201.75 L614.70,200.16 L615.00,199.04 L615.30,198.67 L615.60,199.14 L615.90,200.34 L616.20,201.96 L616.50,203.43 L616.80,204.54 L617.10,205.00 L617.40,204.69 L617.70,203.71 L618.00,202.29 L618.30,201.12 L618.60,200.26 L618.90,199.84 L619.20,199.97 L619.50,200.61 L619.80,201.61 L620.10,202.99 L620.40,204.29 L620.70,205.00 L621.00,204.95 L621.30,204.15 L621.60,202.81 L621.90,201.54 L622.20,200.69 L622.50,200.18 L622.80,200.13 L623.10,200.55 L623.40,201.34 L623.70,202.41 L624.00,203.59 L624.30,204.37 L624.60,204.54 L624.90,204.08 L625.20,203.08 L625.50,201.75 L625.80,200.17 L626.10,199.05 L626.40,198.68 L626.70,199.16 L627.00,200.35 L627.30,201.96 L627.60,203.67 L627.90,204.95 L628.20,205.48 L628.50,205.13 L628.80,203.98 L629.10,202.33 L629.40,200.93 L629.70,199.89 L630.00,199.37 L630.30,199.53 L630.60,200.31 L630.90,201.52 L631.20,203.08 L631.50,204.49 L631.80,205.27 L632.10,205.21 L632.40,204.33 L632.70,202.84 L633.00,201.25 L633.30,199.97 L633.60,199.17 L633.90,199.06 L634.20,199.64 L634.50,200.77 L634.80,202.22 L635.10,203.74 L635.40,204.70 L635.70,204.86 L636.00,204.14 L636.30,202.72 L636.60,200.85 L636.90,198.58 L637.20,196.96 L637.50,196.40 L637.80,197.04 L638.10,198.70 L638.40,200.97 L638.70,204.02 L639.00,206.36 L639.30,207.37 L639.60,206.82 L639.90,204.86 L640.20,202.01 L640.50,199.75 L640.80,198.10 L641.10,197.33 L641.40,197.65 L641.70,199.00 L642.00,201.04 L642.30,202.82 L642.60,204.09 L642.90,204.79 L643.20,204.77 L643.50,204.02 L643.80,202.74 L644.10,201.20 L644.40,199.79 L644.70,198.93 L645.00,198.84 L645.30,199.55 L645.60,200.88 L645.90,202.46 L646.20,203.86 L646.50,204.78 L646.80,204.99 L647.10,204.43 L647.40,203.23 L647.70,201.75 L648.00,200.51 L648.30,199.62 L648.60,199.33 L648.90,199.68 L649.20,200.60 L649.50,201.84 L649.80,203.59 L650.10,204.92 L650.40,205.45 L650.70,205.06 L651.00,203.85 L651.30,202.10 L651.60,200.08 L651.90,198.44 L652.20,197.63 L652.50,197.83 L652.80,199.00 L653.10,200.83 L653.40,202.85 L653.70,204.53 L654.00,205.44 L654.30,205.33 L654.60,204.22 L654.90,202.39 L655.20,199.89 L655.50,197.32 L655.80,195.74 L656.10,195.54 L656.40,196.76 L656.70,199.07 L657.00,201.53 L657.30,203.07 L657.60,204.07 L657.90,204.26 L658.20,203.59 L658.50,202.21 L658.80,200.30 L659.10,197.56 L659.40,195.61 L659.70,194.95 L660.00,195.73 L660.30,197.74 L660.60,200.48 L660.90,203.72 L661.20,206.16 L661.50,207.17 L661.80,206.49 L662.10,204.30 L662.40,201.14 L662.70,198.30 L663.00,196.13 L663.30,195.09 L663.60,195.43 L663.90,197.08 L664.20,199.62 L664.50,202.12 L664.80,204.08 L665.10,205.18 L665.40,205.14 L665.70,203.99 L666.00,202.03 L666.30,199.43 L666.60,196.82 L666.90,195.25 L667.20,195.14 L667.50,196.52 L667.80,199.05 L668.10,201.87 L668.40,203.97 L668.70,205.37 L669.00,205.73 L669.30,204.96 L669.60,203.27 L669.90,201.18 L670.20,199.60 L670.50,198.49 L670.80,198.15 L671.10,198.67 L671.40,199.93 L671.70,201.62 L672.00,202.83" stroke="#ff0000" fill="none" stroke-linejoin="round" stroke-linecap="round" stroke-width="1.5"/><path d="M401.80,137.90 L401.83,138.03 L401.86,138.19 L401.89,138.35 L401.93,138.54 L401.97,138.73 L402.01,138.94 L402.05,139.17 L402.10,139.40 L402.15,139.65 L402.20,139.90 L402.25,140.16 L402.30,140.43 L402.36,140.71 L402.42,140.99 L402.47,141.28 L402.53,141.57 L402.59,141.86 L402.65,142.16 L402.71,142.45 L402.77,142.75 L402.83,143.04 L402.90,143.33 L402.96,143.62 L403.02,143.90 L403.08,144.18 L403.14,144.45 L403.21,144.72 L403.27,144.97 L403.33,145.22 L403.39,145.46 L403.44,145.69 L403.50,145.90 L403.58,146.20 L403.67,146.51 L403.75,146.82 L403.84,147.13 L403.93,147.43 L404.02,147.74 L404.11,148.04 L404.20,148.33 L404.29,148.62 L404.38,148.90 L404.47,149.17 L404.56,149.44 L404.65,149.69 L404.74,149.92 L404.83,150.15 L404.91,150.35 L405.00,150.54 L405.08,150.72 L405.16,150.87 L405.25,151.00 L405.32,151.11 L405.40,151.20 L405.58,151.29 L405.74,151.22 L405.89,151.03 L406.04,150.75 L406.18,150.41 L406.33,150.05 L406.48,149.70 L406.63,149.41 L406.80,149.20 L407.03,149.01 L407.27,148.85 L407.52,148.72 L407.77,148.61 L408.02,148.52 L408.27,148.45 L408.50,148.40 L408.76,148.38 L409.00,148.41 L409.23,148.47 L409.47,148.54 L409.72,148.59 L410.00,148.60 L410.23,148.57 L410.46,148.53 L410.71,148.46 L410.97,148.39 L411.23,148.33 L411.49,148.26 L411.75,148.22 L412.00,148.20 L412.25,148.21 L412.50,148.25 L412.76,148.31 L413.01,148.37 L413.26,148.43 L413.51,148.48 L413.76,148.51 L414.00,148.50 L414.27,148.49 L414.55,148.49 L414.82,148.49 L415.08,148.44 L415.34,148.33 L415.58,148.12 L415.80,147.80 L415.88,147.65 L415.95,147.47 L416.03,147.28 L416.10,147.08 L416.17,146.86 L416.23,146.63 L416.30,146.38 L416.36,146.13 L416.43,145.87 L416.49,145.59 L416.55,145.32 L416.61,145.03 L416.66,144.74 L416.72,144.45 L416.78,144.16 L416.83,143.87 L416.89,143.58 L416.94,143.29 L417.00,143.00 L417.04,142.77 L417.08,142.55 L417.12,142.32 L417.16,142.09 L417.20,141.86 L417.24,141.63 L417.27,141.40 L417.31,141.16 L417.34,140.93 L417.38,140.69 L417.41,140.44 L417.44,140.20 L417.48,139.95 L417.51,139.70 L417.55,139.45 L417.58,139.19 L417.62,138.93 L417.65,138.67 L417.69,138.40 L417.73,138.13 L417.77,137.85 L417.81,137.57 L417.86,137.29 L417.90,137.00 L417.93,136.78 L417.97,136.55 L418.01,136.32 L418.04,136.09 L418.08,135.85 L418.12,135.60 L418.16,135.36 L418.20,135.11 L418.24,134.85 L418.28,134.60 L418.32,134.34 L418.36,134.08 L418.40,133.82 L418.44,133.56 L418.48,133.29 L418.52,133.03 L418.57,132.77 L418.61,132.50 L418.65,132.24 L418.69,131.98 L418.74,131.72 L418.78,131.46 L418.82,131.20 L418.87,130.94 L418.91,130.69 L418.95,130.44 L418.99,130.19 L419.03,129.94 L419.08,129.70 L419.12,129.46 L419.16,129.23 L419.20,129.00 L419.25,128.72 L419.30,128.45 L419.35,128.18 L419.40,127.91 L419.45,127.64 L419.50,127.38 L419.54,127.12 L419.59,126.86 L419.64,126.60 L419.69,126.35 L419.74,126.09 L419.79,125.84 L419.84,125.59 L419.89,125.35 L419.94,125.10 L419.99,124.86 L420.04,124.62 L420.09,124.38 L420.14,124.14 L420.19,123.90 L420.24,123.66 L420.29,123.43 L420.34,123.20 L420.39,122.96 L420.45,122.73 L420.50,122.50 L420.56,122.23 L420.63,121.95 L420.69,121.67 L420.76,121.40 L420.83,121.12 L420.89,120.84 L420.96,120.57 L421.03,120.29 L421.10,120.02 L421.17,119.75 L421.24,119.49 L421.31,119.23 L421.38,118.97 L421.45,118.72 L421.52,118.48 L421.59,118.24 L421.66,118.01 L421.72,117.79 L421.79,117.58 L421.86,117.38 L421.93,117.18 L422.00,117.00 L422.15,116.61 L422.30,116.24 L422.45,115.89 L422.60,115.56 L422.75,115.27 L422.90,115.03 L423.05,114.85 L423.20,114.72 L423.35,114.67 L423.50,114.70 L423.60,114.77 L423.70,114.88 L423.80,115.02 L423.90,115.20 L424.00,115.41 L424.10,115.64 L424.21,115.90 L424.31,116.18 L424.41,116.47 L424.51,116.78 L424.61,117.10 L424.71,117.42 L424.81,117.75 L424.90,118.08 L425.00,118.40 L425.06,118.60 L425.12,118.81 L425.18,119.02 L425.24,119.24 L425.30,119.46 L425.35,119.69 L425.41,119.91 L425.47,120.15 L425.53,120.39 L425.59,120.63 L425.64,120.87 L425.70,121.12 L425.76,121.37 L425.81,121.62 L425.87,121.88 L425.93,122.14 L425.99,122.40 L426.05,122.67 L426.10,122.94 L426.16,123.20 L426.22,123.48 L426.28,123.75 L426.34,124.02 L426.40,124.30 L426.45,124.52 L426.50,124.73 L426.55,124.94 L426.59,125.14 L426.64,125.34 L426.69,125.53 L426.74,125.72 L426.79,125.92 L426.84,126.11 L426.89,126.30 L426.94,126.49 L426.99,126.69 L427.04,126.89 L427.09,127.10 L427.14,127.31 L427.19,127.52 L427.24,127.75 L427.30,127.98 L427.35,128.22 L427.40,128.47 L427.45,128.73 L427.50,129.00 L427.55,129.28 L427.60,129.58 L427.65,129.89 L427.70,130.22 L427.75,130.56 L427.80,130.92 L427.85,131.30 L427.90,131.70 L427.92,131.88 L427.94,132.07 L427.97,132.26 L427.99,132.45 L428.01,132.65 L428.03,132.86 L428.05,133.06 L428.08,133.27 L428.10,133.49 L428.12,133.71 L428.14,133.93 L428.17,134.15 L428.19,134.38 L428.21,134.61 L428.23,134.85 L428.26,135.09 L428.28,135.33 L428.30,135.57 L428.32,135.82 L428.34,136.06 L428.37,136.31 L428.39,136.57 L428.41,136.82 L428.43,137.08 L428.46,137.34 L428.48,137.60 L428.50,137.86 L428.52,138.13 L428.54,138.39 L428.57,138.66 L428.59,138.93 L428.61,139.20 L428.63,139.47 L428.66,139.74 L428.68,140.01 L428.70,140.28 L428.72,140.56 L428.75,140.83 L428.77,141.10 L428.79,141.38 L428.81,141.65 L428.83,141.93 L428.86,142.20 L428.88,142.48 L428.90,142.75 L428.92,143.02 L428.94,143.30 L428.97,143.57 L428.99,143.84 L429.01,144.11 L429.03,144.38 L429.05,144.65 L429.08,144.92 L429.10,145.18 L429.12,145.45 L429.14,145.71 L429.16,145.97 L429.18,146.23 L429.21,146.49 L429.23,146.74 L429.25,147.00 L429.27,147.25 L429.29,147.50 L429.31,147.74 L429.34,147.99 L429.36,148.23 L429.38,148.46 L429.40,148.70 L429.42,148.97 L429.45,149.24 L429.47,149.51 L429.50,149.78 L429.52,150.04 L429.55,150.31 L429.57,150.58 L429.60,150.84 L429.62,151.11 L429.65,151.38 L429.67,151.64 L429.69,151.91 L429.72,152.17 L429.74,152.43 L429.77,152.70 L429.79,152.96 L429.82,153.22 L429.84,153.48 L429.87,153.74 L429.89,154.01 L429.91,154.26 L429.94,154.52 L429.96,154.78 L429.99,155.04 L430.01,155.30 L430.03,155.55 L430.06,155.81 L430.08,156.06 L430.11,156.32 L430.13,156.57 L430.15,156.82 L430.18,157.07 L430.20,157.32 L430.23,157.57 L430.25,157.82 L430.27,158.07 L430.30,158.32 L430.32,158.57 L430.34,158.81 L430.37,159.06 L430.39,159.30 L430.41,159.54 L430.44,159.78 L430.46,160.02 L430.48,160.26 L430.51,160.50 L430.53,160.74 L430.55,160.98 L430.58,161.21 L430.60,161.44 L430.62,161.68 L430.64,161.91 L430.67,162.14 L430.69,162.37 L430.71,162.60 L430.73,162.83 L430.76,163.05 L430.78,163.28 L430.80,163.50 L430.83,163.79 L430.86,164.07 L430.88,164.36 L430.91,164.64 L430.94,164.93 L430.96,165.21 L430.99,165.49 L431.02,165.77 L431.04,166.05 L431.07,166.33 L431.10,166.61 L431.12,166.89 L431.15,167.17 L431.17,167.44 L431.20,167.72 L431.22,167.99 L431.25,168.26 L431.27,168.53 L431.30,168.80 L431.32,169.06 L431.35,169.32 L431.37,169.58 L431.40,169.84 L431.43,170.10 L431.45,170.35 L431.48,170.61 L431.50,170.86 L431.53,171.10 L431.55,171.35 L431.58,171.59 L431.60,171.83 L431.63,172.06 L431.65,172.30 L431.68,172.52 L431.70,172.75 L431.73,172.97 L431.76,173.19 L431.78,173.41 L431.81,173.62 L431.84,173.83 L431.86,174.04 L431.89,174.24 L431.92,174.43 L431.94,174.63 L431.97,174.82 L432.00,175.00 L432.06,175.40 L432.13,175.79 L432.19,176.17 L432.26,176.54 L432.32,176.90 L432.39,177.25 L432.46,177.58 L432.52,177.90 L432.59,178.21 L432.66,178.50 L432.73,178.77 L432.80,179.03 L432.86,179.26 L432.93,179.47 L433.00,179.67 L433.07,179.84 L433.14,179.98 L433.20,180.10 L433.27,180.19 L433.34,180.26 L433.40,180.30 L433.48,180.32 L433.55,180.31 L433.63,180.28 L433.70,180.22 L433.77,180.12 L433.84,180.00 L433.91,179.84 L433.98,179.65 L434.05,179.42 L434.12,179.15 L434.19,178.84 L434.27,178.48 L434.35,178.08 L434.43,177.64 L434.52,177.14 L434.61,176.60 L434.70,176.00 L434.72,175.84 L434.75,175.67 L434.77,175.50 L434.80,175.32 L434.82,175.14 L434.85,174.95 L434.88,174.75 L434.90,174.54 L434.93,174.34 L434.95,174.12 L434.98,173.90 L435.01,173.68 L435.03,173.45 L435.06,173.22 L435.09,172.98 L435.12,172.74 L435.14,172.49 L435.17,172.24 L435.20,171.99 L435.23,171.73 L435.26,171.47 L435.28,171.21 L435.31,170.94 L435.34,170.67 L435.37,170.40 L435.40,170.13 L435.43,169.85 L435.46,169.57 L435.49,169.30 L435.52,169.02 L435.55,168.73 L435.58,168.45 L435.61,168.17 L435.64,167.88 L435.67,167.60 L435.70,167.31 L435.73,167.02 L435.76,166.74 L435.79,166.45 L435.82,166.17 L435.85,165.88 L435.88,165.60 L435.91,165.32 L435.94,165.03 L435.97,164.75 L436.01,164.47 L436.04,164.20 L436.07,163.92 L436.10,163.65 L436.13,163.38 L436.16,163.11 L436.19,162.84 L436.23,162.58 L436.26,162.32 L436.29,162.06 L436.32,161.81 L436.35,161.56 L436.38,161.31 L436.42,161.07 L436.45,160.83 L436.48,160.60 L436.51,160.37 L436.54,160.14 L436.57,159.92 L436.61,159.71 L436.64,159.50 L436.67,159.30 L436.70,159.10 L436.76,158.76 L436.81,158.43 L436.87,158.10 L436.93,157.78 L436.99,157.46 L437.05,157.14 L437.11,156.83 L437.17,156.52 L437.23,156.22 L437.29,155.92 L437.35,155.63 L437.42,155.34 L437.48,155.06 L437.54,154.78 L437.60,154.51 L437.67,154.24 L437.73,153.98 L437.79,153.72 L437.86,153.46 L437.92,153.21 L437.98,152.97 L438.04,152.73 L438.11,152.50 L438.17,152.27 L438.23,152.05 L438.29,151.83 L438.35,151.62 L438.41,151.41 L438.47,151.21 L438.52,151.01 L438.58,150.82 L438.64,150.64 L438.69,150.46 L438.75,150.28 L438.80,150.12 L438.85,149.95 L438.90,149.80 L438.95,149.65 L439.00,149.50 L439.21,148.90 L439.39,148.47 L439.56,148.18 L439.71,148.01 L439.86,147.94 L440.01,147.93 L440.19,147.96 L440.40,148.00 L440.56,148.05 L440.72,148.13 L440.89,148.24 L441.07,148.38 L441.25,148.54 L441.44,148.73 L441.64,148.94 L441.83,149.17 L442.02,149.41 L442.22,149.66 L442.41,149.93 L442.60,150.20 L442.72,150.38 L442.84,150.56 L442.97,150.76 L443.09,150.96 L443.22,151.16 L443.35,151.38 L443.48,151.60 L443.61,151.82 L443.74,152.05 L443.86,152.29 L443.99,152.53 L444.11,152.77 L444.24,153.02 L444.36,153.28 L444.47,153.54 L444.59,153.80 L444.70,154.06 L444.80,154.33 L444.90,154.60 L444.98,154.82 L445.05,155.03 L445.12,155.25 L445.19,155.48 L445.25,155.70 L445.32,155.93 L445.38,156.16 L445.44,156.40 L445.50,156.63 L445.55,156.87 L445.61,157.11 L445.66,157.36 L445.72,157.60 L445.77,157.85 L445.82,158.10 L445.87,158.36 L445.93,158.62 L445.98,158.88 L446.03,159.14 L446.08,159.41 L446.14,159.68 L446.19,159.95 L446.24,160.22 L446.30,160.50 L446.34,160.72 L446.39,160.93 L446.43,161.14 L446.47,161.35 L446.51,161.55 L446.56,161.74 L446.60,161.94 L446.64,162.13 L446.68,162.33 L446.71,162.52 L446.75,162.72 L446.79,162.92 L446.83,163.12 L446.87,163.33 L446.91,163.54 L446.95,163.76 L446.99,163.99 L447.03,164.22 L447.08,164.47 L447.12,164.72 L447.16,164.99 L447.21,165.26 L447.25,165.55 L447.30,165.85 L447.34,166.17 L447.39,166.50 L447.44,166.85 L447.49,167.22 L447.55,167.60 L447.60,168.00 L447.62,168.18 L447.65,168.37 L447.67,168.56 L447.70,168.75 L447.72,168.95 L447.75,169.15 L447.78,169.36 L447.80,169.56 L447.83,169.78 L447.86,169.99 L447.88,170.21 L447.91,170.44 L447.94,170.66 L447.97,170.89 L448.00,171.12 L448.03,171.36 L448.06,171.60 L448.08,171.84 L448.11,172.08 L448.14,172.33 L448.17,172.58 L448.20,172.83 L448.23,173.08 L448.26,173.33 L448.29,173.59 L448.32,173.85 L448.36,174.11 L448.39,174.37 L448.42,174.63 L448.45,174.90 L448.48,175.16 L448.51,175.43 L448.54,175.70 L448.57,175.97 L448.60,176.24 L448.63,176.51 L448.67,176.78 L448.70,177.05 L448.73,177.32 L448.76,177.59 L448.79,177.87 L448.82,178.14 L448.85,178.41 L448.88,178.69 L448.91,178.96 L448.94,179.23 L448.98,179.51 L449.01,179.78 L449.04,180.05 L449.07,180.32 L449.10,180.59 L449.13,180.86 L449.16,181.13 L449.19,181.39 L449.21,181.66 L449.24,181.93 L449.27,182.19 L449.30,182.45 L449.33,182.71 L449.36,182.97 L449.39,183.23 L449.41,183.48 L449.44,183.73 L449.47,183.98 L449.50,184.23 L449.52,184.48 L449.55,184.72 L449.57,184.96 L449.60,185.20 L449.63,185.46 L449.66,185.73 L449.68,186.00 L449.71,186.27 L449.74,186.54 L449.77,186.81 L449.80,187.08 L449.83,187.36 L449.85,187.63 L449.88,187.91 L449.91,188.18 L449.94,188.46 L449.96,188.74 L449.99,189.02 L450.02,189.29 L450.05,189.57 L450.07,189.85 L450.10,190.13 L450.13,190.41 L450.16,190.69 L450.18,190.96 L450.21,191.24 L450.24,191.52 L450.26,191.79 L450.29,192.07 L450.32,192.34 L450.34,192.61 L450.37,192.89 L450.39,193.16 L450.42,193.43 L450.44,193.69 L450.47,193.96 L450.49,194.22 L450.52,194.49 L450.54,194.75 L450.57,195.01 L450.59,195.26 L450.62,195.52 L450.64,195.77 L450.66,196.02 L450.68,196.27 L450.71,196.51 L450.73,196.76 L450.75,197.00 L450.77,197.23 L450.80,197.47 L450.82,197.70 L450.84,197.92 L450.86,198.15 L450.88,198.37 L450.90,198.58 L450.92,198.80 L450.94,199.01 L450.96,199.21 L450.98,199.41 L451.00,199.61 L451.01,199.80 L451.03,199.99 L451.05,200.18 L451.07,200.35 L451.08,200.53 L451.10,200.70 L451.15,201.18 L451.19,201.62 L451.23,202.04 L451.26,202.42 L451.30,202.78 L451.33,203.11 L451.36,203.42 L451.39,203.70 L451.41,203.96 L451.43,204.20 L451.45,204.43 L451.47,204.63 L451.49,204.83 L451.51,205.00 L451.52,205.17 L451.54,205.32 L451.55,205.47 L451.56,205.61 L451.58,205.74 L451.59,205.87 L451.60,206.00 L451.80,207.33 L453.33,200.66 L454.95,209.99 L456.40,201.36 L457.78,208.46 L459.40,202.03 L460.58,209.31 L462.25,201.16 L463.60,207.47 L465.31,201.91 L466.95,206.90 L468.37,201.53 L469.81,206.62 L471.47,202.57 L472.75,209.07 L474.35,201.10 L475.93,206.67 L477.57,202.73 L479.25,207.36 L480.67,202.28 L482.05,206.23 L483.63,200.46 L485.08,207.91 L486.36,201.49 L487.89,206.67 L489.25,200.56 L490.75,206.96 L491.95,201.06 L493.33,208.23 L495.01,200.39 L496.74,209.45 L498.42,200.74 L499.72,210.15 L500.92,199.61 L502.36,209.20 L503.67,202.01 L504.93,206.52 L506.61,200.60 L508.05,207.25 L509.51,200.91 L510.80,208.68 L512.47,201.44 L513.96,208.47 L515.43,202.45 L516.60,208.37 L517.77,201.57 L519.43,207.76 L520.82,200.75 L522.06,206.41 L523.24,201.70 L524.90,207.88 L526.37,202.19 L527.66,206.64 L529.04,201.22 L530.22,208.39 L531.83,200.74 L533.26,206.66 L534.52,201.07 L536.09,206.95 L537.47,202.43 L538.80,207.71 L540.51,202.76 L541.97,208.92 L543.31,200.42 L544.79,207.28 L546.52,201.38 L548.26,206.63 L549.46,200.91 L550.88,207.78 L552.41,201.83 L553.80,207.39 L554.99,201.56 L556.56,209.10 L557.98,201.95 L559.42,208.94 L560.63,201.17 L562.21,209.52 L563.73,200.70 L565.39,208.50 L566.69,200.46 L568.21,208.79 L569.94,202.92 L571.28,207.20 L572.76,202.73 L574.47,208.27 L575.69,200.66 L576.97,207.30 L578.53,202.58 L579.88,207.20 L581.13,201.12 L582.63,207.02 L584.34,201.79 L585.86,206.93 L587.24,202.17 L588.96,206.61 L590.66,200.97 L592.11,206.52 L593.67,202.17 L595.15,206.51 L596.57,200.65 L597.81,208.58 L599.28,202.75 L600.67,207.66 L602.30,201.06 L603.97,206.45 L605.18,200.83 L606.78,206.63 L608.41,201.52 L609.84,208.36 L611.16,202.02 L612.68,208.46 L613.88,201.80 L615.15,206.84 L616.33,201.84 L617.87,206.59 L619.57,201.55 L621.13,208.39 L622.34,200.51 L623.52,207.55 L625.05,202.34 L626.49,207.44 L628.12,199.60 L629.41,209.76 L630.88,199.64 L632.26,210.18 L633.88,202.57 L635.40,208.53 L636.94,202.65 L638.41,208.68 L640.15,201.68 L641.73,208.61 L642.94,201.82 L644.42,208.41 L645.65,202.93 L647.15,206.52 L648.43,202.97 L649.89,208.69 L651.12,202.38 L652.66,208.49 L654.19,202.34 L655.57,207.52 L657.05,201.61 L658.68,208.04 L660.27,201.39 L661.65,207.14 L663.19,201.57 L664.93,206.74 L666.52,200.92 L667.71,207.49 L669.16,201.78 L670.68,208.01" stroke="#0000ff" fill="none" stroke-linejoin="round" stroke-linecap="round" stroke-width="1.5"/></g>
<line x1="35.50" y1="215.5" x2="35.50" y2="217.7" stroke="#7a7a7a" stroke-width="0.9"/><line x1="80.67" y1="215.5" x2="80.67" y2="217.7" stroke="#7a7a7a" stroke-width="0.9"/><line x1="125.83" y1="215.5" x2="125.83" y2="217.7" stroke="#7a7a7a" stroke-width="0.9"/><line x1="171.00" y1="215.5" x2="171.00" y2="217.7" stroke="#7a7a7a" stroke-width="0.9"/><line x1="216.17" y1="215.5" x2="216.17" y2="217.7" stroke="#7a7a7a" stroke-width="0.9"/><line x1="261.33" y1="215.5" x2="261.33" y2="217.7" stroke="#7a7a7a" stroke-width="0.9"/><line x1="306.50" y1="215.5" x2="306.50" y2="217.7" stroke="#7a7a7a" stroke-width="0.9"/><line x1="401.50" y1="215.5" x2="401.50" y2="217.7" stroke="#7a7a7a" stroke-width="0.9"/><line x1="469.25" y1="215.5" x2="469.25" y2="217.7" stroke="#7a7a7a" stroke-width="0.9"/><line x1="537.00" y1="215.5" x2="537.00" y2="217.7" stroke="#7a7a7a" stroke-width="0.9"/><line x1="604.75" y1="215.5" x2="604.75" y2="217.7" stroke="#7a7a7a" stroke-width="0.9"/><line x1="672.50" y1="215.5" x2="672.50" y2="217.7" stroke="#7a7a7a" stroke-width="0.9"/><line x1="33.3" y1="116.8" x2="35.5" y2="116.8" stroke="#7a7a7a" stroke-width="0.9"/><line x1="33.3" y1="151.3" x2="35.5" y2="151.3" stroke="#7a7a7a" stroke-width="0.9"/><line x1="33.3" y1="185.8" x2="35.5" y2="185.8" stroke="#7a7a7a" stroke-width="0.9"/><line x1="399.3" y1="106.0" x2="401.5" y2="106.0" stroke="#7a7a7a" stroke-width="0.9"/><line x1="399.3" y1="144.9" x2="401.5" y2="144.9" stroke="#7a7a7a" stroke-width="0.9"/><line x1="399.3" y1="184.2" x2="401.5" y2="184.2" stroke="#7a7a7a" stroke-width="0.9"/>
<g class="gt"><text x="35.50" y="228.0" font-size="12.4" fill="#111" stroke="#111" stroke-width="0.3" text-anchor="middle">0</text><text x="80.67" y="228.0" font-size="12.4" fill="#111" stroke="#111" stroke-width="0.3" text-anchor="middle">1000</text><text x="125.83" y="228.0" font-size="12.4" fill="#111" stroke="#111" stroke-width="0.3" text-anchor="middle">2000</text><text x="171.00" y="228.0" font-size="12.4" fill="#111" stroke="#111" stroke-width="0.3" text-anchor="middle">3000</text><text x="216.17" y="228.0" font-size="12.4" fill="#111" stroke="#111" stroke-width="0.3" text-anchor="middle">4000</text><text x="261.33" y="228.0" font-size="12.4" fill="#111" stroke="#111" stroke-width="0.3" text-anchor="middle">5000</text><text x="306.50" y="228.0" font-size="12.4" fill="#111" stroke="#111" stroke-width="0.3" text-anchor="middle">6000</text><text x="401.50" y="228.0" font-size="12.4" fill="#111" stroke="#111" stroke-width="0.3" text-anchor="middle">0</text><text x="469.25" y="228.0" font-size="12.4" fill="#111" stroke="#111" stroke-width="0.3" text-anchor="middle">1000</text><text x="537.00" y="228.0" font-size="12.4" fill="#111" stroke="#111" stroke-width="0.3" text-anchor="middle">2000</text><text x="604.75" y="228.0" font-size="12.4" fill="#111" stroke="#111" stroke-width="0.3" text-anchor="middle">3000</text><text x="672.50" y="228.0" font-size="12.4" fill="#111" stroke="#111" stroke-width="0.3" text-anchor="middle">4000</text><text x="31.50" y="121.20" font-size="12.0" fill="#111" stroke="#111" stroke-width="0.3" text-anchor="end">4</text><text x="31.50" y="155.70" font-size="12.0" fill="#111" stroke="#111" stroke-width="0.3" text-anchor="end">3</text><text x="31.50" y="190.20" font-size="12.0" fill="#111" stroke="#111" stroke-width="0.3" text-anchor="end">2</text><text x="397.50" y="110.40" font-size="12.0" fill="#111" stroke="#111" stroke-width="0.3" text-anchor="end">4</text><text x="397.50" y="149.30" font-size="12.0" fill="#111" stroke="#111" stroke-width="0.3" text-anchor="end">3</text><text x="397.50" y="188.60" font-size="12.0" fill="#111" stroke="#111" stroke-width="0.3" text-anchor="end">2</text></g>
<text class="gt" transform="translate(20.4,200.74) rotate(-90)" font-size="11.8" fill="#1a1a1a" textLength="82.35" lengthAdjust="spacingAndGlyphs">Bond Length (Å)</text>
<text class="gt" transform="translate(386.4,200.74) rotate(-90)" font-size="11.8" fill="#1a1a1a" textLength="82.35" lengthAdjust="spacingAndGlyphs">Bond Length (Å)</text>
<rect x="173.9" y="131.0" width="19.19999999999999" height="5.4" rx="1.2" fill="#ff0000"/>
<rect x="173.9" y="145.75" width="19.19999999999999" height="5.4" rx="1.2" fill="#0000ff"/>
<rect x="530.7" y="125.60000000000001" width="18.799999999999955" height="5.4" rx="1.2" fill="#ff0000"/>
<rect x="530.7" y="140.10000000000002" width="18.799999999999955" height="5.4" rx="1.2" fill="#0000ff"/>
<g class="gt"><text x="-0.18" y="7.90" font-size="10.3" font-weight="bold" fill="#000" textLength="14.10" lengthAdjust="spacingAndGlyphs">(a)</text><text x="22.55" y="10.10" font-size="9.8" font-weight="bold" fill="#000" textLength="28.17" lengthAdjust="spacingAndGlyphs">0.0 ps</text><text x="111.97" y="10.20" font-size="9.8" font-weight="bold" fill="#000" textLength="28.35" lengthAdjust="spacingAndGlyphs">1.5 ps</text><text x="196.67" y="9.80" font-size="9.8" font-weight="bold" fill="#000" textLength="28.35" lengthAdjust="spacingAndGlyphs">1.6 ps</text><text x="273.95" y="9.80" font-size="9.8" font-weight="bold" fill="#000" textLength="28.78" lengthAdjust="spacingAndGlyphs">6.0 ps</text><text x="365.39" y="9.80" font-size="10.3" font-weight="bold" fill="#000" textLength="15.56" lengthAdjust="spacingAndGlyphs">(b)</text><text x="391.45" y="9.80" font-size="9.8" font-weight="bold" fill="#000" textLength="28.17" lengthAdjust="spacingAndGlyphs">0.0 ps</text><text x="460.25" y="7.90" font-size="9.8" font-weight="bold" fill="#000" textLength="28.27" lengthAdjust="spacingAndGlyphs">0.7 ps</text><text x="535.25" y="9.50" font-size="9.8" font-weight="bold" fill="#000" textLength="34.37" lengthAdjust="spacingAndGlyphs">0.85 ps</text><text x="621.49" y="9.80" font-size="9.8" font-weight="bold" fill="#000" textLength="27.83" lengthAdjust="spacingAndGlyphs">4.0 ps</text><text x="17.09" y="47.40" font-size="10.4" font-weight="bold" fill="#000" textLength="13.25" lengthAdjust="spacingAndGlyphs">N1</text><text x="38.41" y="46.20" font-size="10.4" font-weight="bold" fill="#000" textLength="11.88" lengthAdjust="spacingAndGlyphs">C2</text><text x="18.33" y="69.50" font-size="10.0" font-weight="bold" fill="#000" textLength="11.44" lengthAdjust="spacingAndGlyphs">C1</text><text x="38.69" y="71.90" font-size="10.0" font-weight="bold" fill="#000" textLength="13.23" lengthAdjust="spacingAndGlyphs">O1</text><text x="50.60" y="94.90" font-size="10.0" font-weight="bold" fill="#000" textLength="12.69" lengthAdjust="spacingAndGlyphs">O2</text><text x="73.10" y="56.20" font-size="9.0" font-weight="bold" fill="#000" textLength="27.22" lengthAdjust="spacingAndGlyphs">2.39 Å</text><text x="136.40" y="60.50" font-size="9.0" font-weight="bold" fill="#000" textLength="27.12" lengthAdjust="spacingAndGlyphs">2.77 Å</text><text x="196.38" y="137.50" font-size="9.8" font-weight="bold" fill="#000" textLength="29.25" lengthAdjust="spacingAndGlyphs">C1-N1</text><text x="196.38" y="151.70" font-size="9.8" font-weight="bold" fill="#000" textLength="29.64" lengthAdjust="spacingAndGlyphs">C2-O2</text><text x="553.17" y="132.10" font-size="9.8" font-weight="bold" fill="#000" textLength="29.66" lengthAdjust="spacingAndGlyphs">C1-N1</text><text x="553.18" y="146.40" font-size="9.8" font-weight="bold" fill="#000" textLength="29.84" lengthAdjust="spacingAndGlyphs">C2-O2</text><text x="121.06" y="241.00" font-size="12.3" font-weight="normal" fill="#111" stroke="#111" stroke-width="0.3" textLength="99.17" lengthAdjust="spacingAndGlyphs">Simulation time (fs)</text><text x="486.66" y="241.00" font-size="12.3" font-weight="normal" fill="#111" stroke="#111" stroke-width="0.3" textLength="99.67" lengthAdjust="spacingAndGlyphs">Simulation time (fs)</text></g>
<circle cx="97.9" cy="49.4" r="0.95" fill="none" stroke="#222" stroke-width="0.6"/>
<circle cx="160.9" cy="53.2" r="0.95" fill="none" stroke="#222" stroke-width="0.6"/>
</svg></body></html>
